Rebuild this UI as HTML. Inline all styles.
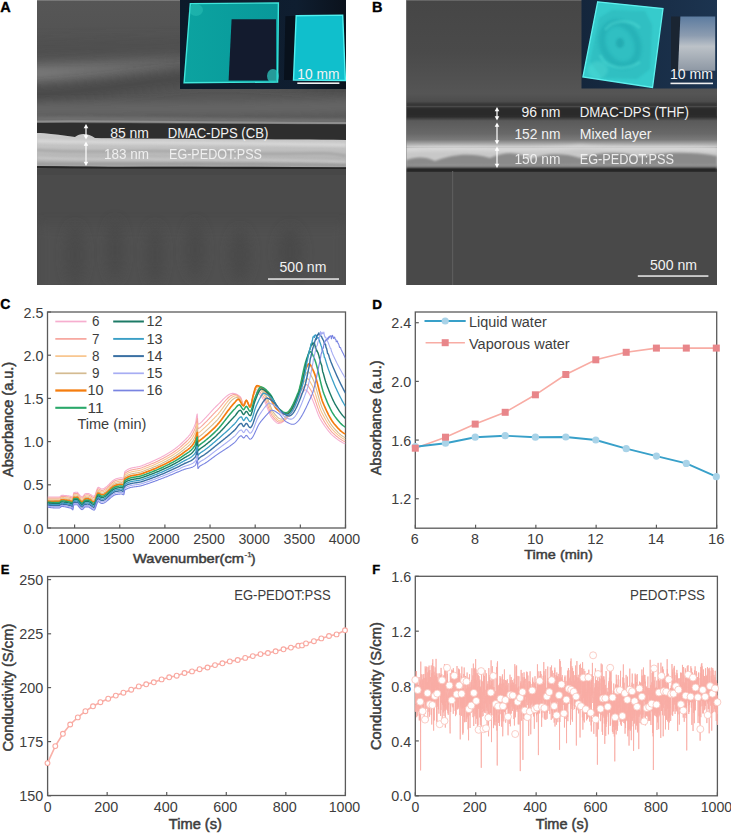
<!DOCTYPE html>
<html><head><meta charset="utf-8"><style>
html,body{margin:0;padding:0;background:#fff;}
body{width:731px;height:833px;overflow:hidden;}
svg{display:block;font-family:"Liberation Sans", sans-serif;}
</style></head><body>
<svg width="731" height="833" viewBox="0 0 731 833">
<defs><filter id="blur2" filterUnits="userSpaceOnUse" x="0" y="0" width="731" height="833"><feGaussianBlur stdDeviation="1.5"/></filter><filter id="blur1" filterUnits="userSpaceOnUse" x="0" y="0" width="731" height="833"><feGaussianBlur stdDeviation="0.8"/></filter><filter id="blur4" filterUnits="userSpaceOnUse" x="0" y="0" width="731" height="833"><feGaussianBlur stdDeviation="4"/></filter><filter id="blur6" filterUnits="userSpaceOnUse" x="0" y="0" width="731" height="833"><feGaussianBlur stdDeviation="6"/></filter><filter id="blur8" filterUnits="userSpaceOnUse" x="0" y="0" width="731" height="833"><feGaussianBlur stdDeviation="9"/></filter></defs>
<defs><clipPath id="clipA"><rect x="37" y="0" width="309" height="285"/></clipPath><clipPath id="clipAbr"><path d="M37 133 C 45 133, 60 135, 75 137 C 80 133, 88 133, 95 138 C 140 139, 220 139, 346 140 L346 167 C 280 168, 200 166, 120 167 C 90 167, 60 166, 37 166 Z"/></clipPath><linearGradient id="gA" x1="0" y1="0" x2="0" y2="1"><stop offset="0" stop-color="#8a8a8a"/><stop offset="0.012" stop-color="#565656"/><stop offset="0.4" stop-color="#525252"/><stop offset="1" stop-color="#585858"/></linearGradient><linearGradient id="gAinset" x1="0" y1="0" x2="1" y2="0"><stop offset="0" stop-color="#0c1a2a"/><stop offset="0.7" stop-color="#0f1e30"/><stop offset="1" stop-color="#0b121c"/></linearGradient><linearGradient id="gAsq" x1="0" y1="0" x2="1" y2="0"><stop offset="0" stop-color="#0ca3a0"/><stop offset="1" stop-color="#08989a"/></linearGradient></defs>
<g clip-path="url(#clipA)">
<rect x="37" y="0" width="309" height="285" fill="#4f4f4f"/>
<rect x="37" y="0" width="309" height="122" fill="url(#gA)"/>
<defs><linearGradient id="gBand" gradientUnits="userSpaceOnUse" x1="37" y1="0" x2="220" y2="0"><stop offset="0" stop-color="#7c7c7c"/><stop offset="0.5" stop-color="#6c6c6c"/><stop offset="1" stop-color="#5c5c5c"/></linearGradient></defs>
<path d="M10 74 C 80 73, 140 66, 220 60" stroke="url(#gBand)" stroke-width="16" fill="none" filter="url(#blur6)"/>
<path d="M20 48 C 100 48, 200 46, 360 44" stroke="#4e4e4e" stroke-width="14" fill="none" opacity="0.7" filter="url(#blur6)"/>
<path d="M10 95 C 80 94, 140 82, 200 76 C 260 74, 300 82, 360 88" stroke="#464646" stroke-width="12" fill="none" filter="url(#blur6)"/>
<path d="M10 110 C 120 108, 240 110, 360 106" stroke="#666666" stroke-width="12" fill="none" filter="url(#blur4)"/>
<path d="M37 119 C 80 118, 140 120, 346 121" stroke="#6e6e6e" stroke-width="5" fill="none" filter="url(#blur1)"/>
<path d="M37 121.5 C 80 120.5, 140 122, 346 123" stroke="#8e8e8e" stroke-width="2" fill="none"/>
<path d="M37 123 C 100 123, 200 124, 346 124.5 L346 140 C 200 139, 120 138, 95 138 C 88 134, 80 134, 75 137 C 60 135, 45 133, 37 133 Z" fill="#2e2e2e"/>
<defs><linearGradient id="gAbr" x1="0" y1="0" x2="0" y2="1"><stop offset="0" stop-color="#cacaca"/><stop offset="0.35" stop-color="#c4c4c4"/><stop offset="0.7" stop-color="#b6b6b6"/><stop offset="1" stop-color="#a8a8a8"/></linearGradient></defs>
<path d="M37 133 C 45 133, 60 135, 75 137 C 80 133, 88 133, 95 138 C 140 139, 220 139, 346 140 L346 167 C 280 168, 200 166, 120 167 C 90 167, 60 166, 37 166 Z" fill="url(#gAbr)"/>
<g clip-path="url(#clipAbr)">
<path d="M37 141 C 100 143, 200 142, 346 145" stroke="#dcdcdc" stroke-width="4" fill="none" opacity="0.7" filter="url(#blur1)"/>
<path d="M37 150 C 80 154, 160 148, 240 153 C 290 156, 320 150, 346 156" stroke="#9a9a9a" stroke-width="2.5" fill="none" opacity="0.6" filter="url(#blur1)"/>
<path d="M37 158 C 100 161, 200 157, 346 162" stroke="#d2d2d2" stroke-width="3" fill="none" opacity="0.6" filter="url(#blur1)"/>
<path d="M37 164 C 100 165, 200 163, 346 165" stroke="#8a8a8a" stroke-width="2" fill="none" opacity="0.6" filter="url(#blur1)"/>
</g>
<path d="M37 167 C 120 168.5, 250 167, 346 168.5" stroke="#262626" stroke-width="2.2" fill="none"/>
<rect x="37" y="169" width="309" height="116" fill="#4b4b4b"/>
<rect x="37" y="169" width="309" height="6" fill="#444" opacity="0.6"/>
<rect x="37" y="225" width="309" height="70" fill="#525252" opacity="0.7" filter="url(#blur6)"/>
<ellipse cx="75" cy="255" rx="9" ry="30" fill="#474747" opacity="0.7" filter="url(#blur6)"/>
<ellipse cx="115" cy="250" rx="8" ry="30" fill="#474747" opacity="0.7" filter="url(#blur6)"/>
<ellipse cx="155" cy="255" rx="8" ry="30" fill="#474747" opacity="0.7" filter="url(#blur6)"/>
<ellipse cx="195" cy="250" rx="9" ry="28" fill="#474747" opacity="0.7" filter="url(#blur6)"/>
<ellipse cx="240" cy="255" rx="10" ry="26" fill="#474747" opacity="0.7" filter="url(#blur6)"/>
<ellipse cx="290" cy="252" rx="12" ry="25" fill="#474747" opacity="0.7" filter="url(#blur6)"/>
<rect x="180" y="0" width="166" height="89" fill="url(#gAinset)"/>
<path d="M190.3 3.6 L278.4 3 L277.6 82 L184.1 82.7 Z" fill="url(#gAsq)" stroke="#3fe6dc" stroke-width="1.4"/>
<path d="M231.6 19.2 L276 19.2 L276 80.4 L228.6 80.4 Z" fill="#131b2e"/>
<ellipse cx="196" cy="10" rx="7" ry="6" fill="#2bc2b8" opacity="0.5"/>
<ellipse cx="273" cy="76" rx="6" ry="7" fill="#2fd0c8" opacity="0.7"/>
<path d="M285.4 16.2 L296.2 15.7 L293.5 80 L284 80 Z" fill="#08111c"/>
<path d="M296.2 15.7 L342.7 15.1 L345.4 80.5 L293.5 80 Z" fill="#10bfcc" stroke="#50f0f0" stroke-width="1.4"/>
<text x="297.3" y="78.6" font-size="14" text-anchor="start" font-weight="normal" fill="#f4f4f4" textLength="42.1" lengthAdjust="spacingAndGlyphs" >10 mm</text>
<rect x="297.3" y="82.4" width="42.1" height="1.6" fill="#f0f0f0"/>
<line x1="86" y1="126" x2="86" y2="137.5" stroke="#ffffff" stroke-width="1.2"/>
<path d="M83.7 128.2 L86 124 L88.3 128.2 Z" fill="#ffffff"/>
<path d="M83.7 135.3 L86 139.5 L88.3 135.3 Z" fill="#ffffff"/>
<line x1="86" y1="143.5" x2="86" y2="164" stroke="#ffffff" stroke-width="1.2"/>
<path d="M83.7 145.7 L86 141.5 L88.3 145.7 Z" fill="#ffffff"/>
<path d="M83.7 161.8 L86 166 L88.3 161.8 Z" fill="#ffffff"/>
<text x="149" y="138" font-size="14" text-anchor="end" font-weight="normal" fill="#f2f2f2" textLength="38.8" lengthAdjust="spacingAndGlyphs" >85 nm</text>
<text x="167.7" y="138" font-size="14" text-anchor="start" font-weight="normal" fill="#f2f2f2" textLength="100.6" lengthAdjust="spacingAndGlyphs" >DMAC-DPS (CB)</text>
<text x="149" y="159" font-size="14" text-anchor="end" font-weight="normal" fill="#f4f4f4" textLength="45" lengthAdjust="spacingAndGlyphs" opacity="0.92">183 nm</text>
<text x="169" y="159" font-size="14" text-anchor="start" font-weight="normal" fill="#f4f4f4" textLength="93" lengthAdjust="spacingAndGlyphs" opacity="0.92">EG-PEDOT:PSS</text>
<rect x="268" y="278.2" width="71" height="1.7" fill="#d8d8d8"/>
<text x="279.5" y="272.4" font-size="14" text-anchor="start" font-weight="normal" fill="#f2f2f2" textLength="46.9" lengthAdjust="spacingAndGlyphs" >500 nm</text>
</g>
<defs><clipPath id="clipB"><rect x="406" y="0" width="311" height="285"/></clipPath><linearGradient id="gB" x1="0" y1="0" x2="0" y2="1"><stop offset="0" stop-color="#7a7a7a"/><stop offset="0.012" stop-color="#464646"/><stop offset="0.5" stop-color="#4a4a4a"/><stop offset="0.9" stop-color="#555555"/><stop offset="1" stop-color="#4a4a4a"/></linearGradient><linearGradient id="gMix" x1="0" y1="0" x2="0" y2="1"><stop offset="0" stop-color="#5a5a5a"/><stop offset="0.5" stop-color="#686868"/><stop offset="1" stop-color="#8c8c8c"/></linearGradient><linearGradient id="gBinset" x1="0" y1="0" x2="1" y2="0"><stop offset="0" stop-color="#14263c"/><stop offset="1" stop-color="#1c3450"/></linearGradient><linearGradient id="gBrect" x1="0" y1="0" x2="0" y2="1"><stop offset="0" stop-color="#5d7ca0"/><stop offset="0.35" stop-color="#8c9cb0"/><stop offset="0.55" stop-color="#bcc2c8"/><stop offset="1" stop-color="#8e98a4"/></linearGradient><radialGradient id="gBsq" cx="0.55" cy="0.5" r="0.6"><stop offset="0" stop-color="#22a8a2"/><stop offset="0.15" stop-color="#2cbab2"/><stop offset="0.35" stop-color="#26aca6"/><stop offset="0.6" stop-color="#32c4bc"/><stop offset="1" stop-color="#34c8c0"/></radialGradient></defs>
<g clip-path="url(#clipB)">
<rect x="406" y="0" width="311" height="285" fill="#494949"/>
<rect x="406" y="0" width="311" height="104" fill="url(#gB)"/>
<rect x="406" y="103" width="311" height="3" fill="#363636" filter="url(#blur1)"/>
<rect x="406" y="106" width="311" height="1" fill="#555555"/>
<rect x="406" y="107.2" width="311" height="10.5" fill="#2a2a2a" filter="url(#blur1)"/>
<defs><linearGradient id="gMix2" x1="0" y1="0" x2="0" y2="1"><stop offset="0" stop-color="#2a2a2a"/><stop offset="0.14" stop-color="#5a5a5a"/><stop offset="0.55" stop-color="#686868"/><stop offset="0.75" stop-color="#7a7a7a"/><stop offset="0.88" stop-color="#a8a8a8"/><stop offset="1" stop-color="#cdcdcd"/></linearGradient></defs>
<rect x="406" y="116.5" width="311" height="31" fill="url(#gMix2)"/>
<rect x="406" y="147.5" width="311" height="21" fill="#c8c8c8"/>
<path d="M406 150 C 450 146, 520 152, 580 147 C 640 151, 690 146, 717 150" stroke="#dadada" stroke-width="5" fill="none" opacity="0.8" filter="url(#blur2)"/>
<path d="M406 169 L406 160 C 415 157, 425 156, 435 161 C 450 155, 470 152, 490 158 C 505 151, 520 152, 530 159 C 545 154, 560 152, 580 158 C 600 151, 625 152, 640 157 C 660 152, 690 151, 717 156 L717 169 Z" fill="#8a8a8a" filter="url(#blur1)"/>
<path d="M406 169 L406 165 C 440 163, 500 166, 560 164 C 620 162, 680 165, 717 164 L717 169 Z" fill="#9a9a9a" opacity="0.6" filter="url(#blur1)"/>
<rect x="406" y="167.6" width="311" height="4.6" fill="#222" filter="url(#blur1)"/>
<rect x="406" y="172" width="311" height="113" fill="#494949"/>
<rect x="406" y="0" width="1" height="285" fill="#888" opacity="0.5"/>
<rect x="452" y="171" width="1.2" height="114" fill="#5c5c5c"/>
<rect x="581.5" y="0" width="136" height="88.5" fill="url(#gBinset)"/>
<path d="M597.7 1.8 L663 8.6 L652.5 87.4 L582.9 77 Z" fill="#36cbcc" stroke="#5ef0ee" stroke-width="1.3"/>
<defs><clipPath id="clipBsq"><path d="M597.7 1.8 L663 8.6 L652.5 87.4 L582.9 77 Z"/></clipPath></defs>
<g clip-path="url(#clipBsq)">
<path d="M599 18 L612 10 L645 11 L652 25 L650 69 L637 79 L602 78 L590 62 Z" fill="#2cb4b8" opacity="0.5" filter="url(#blur1)"/>
<ellipse cx="620" cy="44" rx="17" ry="22" transform="rotate(-25 620 44)" fill="none" stroke="#1fa4ac" stroke-width="7" opacity="0.45" filter="url(#blur2)"/>
<ellipse cx="620" cy="43" rx="4" ry="5" fill="#1ea0a8" opacity="0.6" filter="url(#blur1)"/>
<path d="M605 30 C 612 20, 630 18, 640 28" stroke="#5ee6de" stroke-width="3" fill="none" opacity="0.35" filter="url(#blur1)"/>
<path d="M600 55 C 605 68, 625 72, 640 62" stroke="#5ee6de" stroke-width="3" fill="none" opacity="0.35" filter="url(#blur1)"/>
<ellipse cx="598" cy="70" rx="10" ry="9" fill="#5ae0d8" opacity="0.35" filter="url(#blur2)"/>
</g>
<path d="M671 16.6 L680.4 16.6 L678 70.7 L671 70.7 Z" fill="#1a2532"/>
<path d="M680.4 16.6 L715.2 16.6 L715.2 70.7 L678 70.7 Z" fill="url(#gBrect)"/>
<text x="670" y="78.6" font-size="14" text-anchor="start" font-weight="normal" fill="#f4f4f4" textLength="43" lengthAdjust="spacingAndGlyphs" >10 mm</text>
<rect x="670.5" y="82.6" width="42.5" height="1.6" fill="#f0f0f0"/>
<line x1="497" y1="109" x2="497" y2="118.5" stroke="#ffffff" stroke-width="1.2"/>
<path d="M494.7 111.2 L497 107 L499.3 111.2 Z" fill="#ffffff"/>
<path d="M494.7 116.3 L497 120.5 L499.3 116.3 Z" fill="#ffffff"/>
<line x1="497" y1="124.5" x2="497" y2="142.5" stroke="#ffffff" stroke-width="1.2"/>
<path d="M494.7 126.7 L497 122.5 L499.3 126.7 Z" fill="#ffffff"/>
<path d="M494.7 140.3 L497 144.5 L499.3 140.3 Z" fill="#ffffff"/>
<line x1="497" y1="148.5" x2="497" y2="166" stroke="#ffffff" stroke-width="1.2"/>
<path d="M494.7 150.7 L497 146.5 L499.3 150.7 Z" fill="#ffffff"/>
<path d="M494.7 163.8 L497 168 L499.3 163.8 Z" fill="#ffffff"/>
<text x="560.4" y="116.5" font-size="14" text-anchor="end" font-weight="normal" fill="#f2f2f2" textLength="38.8" lengthAdjust="spacingAndGlyphs" >96 nm</text>
<text x="579.7" y="116.5" font-size="14" text-anchor="start" font-weight="normal" fill="#f2f2f2" textLength="109.2" lengthAdjust="spacingAndGlyphs" >DMAC-DPS (THF)</text>
<text x="560.4" y="138.7" font-size="14" text-anchor="end" font-weight="normal" fill="#f2f2f2" textLength="46" lengthAdjust="spacingAndGlyphs" >152 nm</text>
<text x="579.7" y="138.7" font-size="14" text-anchor="start" font-weight="normal" fill="#f2f2f2" textLength="71.8" lengthAdjust="spacingAndGlyphs" >Mixed layer</text>
<text x="560.4" y="164" font-size="14" text-anchor="end" font-weight="normal" fill="#f4f4f4" textLength="46" lengthAdjust="spacingAndGlyphs" opacity="0.92">150 nm</text>
<text x="579.7" y="164" font-size="14" text-anchor="start" font-weight="normal" fill="#f4f4f4" textLength="94.2" lengthAdjust="spacingAndGlyphs" opacity="0.92">EG-PEDOT:PSS</text>
<rect x="637.8" y="275.2" width="70.6" height="1.7" fill="#d8d8d8"/>
<text x="650" y="269.6" font-size="14" text-anchor="start" font-weight="normal" fill="#f2f2f2" textLength="47" lengthAdjust="spacingAndGlyphs" >500 nm</text>
</g>
<text x="0.3" y="11.9" font-size="14.5" text-anchor="start" font-weight="bold" fill="#000" stroke="#000" stroke-width="0.35">A</text>
<text x="372" y="11.9" font-size="14.5" text-anchor="start" font-weight="bold" fill="#000" stroke="#000" stroke-width="0.35">B</text>
<text x="0.3" y="308.6" font-size="14" text-anchor="start" font-weight="bold" fill="#000" stroke="#000" stroke-width="0.35">C</text>
<rect x="47.5" y="312" width="298.0" height="216" fill="none" stroke="#5a5a5a" stroke-width="1.3"/>
<line x1="47.5" y1="528.0" x2="51.0" y2="528.0" stroke="#5a5a5a" stroke-width="1.2"/>
<text x="43.6" y="533.6" font-size="14.5" text-anchor="end" font-weight="normal" fill="#3d3d3d" textLength="20" lengthAdjust="spacingAndGlyphs" >0.0</text>
<line x1="47.5" y1="484.8" x2="51.0" y2="484.8" stroke="#5a5a5a" stroke-width="1.2"/>
<text x="43.6" y="490.40000000000003" font-size="14.5" text-anchor="end" font-weight="normal" fill="#3d3d3d" textLength="20" lengthAdjust="spacingAndGlyphs" >0.5</text>
<line x1="47.5" y1="441.6" x2="51.0" y2="441.6" stroke="#5a5a5a" stroke-width="1.2"/>
<text x="43.6" y="447.20000000000005" font-size="14.5" text-anchor="end" font-weight="normal" fill="#3d3d3d" textLength="20" lengthAdjust="spacingAndGlyphs" >1.0</text>
<line x1="47.5" y1="398.4" x2="51.0" y2="398.4" stroke="#5a5a5a" stroke-width="1.2"/>
<text x="43.6" y="404.0" font-size="14.5" text-anchor="end" font-weight="normal" fill="#3d3d3d" textLength="20" lengthAdjust="spacingAndGlyphs" >1.5</text>
<line x1="47.5" y1="355.2" x2="51.0" y2="355.2" stroke="#5a5a5a" stroke-width="1.2"/>
<text x="43.6" y="360.8" font-size="14.5" text-anchor="end" font-weight="normal" fill="#3d3d3d" textLength="20" lengthAdjust="spacingAndGlyphs" >2.0</text>
<line x1="47.5" y1="312.0" x2="51.0" y2="312.0" stroke="#5a5a5a" stroke-width="1.2"/>
<text x="43.6" y="317.6" font-size="14.5" text-anchor="end" font-weight="normal" fill="#3d3d3d" textLength="20" lengthAdjust="spacingAndGlyphs" >2.5</text>
<line x1="74.5909090909091" y1="528" x2="74.5909090909091" y2="524.5" stroke="#5a5a5a" stroke-width="1.2"/>
<text x="73.5909090909091" y="544.4" font-size="14.5" text-anchor="middle" font-weight="normal" fill="#3d3d3d" textLength="31.5" lengthAdjust="spacingAndGlyphs" >1000</text>
<line x1="119.74242424242425" y1="528" x2="119.74242424242425" y2="524.5" stroke="#5a5a5a" stroke-width="1.2"/>
<text x="118.74242424242425" y="544.4" font-size="14.5" text-anchor="middle" font-weight="normal" fill="#3d3d3d" textLength="31.5" lengthAdjust="spacingAndGlyphs" >1500</text>
<line x1="164.89393939393938" y1="528" x2="164.89393939393938" y2="524.5" stroke="#5a5a5a" stroke-width="1.2"/>
<text x="163.89393939393938" y="544.4" font-size="14.5" text-anchor="middle" font-weight="normal" fill="#3d3d3d" textLength="31.5" lengthAdjust="spacingAndGlyphs" >2000</text>
<line x1="210.04545454545453" y1="528" x2="210.04545454545453" y2="524.5" stroke="#5a5a5a" stroke-width="1.2"/>
<text x="209.04545454545453" y="544.4" font-size="14.5" text-anchor="middle" font-weight="normal" fill="#3d3d3d" textLength="31.5" lengthAdjust="spacingAndGlyphs" >2500</text>
<line x1="255.19696969696972" y1="528" x2="255.19696969696972" y2="524.5" stroke="#5a5a5a" stroke-width="1.2"/>
<text x="254.19696969696972" y="544.4" font-size="14.5" text-anchor="middle" font-weight="normal" fill="#3d3d3d" textLength="31.5" lengthAdjust="spacingAndGlyphs" >3000</text>
<line x1="300.3484848484849" y1="528" x2="300.3484848484849" y2="524.5" stroke="#5a5a5a" stroke-width="1.2"/>
<text x="299.3484848484849" y="544.4" font-size="14.5" text-anchor="middle" font-weight="normal" fill="#3d3d3d" textLength="31.5" lengthAdjust="spacingAndGlyphs" >3500</text>
<line x1="345.5" y1="528" x2="345.5" y2="524.5" stroke="#5a5a5a" stroke-width="1.2"/>
<text x="344.5" y="544.4" font-size="14.5" text-anchor="middle" font-weight="normal" fill="#3d3d3d" textLength="31.5" lengthAdjust="spacingAndGlyphs" >4000</text>
<text transform="translate(12.6 419.4) rotate(-90)" x="0" y="0" font-size="14.5" font-weight="normal" fill="#3d3d3d" stroke="#3d3d3d" stroke-width="0.5" text-anchor="middle" textLength="115" lengthAdjust="spacingAndGlyphs">Absorbance (a.u.)</text>
<text x="133" y="563.3" font-size="13.5" font-weight="normal" fill="#3d3d3d" stroke="#3d3d3d" stroke-width="0.5" textLength="111" lengthAdjust="spacingAndGlyphs">Wavenumber(cm</text>
<text x="244.5" y="557" font-size="8" font-weight="normal" fill="#3d3d3d" stroke="#3d3d3d" stroke-width="0.25">-1</text>
<text x="251" y="563.3" font-size="13.5" font-weight="normal" fill="#3d3d3d" stroke="#3d3d3d" stroke-width="0.5">)</text>
<defs><clipPath id="clipC"><rect x="47.5" y="312" width="298.0" height="216"/></clipPath></defs>
<g clip-path="url(#clipC)" fill="none" stroke-linejoin="round">
<path d="M47.50 497.07 L48.04 497.07 L48.58 497.07 L49.13 497.07 L49.67 497.07 L50.21 497.07 L50.75 497.07 L51.29 497.07 L51.83 497.07 L52.38 497.07 L52.92 497.07 L53.46 497.07 L54.00 497.07 L54.54 497.07 L55.09 497.07 L55.63 497.07 L56.17 497.07 L56.71 497.07 L57.25 497.07 L57.79 497.07 L58.34 497.07 L58.88 497.07 L59.06 497.07 L59.42 496.99 L59.96 496.65 L60.50 496.16 L61.05 495.69 L61.59 495.39 L61.86 495.34 L62.13 495.34 L62.67 495.35 L63.21 495.37 L63.75 495.39 L64.30 495.43 L64.84 495.47 L65.38 495.51 L65.92 495.56 L66.46 495.62 L67.01 495.68 L67.55 495.75 L68.09 495.82 L68.63 495.89 L68.99 495.95 L69.17 495.97 L69.71 496.07 L70.26 496.20 L70.80 496.36 L71.34 496.56 L71.70 496.72 L71.88 496.86 L72.42 497.53 L72.78 497.76 L72.97 497.38 L73.51 493.96 L73.87 492.58 L74.05 492.53 L74.59 492.43 L75.13 492.35 L75.67 492.29 L76.22 492.25 L76.76 492.23 L77.21 492.23 L77.30 492.24 L77.84 492.72 L78.38 493.54 L78.84 494.13 L78.93 494.22 L79.47 494.78 L80.01 495.37 L80.55 495.91 L81.09 496.35 L81.63 496.64 L82.09 496.72 L82.18 496.72 L82.72 496.46 L83.26 495.91 L83.80 495.22 L84.34 494.53 L84.89 493.98 L85.43 493.70 L85.97 493.61 L86.51 493.54 L87.05 493.49 L87.59 493.45 L88.14 493.44 L88.68 493.57 L89.22 493.84 L89.76 494.13 L90.30 494.41 L90.85 494.73 L91.39 495.07 L91.93 495.41 L92.47 495.72 L93.01 495.97 L93.55 496.14 L94.10 496.20 L94.64 495.79 L95.18 494.72 L95.72 493.21 L96.26 491.51 L96.81 489.85 L97.35 488.46 L97.89 487.58 L98.25 487.39 L98.43 487.40 L98.97 487.56 L99.51 487.85 L100.06 488.20 L100.60 488.54 L101.14 488.81 L101.68 488.94 L101.77 488.95 L102.22 488.92 L102.77 488.82 L103.31 488.66 L103.85 488.44 L104.39 488.16 L104.93 487.83 L105.47 487.46 L106.02 487.04 L106.56 486.59 L107.10 486.12 L107.64 485.62 L108.18 485.10 L108.73 484.57 L109.27 484.03 L109.81 483.49 L110.35 482.95 L110.89 482.42 L111.43 481.90 L111.98 481.41 L112.52 480.94 L113.06 480.49 L113.60 480.09 L114.14 479.72 L114.69 479.40 L115.23 479.13 L115.77 478.92 L116.04 478.84 L116.31 478.76 L116.85 478.61 L117.39 478.47 L117.94 478.32 L118.48 478.19 L119.02 478.08 L119.56 477.97 L120.10 477.89 L120.65 477.84 L121.19 477.81 L121.46 477.80 L121.73 477.83 L122.27 477.98 L122.81 478.19 L123.35 478.36 L123.72 478.41 L123.90 477.93 L124.44 473.56 L124.80 471.67 L124.98 471.51 L125.52 471.05 L126.06 470.64 L126.61 470.25 L127.15 469.90 L127.69 469.58 L128.23 469.29 L128.77 469.03 L129.31 468.79 L129.86 468.58 L130.40 468.38 L130.94 468.21 L131.48 468.05 L132.02 467.90 L132.57 467.77 L133.11 467.66 L133.65 467.55 L134.19 467.45 L134.73 467.35 L135.27 467.26 L135.82 467.17 L136.36 467.08 L136.90 466.99 L137.44 466.89 L137.98 466.79 L138.53 466.68 L139.07 466.56 L139.61 466.43 L140.15 466.28 L140.69 466.12 L141.23 465.94 L141.78 465.74 L141.87 465.71 L142.32 465.53 L142.86 465.32 L143.40 465.10 L143.94 464.89 L144.49 464.67 L145.03 464.46 L145.57 464.24 L146.11 464.02 L146.65 463.80 L147.19 463.58 L147.74 463.36 L148.28 463.14 L148.82 462.92 L149.36 462.69 L149.90 462.46 L150.45 462.23 L150.99 462.00 L151.53 461.77 L152.07 461.54 L152.61 461.30 L153.15 461.06 L153.70 460.82 L154.24 460.58 L154.78 460.33 L155.32 460.08 L155.86 459.83 L156.41 459.57 L156.95 459.32 L157.49 459.06 L158.03 458.79 L158.57 458.53 L159.11 458.26 L159.66 457.98 L160.20 457.71 L160.74 457.43 L161.28 457.14 L161.82 456.86 L162.37 456.57 L162.91 456.27 L163.45 455.97 L163.81 455.77 L163.99 455.67 L164.53 455.36 L165.07 455.06 L165.62 454.75 L166.16 454.43 L166.70 454.12 L167.24 453.80 L167.78 453.48 L168.33 453.15 L168.87 452.83 L169.41 452.49 L169.95 452.15 L170.49 451.81 L171.03 451.46 L171.58 451.11 L172.12 450.75 L172.66 450.39 L173.20 450.02 L173.74 449.64 L174.29 449.26 L174.83 448.87 L175.37 448.47 L175.91 448.06 L176.45 447.65 L176.99 447.23 L177.54 446.80 L178.08 446.36 L178.62 445.91 L179.16 445.45 L179.70 444.98 L180.25 444.51 L180.79 444.02 L181.33 443.52 L181.87 443.02 L182.41 442.50 L182.95 441.97 L183.50 441.43 L184.04 440.89 L184.58 440.35 L185.12 439.82 L185.66 439.29 L186.21 438.74 L186.75 438.19 L187.29 437.62 L187.83 437.03 L188.37 436.40 L188.91 435.75 L189.46 435.06 L190.00 434.33 L190.54 433.55 L191.08 432.72 L191.62 431.83 L192.17 430.89 L192.71 429.87 L193.25 428.78 L193.79 427.62 L194.33 426.37 L194.87 425.04 L195.42 423.62 L195.51 423.37 L195.96 421.10 L196.50 417.12 L197.04 414.28 L197.22 414.04 L197.58 419.14 L197.94 424.23 L198.13 424.22 L198.67 424.04 L199.21 423.76 L199.30 423.72 L199.75 423.46 L200.29 423.09 L200.83 422.65 L201.38 422.15 L201.92 421.62 L202.46 421.05 L203.00 420.47 L203.54 419.88 L204.09 419.30 L204.63 418.72 L204.99 418.36 L205.17 418.18 L205.71 417.63 L206.25 417.06 L206.79 416.49 L207.34 415.90 L207.88 415.31 L208.42 414.70 L208.96 414.10 L209.50 413.49 L210.05 412.88 L210.59 412.26 L211.13 411.65 L211.67 411.05 L212.21 410.44 L212.75 409.85 L213.30 409.26 L213.84 408.68 L214.38 408.12 L214.92 407.56 L215.46 407.02 L216.01 406.50 L216.55 406.00 L216.64 405.92 L217.09 405.50 L217.63 404.99 L218.17 404.46 L218.71 403.92 L219.26 403.37 L219.80 402.81 L220.34 402.25 L220.88 401.69 L221.42 401.12 L221.97 400.56 L222.51 400.00 L223.05 399.45 L223.59 398.91 L224.13 398.38 L224.67 397.86 L225.22 397.36 L225.76 396.88 L226.30 396.42 L226.84 395.99 L227.38 395.57 L227.93 395.19 L228.47 394.84 L229.01 394.52 L229.55 394.23 L230.09 393.98 L230.63 393.78 L231.18 393.61 L231.72 393.49 L232.26 393.41 L232.80 393.39 L233.34 393.41 L233.89 393.47 L234.43 393.57 L234.97 393.70 L235.51 393.88 L236.05 394.08 L236.59 394.32 L237.14 394.60 L237.68 394.90 L238.22 395.23 L238.76 395.60 L239.30 395.99 L239.85 396.40 L240.39 396.84 L240.93 397.72 L241.47 399.22 L242.01 400.99 L242.55 402.68 L243.10 403.95 L243.64 404.45 L244.18 403.97 L244.72 402.84 L245.26 401.52 L245.81 400.47 L246.26 400.13 L246.35 400.14 L246.89 400.56 L247.43 401.45 L247.97 402.63 L248.51 403.88 L249.06 405.03 L249.60 405.86 L250.14 406.18 L250.68 405.49 L251.22 403.78 L251.77 401.56 L252.31 399.38 L252.62 398.34 L252.85 397.63 L253.39 395.89 L253.93 394.27 L254.47 393.09 L254.56 392.96 L255.02 392.36 L255.56 391.93 L255.65 391.92 L256.10 391.96 L256.64 392.10 L257.18 392.35 L257.73 392.68 L258.27 393.09 L258.81 393.58 L259.35 394.13 L259.89 394.73 L260.43 395.38 L260.98 396.07 L261.52 396.78 L262.06 397.52 L262.60 398.26 L263.14 399.01 L263.69 399.75 L263.71 399.78 L264.23 400.58 L264.77 401.57 L265.31 402.72 L265.85 403.99 L266.39 405.34 L266.94 406.76 L267.48 408.22 L268.02 409.68 L268.56 411.12 L269.10 412.51 L269.65 413.83 L270.19 415.04 L270.73 416.12 L271.27 417.03 L271.77 417.71 L271.81 417.76 L272.35 418.41 L272.90 419.05 L273.44 419.68 L273.98 420.29 L274.52 420.87 L275.06 421.41 L275.61 421.91 L276.15 422.34 L276.69 422.72 L277.23 423.01 L277.77 423.23 L278.31 423.35 L278.68 423.37 L278.86 423.37 L279.40 423.32 L279.94 423.22 L280.48 423.07 L281.02 422.87 L281.57 422.63 L282.11 422.34 L282.65 422.01 L283.19 421.65 L283.73 421.24 L284.27 420.81 L284.82 420.34 L285.36 419.84 L285.90 419.31 L286.44 418.76 L286.98 418.19 L287.53 417.60 L288.07 416.99 L288.61 416.37 L289.15 415.73 L289.69 415.08 L290.23 414.43 L290.78 413.77 L291.32 413.11 L291.86 412.44 L292.00 412.28 L292.40 411.74 L292.94 410.89 L293.49 409.92 L294.03 408.85 L294.57 407.69 L295.11 406.46 L295.65 405.18 L296.19 403.88 L296.74 402.57 L297.28 401.27 L297.82 400.00 L298.36 398.78 L298.90 397.63 L299.45 396.57 L299.99 395.61 L300.52 394.80 L300.53 394.79 L301.07 394.06 L301.61 393.38 L302.15 392.75 L302.70 392.15 L303.24 391.59 L303.78 391.06 L304.25 390.62 L304.32 390.56 L304.86 389.99 L305.32 389.76 L305.41 389.76 L305.95 389.91 L306.49 390.25 L307.03 390.75 L307.57 391.39 L308.11 392.12 L308.66 392.91 L309.20 393.74 L309.74 394.57 L310.14 395.16 L310.28 395.37 L310.82 396.26 L311.37 397.26 L311.91 398.37 L312.45 399.56 L312.99 400.84 L313.53 402.18 L314.07 403.57 L314.62 405.00 L315.16 406.45 L315.70 407.92 L316.24 409.38 L316.78 410.83 L317.33 412.25 L317.87 413.63 L318.41 414.96 L318.95 416.21 L319.49 417.39 L320.03 418.47 L320.58 419.44 L320.59 419.46 L321.12 420.35 L321.66 421.24 L322.20 422.12 L322.74 422.98 L323.29 423.83 L323.83 424.66 L324.37 425.47 L324.91 426.26 L325.45 427.04 L325.99 427.80 L326.54 428.54 L327.08 429.27 L327.62 429.97 L328.16 430.65 L328.70 431.32 L329.25 431.96 L329.79 432.58 L330.33 433.18 L330.87 433.76 L331.41 434.32 L331.95 434.85 L332.50 435.36 L333.04 435.85 L333.44 436.20 L333.58 436.31 L334.12 436.77 L334.66 437.21 L335.21 437.65 L335.75 438.09 L336.29 438.51 L336.83 438.93 L337.37 439.33 L337.91 439.73 L338.46 440.11 L339.00 440.48 L339.54 440.84 L340.08 441.19 L340.62 441.52 L341.17 441.84 L341.71 442.14 L342.25 442.43 L342.79 442.69 L343.33 442.95 L343.87 443.18 L344.42 443.39 L344.96 443.59 L345.50 443.76" stroke="#f6aecf" stroke-width="1.1"/>
<path d="M47.50 498.06 L48.04 498.08 L48.58 498.09 L49.13 498.10 L49.67 498.11 L50.21 498.12 L50.75 498.12 L51.29 498.13 L51.83 498.14 L52.38 498.14 L52.92 498.15 L53.46 498.15 L54.00 498.15 L54.54 498.15 L55.09 498.16 L55.63 498.16 L56.17 498.16 L56.71 498.16 L57.25 498.16 L57.79 498.16 L58.34 498.16 L58.88 498.16 L59.06 498.16 L59.42 498.08 L59.96 497.74 L60.50 497.27 L61.05 496.80 L61.59 496.50 L61.86 496.46 L62.13 496.46 L62.67 496.47 L63.21 496.49 L63.75 496.52 L64.30 496.55 L64.84 496.60 L65.38 496.65 L65.92 496.71 L66.46 496.77 L67.01 496.84 L67.55 496.91 L68.09 496.99 L68.63 497.07 L68.99 497.12 L69.17 497.15 L69.71 497.25 L70.26 497.38 L70.80 497.55 L71.34 497.76 L71.70 497.92 L71.88 498.06 L72.42 498.74 L72.78 498.97 L72.97 498.59 L73.51 495.17 L73.87 493.79 L74.05 493.76 L74.59 493.66 L75.13 493.58 L75.67 493.53 L76.22 493.50 L76.76 493.48 L77.21 493.48 L77.30 493.49 L77.84 493.97 L78.38 494.80 L78.84 495.39 L78.93 495.48 L79.47 496.05 L80.01 496.64 L80.55 497.18 L81.09 497.63 L81.63 497.93 L82.09 498.01 L82.18 498.00 L82.72 497.74 L83.26 497.20 L83.80 496.52 L84.34 495.83 L84.89 495.28 L85.43 495.02 L85.97 494.94 L86.51 494.87 L87.05 494.82 L87.59 494.79 L88.14 494.78 L88.68 494.91 L89.22 495.19 L89.76 495.48 L90.30 495.76 L90.85 496.09 L91.39 496.44 L91.93 496.79 L92.47 497.10 L93.01 497.36 L93.55 497.53 L94.10 497.59 L94.64 497.19 L95.18 496.11 L95.72 494.61 L96.26 492.92 L96.81 491.26 L97.35 489.88 L97.89 489.00 L98.25 488.82 L98.43 488.83 L98.97 488.99 L99.51 489.28 L100.06 489.64 L100.60 489.99 L101.14 490.27 L101.68 490.40 L101.77 490.40 L102.22 490.38 L102.77 490.28 L103.31 490.12 L103.85 489.90 L104.39 489.62 L104.93 489.29 L105.47 488.92 L106.02 488.51 L106.56 488.07 L107.10 487.60 L107.64 487.10 L108.18 486.59 L108.73 486.06 L109.27 485.53 L109.81 484.99 L110.35 484.46 L110.89 483.94 L111.43 483.43 L111.98 482.94 L112.52 482.47 L113.06 482.04 L113.60 481.64 L114.14 481.28 L114.69 480.96 L115.23 480.70 L115.77 480.49 L116.04 480.41 L116.31 480.34 L116.85 480.20 L117.39 480.06 L117.94 479.92 L118.48 479.80 L119.02 479.68 L119.56 479.59 L120.10 479.51 L120.65 479.46 L121.19 479.43 L121.46 479.42 L121.73 479.45 L122.27 479.61 L122.81 479.83 L123.35 480.01 L123.72 480.05 L123.90 479.58 L124.44 475.34 L124.80 473.50 L124.98 473.34 L125.52 472.90 L126.06 472.49 L126.61 472.12 L127.15 471.78 L127.69 471.47 L128.23 471.19 L128.77 470.93 L129.31 470.70 L129.86 470.49 L130.40 470.30 L130.94 470.13 L131.48 469.97 L132.02 469.84 L132.57 469.71 L133.11 469.59 L133.65 469.49 L134.19 469.39 L134.73 469.30 L135.27 469.21 L135.82 469.12 L136.36 469.03 L136.90 468.94 L137.44 468.85 L137.98 468.75 L138.53 468.64 L139.07 468.52 L139.61 468.40 L140.15 468.25 L140.69 468.10 L141.23 467.92 L141.78 467.73 L141.87 467.69 L142.32 467.52 L142.86 467.31 L143.40 467.10 L143.94 466.89 L144.49 466.68 L145.03 466.47 L145.57 466.26 L146.11 466.05 L146.65 465.83 L147.19 465.62 L147.74 465.40 L148.28 465.18 L148.82 464.96 L149.36 464.74 L149.90 464.52 L150.45 464.29 L150.99 464.06 L151.53 463.84 L152.07 463.60 L152.61 463.37 L153.15 463.14 L153.70 462.90 L154.24 462.66 L154.78 462.42 L155.32 462.18 L155.86 461.93 L156.41 461.68 L156.95 461.43 L157.49 461.17 L158.03 460.92 L158.57 460.66 L159.11 460.39 L159.66 460.13 L160.20 459.86 L160.74 459.58 L161.28 459.31 L161.82 459.03 L162.37 458.75 L162.91 458.46 L163.45 458.17 L163.81 457.97 L163.99 457.87 L164.53 457.58 L165.07 457.28 L165.62 456.98 L166.16 456.68 L166.70 456.37 L167.24 456.07 L167.78 455.76 L168.33 455.44 L168.87 455.12 L169.41 454.80 L169.95 454.48 L170.49 454.15 L171.03 453.81 L171.58 453.47 L172.12 453.13 L172.66 452.78 L173.20 452.42 L173.74 452.06 L174.29 451.69 L174.83 451.32 L175.37 450.94 L175.91 450.55 L176.45 450.16 L176.99 449.75 L177.54 449.34 L178.08 448.93 L178.62 448.50 L179.16 448.07 L179.70 447.62 L180.25 447.17 L180.79 446.71 L181.33 446.24 L181.87 445.76 L182.41 445.27 L182.95 444.76 L183.50 444.25 L184.04 443.74 L184.58 443.24 L185.12 442.75 L185.66 442.25 L186.21 441.75 L186.75 441.24 L187.29 440.71 L187.83 440.17 L188.37 439.60 L188.91 439.00 L189.46 438.37 L190.00 437.70 L190.54 436.98 L191.08 436.22 L191.62 435.40 L192.17 434.53 L192.71 433.59 L193.25 432.58 L193.79 431.50 L194.33 430.34 L194.87 429.10 L195.42 427.77 L195.51 427.54 L195.96 425.39 L196.50 421.60 L197.04 418.87 L197.22 418.64 L197.58 423.65 L197.94 428.67 L198.13 428.65 L198.67 428.41 L199.21 428.06 L199.30 428.01 L199.75 427.72 L200.29 427.33 L200.83 426.89 L201.38 426.41 L201.92 425.91 L202.46 425.38 L203.00 424.84 L203.54 424.29 L204.09 423.74 L204.63 423.20 L204.99 422.85 L205.17 422.68 L205.71 422.15 L206.25 421.61 L206.79 421.07 L207.34 420.52 L207.88 419.96 L208.42 419.39 L208.96 418.82 L209.50 418.25 L210.05 417.68 L210.59 417.10 L211.13 416.52 L211.67 415.94 L212.21 415.37 L212.75 414.79 L213.30 414.22 L213.84 413.65 L214.38 413.09 L214.92 412.53 L215.46 411.98 L216.01 411.44 L216.55 410.90 L216.64 410.82 L217.09 410.37 L217.63 409.81 L218.17 409.22 L218.71 408.62 L219.26 408.00 L219.80 407.37 L220.34 406.73 L220.88 406.07 L221.42 405.42 L221.97 404.75 L222.51 404.09 L223.05 403.43 L223.59 402.77 L224.13 402.12 L224.67 401.48 L225.22 400.85 L225.76 400.24 L226.30 399.64 L226.84 399.07 L227.38 398.51 L227.93 397.98 L228.47 397.48 L229.01 397.01 L229.55 396.57 L230.09 396.16 L230.63 395.80 L231.18 395.47 L231.72 395.19 L232.26 394.95 L232.80 394.76 L233.34 394.63 L233.89 394.54 L234.43 394.51 L234.97 394.55 L235.51 394.66 L236.05 394.83 L236.59 395.07 L237.14 395.36 L237.68 395.70 L238.22 396.08 L238.76 396.51 L239.30 396.97 L239.85 397.46 L240.39 397.97 L240.93 398.84 L241.47 400.22 L242.01 401.82 L242.55 403.32 L243.10 404.44 L243.64 404.88 L244.18 404.37 L244.72 403.18 L245.26 401.78 L245.81 400.66 L246.26 400.30 L246.35 400.31 L246.89 400.75 L247.43 401.68 L247.97 402.91 L248.51 404.22 L249.06 405.41 L249.60 406.27 L250.14 406.61 L250.68 405.91 L251.22 404.13 L251.77 401.76 L252.31 399.31 L252.82 397.34 L252.85 397.25 L253.39 395.40 L253.93 393.52 L254.47 391.90 L255.02 390.80 L255.56 390.09 L256.10 389.76 L256.64 389.82 L257.18 389.98 L257.73 390.23 L258.27 390.58 L258.81 391.00 L259.35 391.49 L259.89 392.05 L260.43 392.66 L260.98 393.32 L261.52 394.01 L262.06 394.73 L262.60 395.48 L263.14 396.23 L263.69 396.99 L264.23 397.74 L264.32 397.86 L264.77 398.55 L265.31 399.53 L265.85 400.66 L266.39 401.92 L266.94 403.28 L267.48 404.70 L268.02 406.16 L268.56 407.64 L269.10 409.11 L269.65 410.53 L270.19 411.89 L270.73 413.15 L271.27 414.29 L271.81 415.29 L272.35 416.10 L272.54 416.33 L272.90 416.76 L273.44 417.41 L273.98 418.06 L274.52 418.68 L275.06 419.29 L275.61 419.85 L276.15 420.38 L276.69 420.86 L277.23 421.27 L277.77 421.62 L278.31 421.89 L278.86 422.07 L279.40 422.15 L279.58 422.16 L279.94 422.15 L280.48 422.07 L281.02 421.94 L281.57 421.76 L282.11 421.52 L282.65 421.23 L283.19 420.89 L283.73 420.51 L284.27 420.09 L284.82 419.62 L285.36 419.12 L285.90 418.59 L286.44 418.02 L286.98 417.42 L287.53 416.80 L288.07 416.15 L288.61 415.48 L289.15 414.80 L289.69 414.09 L290.23 413.38 L290.78 412.65 L291.32 411.92 L291.86 411.18 L292.40 410.44 L292.90 409.76 L292.94 409.69 L293.49 408.86 L294.03 407.86 L294.57 406.74 L295.11 405.51 L295.65 404.18 L296.19 402.80 L296.74 401.36 L297.28 399.90 L297.82 398.44 L298.36 396.99 L298.90 395.59 L299.45 394.25 L299.99 392.99 L300.53 391.83 L301.07 390.80 L301.42 390.21 L301.61 389.92 L302.15 389.10 L302.70 388.32 L303.24 387.60 L303.78 386.92 L304.32 386.30 L304.86 385.72 L305.15 385.44 L305.41 385.18 L305.95 384.67 L306.22 384.58 L306.49 384.61 L307.03 384.85 L307.57 385.29 L308.11 385.89 L308.66 386.63 L309.20 387.46 L309.74 388.34 L310.28 389.24 L310.82 390.12 L310.93 390.30 L311.37 391.02 L311.91 392.05 L312.45 393.21 L312.99 394.47 L313.53 395.82 L314.07 397.25 L314.62 398.74 L315.16 400.28 L315.70 401.85 L316.24 403.43 L316.78 405.02 L317.33 406.60 L317.87 408.14 L318.41 409.65 L318.95 411.09 L319.49 412.46 L320.03 413.74 L320.58 414.92 L321.12 415.98 L321.15 416.03 L321.66 416.97 L322.20 417.93 L322.74 418.88 L323.29 419.82 L323.83 420.73 L324.37 421.63 L324.91 422.51 L325.45 423.37 L325.99 424.21 L326.54 425.03 L327.08 425.83 L327.62 426.60 L328.16 427.36 L328.70 428.10 L329.25 428.81 L329.79 429.50 L330.33 430.16 L330.87 430.81 L331.41 431.42 L331.95 432.02 L332.50 432.58 L333.04 433.13 L333.58 433.64 L333.72 433.77 L334.12 434.13 L334.66 434.62 L335.21 435.10 L335.75 435.57 L336.29 436.04 L336.83 436.49 L337.37 436.93 L337.91 437.37 L338.46 437.79 L339.00 438.19 L339.54 438.59 L340.08 438.97 L340.62 439.33 L341.17 439.68 L341.71 440.01 L342.25 440.32 L342.79 440.61 L343.33 440.89 L343.87 441.14 L344.42 441.37 L344.96 441.58 L345.50 441.77" stroke="#f7a59c" stroke-width="1.1"/>
<path d="M47.50 499.06 L48.04 499.08 L48.58 499.11 L49.13 499.13 L49.67 499.15 L50.21 499.16 L50.75 499.18 L51.29 499.19 L51.83 499.20 L52.38 499.21 L52.92 499.22 L53.46 499.23 L54.00 499.24 L54.54 499.24 L55.09 499.24 L55.63 499.25 L56.17 499.25 L56.71 499.25 L57.25 499.25 L57.79 499.25 L58.34 499.25 L58.88 499.25 L59.06 499.25 L59.42 499.18 L59.96 498.84 L60.50 498.37 L61.05 497.91 L61.59 497.62 L61.86 497.57 L62.13 497.57 L62.67 497.58 L63.21 497.61 L63.75 497.64 L64.30 497.68 L64.84 497.73 L65.38 497.78 L65.92 497.85 L66.46 497.92 L67.01 497.99 L67.55 498.07 L68.09 498.15 L68.63 498.24 L68.99 498.30 L69.17 498.33 L69.71 498.44 L70.26 498.57 L70.80 498.74 L71.34 498.95 L71.70 499.12 L71.88 499.26 L72.42 499.94 L72.78 500.18 L72.97 499.80 L73.51 496.38 L73.87 495.01 L74.05 494.98 L74.59 494.89 L75.13 494.82 L75.67 494.77 L76.22 494.74 L76.76 494.73 L77.21 494.72 L77.30 494.74 L77.84 495.22 L78.38 496.06 L78.84 496.65 L78.93 496.74 L79.47 497.32 L80.01 497.91 L80.55 498.46 L81.09 498.92 L81.63 499.21 L82.09 499.30 L82.18 499.29 L82.72 499.03 L83.26 498.49 L83.80 497.81 L84.34 497.13 L84.89 496.59 L85.43 496.33 L85.97 496.26 L86.51 496.20 L87.05 496.16 L87.59 496.13 L88.14 496.12 L88.68 496.25 L89.22 496.54 L89.76 496.84 L90.30 497.12 L90.85 497.45 L91.39 497.81 L91.93 498.16 L92.47 498.48 L93.01 498.74 L93.55 498.92 L94.10 498.98 L94.64 498.58 L95.18 497.51 L95.72 496.02 L96.26 494.33 L96.81 492.68 L97.35 491.30 L97.89 490.43 L98.25 490.24 L98.43 490.25 L98.97 490.42 L99.51 490.72 L100.06 491.08 L100.60 491.44 L101.14 491.72 L101.68 491.85 L101.77 491.86 L102.22 491.83 L102.77 491.74 L103.31 491.58 L103.85 491.36 L104.39 491.08 L104.93 490.76 L105.47 490.39 L106.02 489.98 L106.56 489.54 L107.10 489.08 L107.64 488.59 L108.18 488.08 L108.73 487.56 L109.27 487.03 L109.81 486.50 L110.35 485.97 L110.89 485.45 L111.43 484.95 L111.98 484.47 L112.52 484.01 L113.06 483.58 L113.60 483.19 L114.14 482.83 L114.69 482.52 L115.23 482.27 L115.77 482.07 L116.04 481.99 L116.31 481.92 L116.85 481.78 L117.39 481.65 L117.94 481.52 L118.48 481.40 L119.02 481.29 L119.56 481.20 L120.10 481.13 L120.65 481.08 L121.19 481.05 L121.46 481.05 L121.73 481.07 L122.27 481.24 L122.81 481.46 L123.35 481.65 L123.72 481.69 L123.90 481.24 L124.44 477.12 L124.80 475.33 L124.98 475.18 L125.52 474.75 L126.06 474.35 L126.61 473.99 L127.15 473.66 L127.69 473.36 L128.23 473.08 L128.77 472.83 L129.31 472.61 L129.86 472.40 L130.40 472.22 L130.94 472.05 L131.48 471.90 L132.02 471.77 L132.57 471.64 L133.11 471.53 L133.65 471.43 L134.19 471.33 L134.73 471.24 L135.27 471.16 L135.82 471.07 L136.36 470.99 L136.90 470.90 L137.44 470.81 L137.98 470.71 L138.53 470.60 L139.07 470.49 L139.61 470.36 L140.15 470.23 L140.69 470.07 L141.23 469.90 L141.78 469.71 L141.87 469.68 L142.32 469.51 L142.86 469.31 L143.40 469.10 L143.94 468.90 L144.49 468.69 L145.03 468.49 L145.57 468.28 L146.11 468.07 L146.65 467.86 L147.19 467.65 L147.74 467.43 L148.28 467.22 L148.82 467.00 L149.36 466.79 L149.90 466.57 L150.45 466.35 L150.99 466.12 L151.53 465.90 L152.07 465.67 L152.61 465.44 L153.15 465.21 L153.70 464.98 L154.24 464.75 L154.78 464.51 L155.32 464.27 L155.86 464.03 L156.41 463.79 L156.95 463.54 L157.49 463.29 L158.03 463.04 L158.57 462.79 L159.11 462.53 L159.66 462.27 L160.20 462.01 L160.74 461.74 L161.28 461.47 L161.82 461.20 L162.37 460.93 L162.91 460.65 L163.45 460.37 L163.81 460.18 L163.99 460.08 L164.53 459.79 L165.07 459.51 L165.62 459.22 L166.16 458.92 L166.70 458.63 L167.24 458.33 L167.78 458.03 L168.33 457.73 L168.87 457.42 L169.41 457.11 L169.95 456.80 L170.49 456.48 L171.03 456.16 L171.58 455.84 L172.12 455.51 L172.66 455.17 L173.20 454.83 L173.74 454.48 L174.29 454.13 L174.83 453.77 L175.37 453.41 L175.91 453.04 L176.45 452.67 L176.99 452.28 L177.54 451.89 L178.08 451.50 L178.62 451.09 L179.16 450.68 L179.70 450.26 L180.25 449.83 L180.79 449.39 L181.33 448.95 L181.87 448.49 L182.41 448.03 L182.95 447.56 L183.50 447.08 L184.04 446.60 L184.58 446.13 L185.12 445.67 L185.66 445.21 L186.21 444.75 L186.75 444.29 L187.29 443.81 L187.83 443.31 L188.37 442.79 L188.91 442.25 L189.46 441.67 L190.00 441.06 L190.54 440.41 L191.08 439.71 L191.62 438.97 L192.17 438.16 L192.71 437.30 L193.25 436.38 L193.79 435.38 L194.33 434.31 L194.87 433.16 L195.42 431.93 L195.51 431.72 L195.96 429.68 L196.50 426.07 L197.04 423.47 L197.22 423.25 L197.58 428.17 L197.94 433.10 L198.13 433.07 L198.67 432.78 L199.21 432.37 L199.30 432.30 L199.75 431.99 L200.29 431.58 L200.83 431.14 L201.38 430.68 L201.92 430.20 L202.46 429.71 L203.00 429.21 L203.54 428.70 L204.09 428.19 L204.63 427.68 L204.99 427.34 L205.17 427.18 L205.71 426.67 L206.25 426.16 L206.79 425.64 L207.34 425.12 L207.88 424.59 L208.42 424.06 L208.96 423.52 L209.50 422.98 L210.05 422.44 L210.59 421.89 L211.13 421.34 L211.67 420.79 L212.21 420.24 L212.75 419.69 L213.30 419.13 L213.84 418.58 L214.38 418.02 L214.92 417.47 L215.46 416.91 L216.01 416.36 L216.55 415.81 L216.64 415.71 L217.09 415.24 L217.63 414.65 L218.17 414.03 L218.71 413.38 L219.26 412.71 L219.80 412.03 L220.34 411.32 L220.88 410.60 L221.42 409.87 L221.97 409.13 L222.51 408.38 L223.05 407.63 L223.59 406.88 L224.13 406.13 L224.67 405.38 L225.22 404.65 L225.76 403.92 L226.30 403.21 L226.84 402.51 L227.38 401.84 L227.93 401.18 L228.47 400.55 L229.01 399.94 L229.55 399.37 L230.09 398.83 L230.63 398.32 L231.18 397.85 L231.72 397.43 L232.26 397.04 L232.80 396.71 L233.34 396.42 L233.89 396.18 L234.43 396.00 L234.97 395.88 L235.51 395.82 L235.78 395.81 L236.05 395.83 L236.59 395.96 L237.14 396.22 L237.68 396.58 L238.22 397.02 L238.76 397.53 L239.30 398.09 L239.85 398.67 L240.39 399.26 L240.93 400.12 L241.47 401.36 L242.01 402.73 L242.55 404.01 L243.10 404.95 L243.64 405.31 L244.18 404.77 L244.72 403.48 L245.26 401.98 L245.81 400.78 L246.26 400.39 L246.35 400.40 L246.89 400.84 L247.43 401.79 L247.97 403.03 L248.51 404.36 L249.06 405.56 L249.60 406.44 L250.14 406.78 L250.68 406.08 L251.22 404.29 L251.77 401.85 L252.31 399.22 L252.85 396.87 L253.03 396.23 L253.39 394.95 L253.93 392.95 L254.47 391.06 L255.02 389.50 L255.47 388.64 L255.56 388.51 L256.10 387.84 L256.55 387.60 L256.64 387.60 L257.18 387.67 L257.73 387.85 L258.27 388.12 L258.81 388.47 L259.35 388.91 L259.89 389.41 L260.43 389.97 L260.98 390.59 L261.52 391.25 L262.06 391.95 L262.60 392.67 L263.14 393.42 L263.69 394.18 L264.23 394.94 L264.77 395.70 L264.93 395.92 L265.31 396.49 L265.85 397.46 L266.39 398.58 L266.94 399.83 L267.48 401.17 L268.02 402.59 L268.56 404.06 L269.10 405.55 L269.65 407.03 L270.19 408.48 L270.73 409.87 L271.27 411.18 L271.81 412.38 L272.35 413.44 L272.90 414.33 L273.30 414.88 L273.44 415.04 L273.98 415.70 L274.52 416.35 L275.06 416.99 L275.61 417.61 L276.15 418.20 L276.69 418.75 L277.23 419.26 L277.77 419.72 L278.31 420.11 L278.86 420.43 L279.40 420.66 L279.94 420.81 L280.48 420.86 L281.02 420.83 L281.57 420.73 L282.11 420.56 L282.65 420.33 L283.19 420.04 L283.73 419.70 L284.27 419.30 L284.82 418.85 L285.36 418.36 L285.90 417.82 L286.44 417.24 L286.98 416.63 L287.53 415.98 L288.07 415.29 L288.61 414.58 L289.15 413.85 L289.69 413.09 L290.23 412.31 L290.78 411.51 L291.32 410.70 L291.86 409.88 L292.40 409.05 L292.94 408.22 L293.49 407.38 L293.80 406.89 L294.03 406.53 L294.57 405.53 L295.11 404.36 L295.65 403.05 L296.19 401.63 L296.74 400.12 L297.28 398.54 L297.82 396.91 L298.36 395.27 L298.90 393.63 L299.45 392.01 L299.99 390.45 L300.53 388.97 L301.07 387.58 L301.61 386.31 L302.15 385.20 L302.33 384.88 L302.70 384.22 L303.24 383.28 L303.78 382.39 L304.32 381.56 L304.86 380.79 L305.41 380.10 L305.95 379.50 L306.06 379.39 L306.49 378.93 L307.03 378.54 L307.12 378.53 L307.57 378.62 L308.11 378.97 L308.66 379.53 L309.20 380.25 L309.74 381.11 L310.28 382.05 L310.82 383.03 L311.37 384.01 L311.73 384.65 L311.91 384.96 L312.45 386.03 L312.99 387.24 L313.53 388.57 L314.07 390.02 L314.62 391.55 L315.16 393.16 L315.70 394.83 L316.24 396.54 L316.78 398.28 L317.33 400.02 L317.87 401.74 L318.41 403.44 L318.95 405.10 L319.49 406.69 L320.03 408.20 L320.58 409.61 L321.12 410.91 L321.66 412.08 L321.71 412.17 L322.20 413.16 L322.74 414.22 L323.29 415.25 L323.83 416.28 L324.37 417.28 L324.91 418.26 L325.45 419.21 L325.99 420.15 L326.54 421.07 L327.08 421.96 L327.62 422.83 L328.16 423.68 L328.70 424.50 L329.25 425.30 L329.79 426.07 L330.33 426.82 L330.87 427.54 L331.41 428.23 L331.95 428.90 L332.50 429.53 L333.04 430.14 L333.58 430.72 L333.99 431.14 L334.12 431.27 L334.66 431.81 L335.21 432.34 L335.75 432.86 L336.29 433.37 L336.83 433.87 L337.37 434.36 L337.91 434.84 L338.46 435.30 L339.00 435.75 L339.54 436.18 L340.08 436.60 L340.62 437.00 L341.17 437.39 L341.71 437.75 L342.25 438.10 L342.79 438.42 L343.33 438.73 L343.87 439.00 L344.42 439.26 L344.96 439.49 L345.50 439.70" stroke="#f8c48c" stroke-width="1.1"/>
<path d="M47.50 500.05 L48.04 500.09 L48.58 500.12 L49.13 500.16 L49.67 500.19 L50.21 500.21 L50.75 500.23 L51.29 500.26 L51.83 500.27 L52.38 500.29 L52.92 500.30 L53.46 500.31 L54.00 500.32 L54.54 500.33 L55.09 500.33 L55.63 500.34 L56.17 500.34 L56.71 500.34 L57.25 500.34 L57.79 500.34 L58.34 500.34 L58.88 500.34 L59.06 500.34 L59.42 500.27 L59.96 499.94 L60.50 499.48 L61.05 499.03 L61.59 498.73 L61.86 498.69 L62.13 498.69 L62.67 498.70 L63.21 498.73 L63.75 498.76 L64.30 498.80 L64.84 498.86 L65.38 498.92 L65.92 498.99 L66.46 499.06 L67.01 499.14 L67.55 499.23 L68.09 499.32 L68.63 499.41 L68.99 499.47 L69.17 499.51 L69.71 499.62 L70.26 499.76 L70.80 499.93 L71.34 500.15 L71.70 500.32 L71.88 500.46 L72.42 501.15 L72.78 501.39 L72.97 501.01 L73.51 497.60 L73.87 496.23 L74.05 496.20 L74.59 496.12 L75.13 496.06 L75.67 496.01 L76.22 495.99 L76.76 495.97 L77.21 495.97 L77.30 495.98 L77.84 496.47 L78.38 497.31 L78.84 497.91 L78.93 498.00 L79.47 498.58 L80.01 499.18 L80.55 499.74 L81.09 500.20 L81.63 500.50 L82.09 500.59 L82.18 500.58 L82.72 500.32 L83.26 499.79 L83.80 499.11 L84.34 498.44 L84.89 497.90 L85.43 497.65 L85.97 497.58 L86.51 497.53 L87.05 497.49 L87.59 497.47 L88.14 497.46 L88.68 497.59 L89.22 497.89 L89.76 498.19 L90.30 498.48 L90.85 498.82 L91.39 499.18 L91.93 499.54 L92.47 499.86 L93.01 500.13 L93.55 500.31 L94.10 500.37 L94.64 499.97 L95.18 498.91 L95.72 497.42 L96.26 495.74 L96.81 494.09 L97.35 492.72 L97.89 491.85 L98.25 491.67 L98.43 491.68 L98.97 491.85 L99.51 492.15 L100.06 492.52 L100.60 492.89 L101.14 493.17 L101.68 493.31 L101.77 493.31 L102.22 493.29 L102.77 493.19 L103.31 493.03 L103.85 492.82 L104.39 492.54 L104.93 492.22 L105.47 491.86 L106.02 491.46 L106.56 491.02 L107.10 490.56 L107.64 490.07 L108.18 489.57 L108.73 489.05 L109.27 488.53 L109.81 488.00 L110.35 487.48 L110.89 486.97 L111.43 486.47 L111.98 486.00 L112.52 485.54 L113.06 485.12 L113.60 484.73 L114.14 484.39 L114.69 484.09 L115.23 483.84 L115.77 483.64 L116.04 483.57 L116.31 483.50 L116.85 483.37 L117.39 483.24 L117.94 483.12 L118.48 483.00 L119.02 482.90 L119.56 482.82 L120.10 482.75 L120.65 482.70 L121.19 482.67 L121.46 482.67 L121.73 482.70 L122.27 482.86 L122.81 483.10 L123.35 483.29 L123.72 483.33 L123.90 482.89 L124.44 478.89 L124.80 477.16 L124.98 477.02 L125.52 476.60 L126.06 476.21 L126.61 475.86 L127.15 475.54 L127.69 475.24 L128.23 474.98 L128.77 474.73 L129.31 474.51 L129.86 474.32 L130.40 474.14 L130.94 473.98 L131.48 473.83 L132.02 473.70 L132.57 473.58 L133.11 473.47 L133.65 473.37 L134.19 473.28 L134.73 473.19 L135.27 473.11 L135.82 473.02 L136.36 472.94 L136.90 472.85 L137.44 472.76 L137.98 472.67 L138.53 472.57 L139.07 472.46 L139.61 472.33 L140.15 472.20 L140.69 472.05 L141.23 471.88 L141.78 471.70 L141.87 471.67 L142.32 471.50 L142.86 471.30 L143.40 471.11 L143.94 470.90 L144.49 470.70 L145.03 470.50 L145.57 470.30 L146.11 470.09 L146.65 469.89 L147.19 469.68 L147.74 469.47 L148.28 469.26 L148.82 469.05 L149.36 468.83 L149.90 468.62 L150.45 468.40 L150.99 468.18 L151.53 467.96 L152.07 467.74 L152.61 467.52 L153.15 467.29 L153.70 467.06 L154.24 466.83 L154.78 466.60 L155.32 466.37 L155.86 466.13 L156.41 465.89 L156.95 465.65 L157.49 465.41 L158.03 465.16 L158.57 464.91 L159.11 464.66 L159.66 464.41 L160.20 464.15 L160.74 463.90 L161.28 463.64 L161.82 463.37 L162.37 463.10 L162.91 462.84 L163.45 462.56 L163.81 462.38 L163.99 462.29 L164.53 462.01 L165.07 461.73 L165.62 461.45 L166.16 461.17 L166.70 460.88 L167.24 460.60 L167.78 460.31 L168.33 460.02 L168.87 459.72 L169.41 459.42 L169.95 459.12 L170.49 458.82 L171.03 458.51 L171.58 458.20 L172.12 457.88 L172.66 457.56 L173.20 457.23 L173.74 456.90 L174.29 456.57 L174.83 456.23 L175.37 455.88 L175.91 455.53 L176.45 455.17 L176.99 454.81 L177.54 454.44 L178.08 454.06 L178.62 453.68 L179.16 453.29 L179.70 452.89 L180.25 452.49 L180.79 452.08 L181.33 451.66 L181.87 451.23 L182.41 450.80 L182.95 450.35 L183.50 449.90 L184.04 449.46 L184.58 449.02 L185.12 448.60 L185.66 448.18 L186.21 447.76 L186.75 447.33 L187.29 446.90 L187.83 446.45 L188.37 445.99 L188.91 445.50 L189.46 444.98 L190.00 444.43 L190.54 443.84 L191.08 443.21 L191.62 442.53 L192.17 441.80 L192.71 441.02 L193.25 440.17 L193.79 439.26 L194.33 438.28 L194.87 437.22 L195.42 436.09 L195.51 435.89 L195.96 433.97 L196.50 430.54 L197.04 428.06 L197.22 427.85 L197.58 432.69 L197.94 437.53 L198.13 437.50 L198.67 437.15 L199.21 436.67 L199.30 436.60 L199.75 436.26 L200.29 435.84 L200.83 435.41 L201.38 434.96 L201.92 434.51 L202.46 434.05 L203.00 433.59 L203.54 433.11 L204.09 432.64 L204.63 432.16 L204.99 431.84 L205.17 431.68 L205.71 431.19 L206.25 430.70 L206.79 430.21 L207.34 429.71 L207.88 429.21 L208.42 428.71 L208.96 428.20 L209.50 427.69 L210.05 427.17 L210.59 426.65 L211.13 426.13 L211.67 425.60 L212.21 425.07 L212.75 424.54 L213.30 424.00 L213.84 423.46 L214.38 422.91 L214.92 422.37 L215.46 421.82 L216.01 421.26 L216.55 420.71 L216.64 420.61 L217.09 420.14 L217.63 419.53 L218.17 418.89 L218.71 418.22 L219.26 417.53 L219.80 416.81 L220.34 416.06 L220.88 415.30 L221.42 414.53 L221.97 413.74 L222.51 412.94 L223.05 412.13 L223.59 411.32 L224.13 410.50 L224.67 409.69 L225.22 408.88 L225.76 408.08 L226.30 407.28 L226.84 406.50 L227.38 405.73 L227.93 404.98 L228.47 404.25 L229.01 403.54 L229.55 402.85 L230.09 402.20 L230.63 401.58 L231.18 400.99 L231.72 400.43 L232.26 399.92 L232.80 399.45 L233.34 399.02 L233.89 398.65 L234.43 398.32 L234.97 398.04 L235.51 397.83 L236.05 397.67 L236.59 397.57 L237.14 397.54 L237.68 397.70 L238.22 398.14 L238.76 398.76 L239.30 399.50 L239.85 400.27 L240.39 400.99 L240.93 401.81 L241.47 402.82 L242.01 403.87 L242.55 404.81 L243.10 405.48 L243.64 405.74 L244.18 405.15 L244.72 403.75 L245.26 402.11 L245.81 400.81 L246.26 400.39 L246.35 400.40 L246.89 400.86 L247.43 401.84 L247.97 403.14 L248.51 404.52 L249.06 405.77 L249.60 406.69 L250.14 407.04 L250.68 406.34 L251.22 404.53 L251.77 402.04 L252.31 399.32 L252.85 396.79 L253.15 395.64 L253.39 394.76 L253.93 392.72 L254.47 390.70 L255.02 388.93 L255.56 387.63 L255.74 387.34 L256.10 386.85 L256.64 386.35 L256.82 386.30 L257.18 386.33 L257.73 386.44 L258.27 386.65 L258.81 386.95 L259.35 387.32 L259.89 387.76 L260.43 388.27 L260.98 388.82 L261.52 389.43 L262.06 390.08 L262.60 390.75 L263.14 391.46 L263.69 392.18 L264.23 392.91 L264.77 393.64 L265.31 394.37 L265.42 394.51 L265.85 395.14 L266.39 396.08 L266.94 397.16 L267.48 398.36 L268.02 399.66 L268.56 401.02 L269.10 402.43 L269.65 403.86 L270.19 405.29 L270.73 406.69 L271.27 408.04 L271.81 409.31 L272.35 410.49 L272.90 411.54 L273.44 412.45 L273.98 413.18 L274.02 413.23 L274.52 413.81 L275.06 414.44 L275.61 415.07 L276.15 415.67 L276.69 416.25 L277.23 416.80 L277.77 417.31 L278.31 417.78 L278.86 418.19 L279.40 418.53 L279.94 418.81 L280.48 419.00 L281.02 419.11 L281.38 419.14 L281.57 419.13 L282.11 419.07 L282.65 418.93 L283.19 418.72 L283.73 418.44 L284.27 418.09 L284.82 417.68 L285.36 417.22 L285.90 416.70 L286.44 416.13 L286.98 415.51 L287.53 414.85 L288.07 414.14 L288.61 413.40 L289.15 412.62 L289.69 411.81 L290.23 410.98 L290.78 410.12 L291.32 409.23 L291.86 408.33 L292.40 407.42 L292.94 406.50 L293.49 405.56 L294.03 404.63 L294.57 403.69 L294.70 403.45 L295.11 402.69 L295.65 401.50 L296.19 400.14 L296.74 398.63 L297.28 397.01 L297.82 395.28 L298.36 393.49 L298.90 391.66 L299.45 389.82 L299.99 387.99 L300.53 386.19 L301.07 384.46 L301.61 382.83 L302.15 381.31 L302.70 379.93 L303.23 378.74 L303.24 378.73 L303.78 377.62 L304.32 376.56 L304.86 375.54 L305.41 374.60 L305.95 373.75 L306.49 373.02 L306.96 372.48 L307.03 372.40 L307.57 371.84 L308.02 371.62 L308.11 371.62 L308.66 371.83 L309.20 372.30 L309.74 373.00 L310.28 373.87 L310.82 374.86 L311.37 375.93 L311.91 377.02 L312.45 378.09 L312.52 378.23 L312.99 379.19 L313.53 380.46 L314.07 381.88 L314.62 383.43 L315.16 385.10 L315.70 386.86 L316.24 388.69 L316.78 390.57 L317.33 392.48 L317.87 394.40 L318.41 396.32 L318.95 398.21 L319.49 400.05 L320.03 401.82 L320.58 403.51 L321.12 405.08 L321.66 406.53 L322.20 407.83 L322.27 407.97 L322.74 409.02 L323.29 410.19 L323.83 411.34 L324.37 412.47 L324.91 413.57 L325.45 414.66 L325.99 415.71 L326.54 416.75 L327.08 417.76 L327.62 418.74 L328.16 419.70 L328.70 420.63 L329.25 421.53 L329.79 422.41 L330.33 423.25 L330.87 424.07 L331.41 424.85 L331.95 425.61 L332.50 426.33 L333.04 427.02 L333.58 427.68 L334.12 428.31 L334.26 428.46 L334.66 428.91 L335.21 429.50 L335.75 430.08 L336.29 430.65 L336.83 431.21 L337.37 431.75 L337.91 432.29 L338.46 432.80 L339.00 433.31 L339.54 433.79 L340.08 434.26 L340.62 434.71 L341.17 435.14 L341.71 435.54 L342.25 435.93 L342.79 436.29 L343.33 436.63 L343.87 436.94 L344.42 437.23 L344.96 437.48 L345.50 437.71" stroke="#d4bb91" stroke-width="1.1"/>
<path d="M47.50 501.04 L48.04 501.10 L48.58 501.14 L49.13 501.19 L49.67 501.23 L50.21 501.26 L50.75 501.29 L51.29 501.32 L51.83 501.34 L52.38 501.36 L52.92 501.38 L53.46 501.39 L54.00 501.40 L54.54 501.41 L55.09 501.42 L55.63 501.43 L56.17 501.43 L56.71 501.43 L57.25 501.43 L57.79 501.44 L58.34 501.44 L58.88 501.44 L59.06 501.44 L59.42 501.36 L59.96 501.04 L60.50 500.58 L61.05 500.14 L61.59 499.85 L61.86 499.80 L62.13 499.81 L62.67 499.82 L63.21 499.84 L63.75 499.88 L64.30 499.93 L64.84 499.99 L65.38 500.06 L65.92 500.13 L66.46 500.21 L67.01 500.30 L67.55 500.39 L68.09 500.49 L68.63 500.58 L68.99 500.65 L69.17 500.69 L69.71 500.80 L70.26 500.94 L70.80 501.12 L71.34 501.34 L71.70 501.52 L71.88 501.67 L72.42 502.36 L72.78 502.59 L72.97 502.22 L73.51 498.81 L73.87 497.45 L74.05 497.42 L74.59 497.35 L75.13 497.29 L75.67 497.25 L76.22 497.23 L76.76 497.22 L77.21 497.22 L77.30 497.23 L77.84 497.72 L78.38 498.57 L78.84 499.17 L78.93 499.26 L79.47 499.85 L80.01 500.45 L80.55 501.02 L81.09 501.48 L81.63 501.79 L82.09 501.87 L82.18 501.87 L82.72 501.61 L83.26 501.08 L83.80 500.41 L84.34 499.74 L84.89 499.21 L85.43 498.96 L85.97 498.91 L86.51 498.86 L87.05 498.83 L87.59 498.80 L88.14 498.80 L88.68 498.93 L89.22 499.23 L89.76 499.54 L90.30 499.84 L90.85 500.18 L91.39 500.55 L91.93 500.91 L92.47 501.24 L93.01 501.51 L93.55 501.70 L94.10 501.76 L94.64 501.36 L95.18 500.30 L95.72 498.82 L96.26 497.15 L96.81 495.51 L97.35 494.14 L97.89 493.28 L98.25 493.09 L98.43 493.11 L98.97 493.27 L99.51 493.58 L100.06 493.96 L100.60 494.33 L101.14 494.62 L101.68 494.76 L101.77 494.77 L102.22 494.74 L102.77 494.65 L103.31 494.49 L103.85 494.28 L104.39 494.01 L104.93 493.69 L105.47 493.33 L106.02 492.93 L106.56 492.49 L107.10 492.03 L107.64 491.55 L108.18 491.05 L108.73 490.54 L109.27 490.03 L109.81 489.51 L110.35 488.99 L110.89 488.49 L111.43 488.00 L111.98 487.53 L112.52 487.08 L113.06 486.66 L113.60 486.28 L114.14 485.94 L114.69 485.65 L115.23 485.40 L115.77 485.21 L116.04 485.14 L116.31 485.08 L116.85 484.95 L117.39 484.83 L117.94 484.72 L118.48 484.61 L119.02 484.51 L119.56 484.43 L120.10 484.37 L120.65 484.32 L121.19 484.29 L121.46 484.29 L121.73 484.32 L122.27 484.49 L122.81 484.73 L123.35 484.93 L123.72 484.97 L123.90 484.55 L124.44 480.67 L124.80 478.99 L124.98 478.85 L125.52 478.44 L126.06 478.07 L126.61 477.73 L127.15 477.42 L127.69 477.13 L128.23 476.87 L128.77 476.64 L129.31 476.42 L129.86 476.23 L130.40 476.06 L130.94 475.90 L131.48 475.76 L132.02 475.63 L132.57 475.51 L133.11 475.41 L133.65 475.31 L134.19 475.22 L134.73 475.14 L135.27 475.05 L135.82 474.97 L136.36 474.89 L136.90 474.81 L137.44 474.72 L137.98 474.63 L138.53 474.53 L139.07 474.42 L139.61 474.30 L140.15 474.17 L140.69 474.03 L141.23 473.87 L141.78 473.69 L141.87 473.65 L142.32 473.49 L142.86 473.30 L143.40 473.11 L143.94 472.91 L144.49 472.71 L145.03 472.52 L145.57 472.32 L146.11 472.12 L146.65 471.91 L147.19 471.71 L147.74 471.50 L148.28 471.30 L148.82 471.09 L149.36 470.88 L149.90 470.67 L150.45 470.46 L150.99 470.24 L151.53 470.03 L152.07 469.81 L152.61 469.59 L153.15 469.37 L153.70 469.14 L154.24 468.92 L154.78 468.69 L155.32 468.46 L155.86 468.23 L156.41 468.00 L156.95 467.76 L157.49 467.52 L158.03 467.28 L158.57 467.04 L159.11 466.80 L159.66 466.55 L160.20 466.30 L160.74 466.05 L161.28 465.80 L161.82 465.54 L162.37 465.28 L162.91 465.02 L163.45 464.76 L163.81 464.58 L163.99 464.49 L164.53 464.23 L165.07 463.96 L165.62 463.69 L166.16 463.41 L166.70 463.14 L167.24 462.86 L167.78 462.59 L168.33 462.30 L168.87 462.02 L169.41 461.73 L169.95 461.44 L170.49 461.15 L171.03 460.86 L171.58 460.56 L172.12 460.25 L172.66 459.95 L173.20 459.64 L173.74 459.32 L174.29 459.00 L174.83 458.68 L175.37 458.35 L175.91 458.01 L176.45 457.68 L176.99 457.33 L177.54 456.98 L178.08 456.63 L178.62 456.27 L179.16 455.90 L179.70 455.53 L180.25 455.15 L180.79 454.76 L181.33 454.37 L181.87 453.97 L182.41 453.56 L182.95 453.15 L183.50 452.73 L184.04 452.31 L184.58 451.91 L185.12 451.53 L185.66 451.14 L186.21 450.76 L186.75 450.38 L187.29 450.00 L187.83 449.60 L188.37 449.18 L188.91 448.74 L189.46 448.28 L190.00 447.79 L190.54 447.26 L191.08 446.70 L191.62 446.09 L192.17 445.44 L192.71 444.73 L193.25 443.96 L193.79 443.14 L194.33 442.24 L194.87 441.28 L195.42 440.24 L195.51 440.06 L195.96 438.27 L196.50 435.01 L197.04 432.66 L197.22 432.46 L197.58 437.21 L197.94 441.96 L198.13 441.93 L198.67 441.52 L199.21 440.97 L199.30 440.89 L199.75 440.53 L200.29 440.11 L200.83 439.68 L201.38 439.26 L201.92 438.83 L202.46 438.40 L203.00 437.97 L203.54 437.53 L204.09 437.09 L204.63 436.64 L204.99 436.33 L205.17 436.18 L205.71 435.71 L206.25 435.25 L206.79 434.78 L207.34 434.31 L207.88 433.84 L208.42 433.37 L208.96 432.89 L209.50 432.41 L210.05 431.92 L210.59 431.43 L211.13 430.93 L211.67 430.43 L212.21 429.93 L212.75 429.41 L213.30 428.89 L213.84 428.37 L214.38 427.83 L214.92 427.29 L215.46 426.74 L216.01 426.18 L216.55 425.61 L216.64 425.51 L217.09 425.03 L217.63 424.42 L218.17 423.80 L218.71 423.16 L219.26 422.51 L219.80 421.84 L220.34 421.15 L220.88 420.45 L221.42 419.75 L221.97 419.03 L222.51 418.30 L223.05 417.57 L223.59 416.83 L224.13 416.08 L224.67 415.34 L225.22 414.59 L225.76 413.84 L226.30 413.09 L226.84 412.34 L227.38 411.60 L227.93 410.86 L228.47 410.13 L229.01 409.40 L229.55 408.68 L230.09 407.97 L230.63 407.28 L231.18 406.59 L231.72 405.92 L232.26 405.27 L232.80 404.63 L233.34 404.01 L233.89 403.40 L234.43 402.82 L234.61 402.63 L234.97 402.23 L235.51 401.58 L236.05 400.91 L236.59 400.28 L237.14 399.75 L237.68 399.40 L238.22 399.26 L238.76 399.45 L239.30 399.96 L239.85 400.70 L240.39 401.61 L240.93 402.59 L241.47 403.58 L242.01 404.48 L242.55 405.22 L243.10 405.73 L243.64 405.92 L244.18 405.30 L244.72 403.86 L245.26 402.17 L245.81 400.82 L246.26 400.39 L246.35 400.40 L246.89 400.86 L247.43 401.84 L247.97 403.14 L248.51 404.52 L249.06 405.77 L249.60 406.69 L250.14 407.04 L250.68 406.35 L251.22 404.57 L251.77 402.11 L252.31 399.38 L252.85 396.80 L253.23 395.30 L253.39 394.73 L253.93 392.71 L254.47 390.67 L255.02 388.83 L255.56 387.38 L255.92 386.74 L256.10 386.49 L256.64 385.86 L257.00 385.70 L257.18 385.70 L257.73 385.76 L258.27 385.88 L258.81 386.06 L259.35 386.29 L259.89 386.57 L260.43 386.90 L260.98 387.27 L261.52 387.68 L262.06 388.12 L262.60 388.59 L263.14 389.08 L263.69 389.60 L264.23 390.13 L264.77 390.67 L265.31 391.22 L265.85 391.77 L266.39 392.32 L266.90 392.83 L266.94 392.87 L267.48 393.48 L268.02 394.19 L268.56 395.00 L269.10 395.89 L269.65 396.85 L270.19 397.86 L270.73 398.90 L271.27 399.97 L271.81 401.05 L272.35 402.13 L272.90 403.19 L273.44 404.22 L273.98 405.21 L274.52 406.13 L275.06 406.99 L275.61 407.76 L276.15 408.43 L276.69 408.99 L276.79 409.08 L277.23 409.47 L277.77 409.94 L278.31 410.42 L278.86 410.88 L279.40 411.33 L279.94 411.77 L280.48 412.18 L281.02 412.57 L281.57 412.93 L282.11 413.25 L282.65 413.53 L283.19 413.77 L283.73 413.97 L284.27 414.11 L284.82 414.19 L285.27 414.21 L285.36 414.21 L285.90 414.14 L286.44 413.97 L286.98 413.71 L287.53 413.35 L288.07 412.91 L288.61 412.39 L289.15 411.80 L289.69 411.13 L290.23 410.40 L290.78 409.61 L291.32 408.77 L291.86 407.88 L292.40 406.94 L292.94 405.96 L293.49 404.95 L294.03 403.90 L294.57 402.84 L295.11 401.75 L295.65 400.65 L296.19 399.54 L296.74 398.42 L297.14 397.59 L297.28 397.30 L297.82 395.98 L298.36 394.42 L298.90 392.66 L299.45 390.73 L299.99 388.68 L300.53 386.54 L301.07 384.36 L301.61 382.17 L302.15 380.01 L302.70 377.93 L303.24 375.96 L303.78 374.14 L304.32 372.51 L304.74 371.40 L304.86 371.10 L305.41 369.78 L305.95 368.52 L306.49 367.34 L307.03 366.28 L307.57 365.37 L308.07 364.70 L308.11 364.65 L308.66 364.02 L309.02 363.84 L309.20 363.86 L309.74 364.14 L310.28 364.72 L310.82 365.53 L311.37 366.52 L311.91 367.63 L312.45 368.81 L312.99 370.00 L313.40 370.86 L313.53 371.16 L314.07 372.43 L314.62 373.89 L315.16 375.52 L315.70 377.27 L316.24 379.15 L316.78 381.11 L317.33 383.14 L317.87 385.22 L318.41 387.32 L318.95 389.42 L319.49 391.49 L320.03 393.52 L320.58 395.47 L321.12 397.34 L321.66 399.08 L322.20 400.69 L322.74 402.14 L322.88 402.47 L323.29 403.44 L323.83 404.72 L324.37 405.98 L324.91 407.21 L325.45 408.42 L325.99 409.60 L326.54 410.76 L327.08 411.88 L327.62 412.98 L328.16 414.05 L328.70 415.10 L329.25 416.11 L329.79 417.09 L330.33 418.03 L330.87 418.95 L331.41 419.83 L331.95 420.68 L332.50 421.49 L333.04 422.27 L333.58 423.01 L334.12 423.71 L334.56 424.25 L334.66 424.38 L335.21 425.03 L335.75 425.67 L336.29 426.30 L336.83 426.91 L337.37 427.51 L337.91 428.10 L338.46 428.67 L339.00 429.23 L339.54 429.76 L340.08 430.28 L340.62 430.78 L341.17 431.25 L341.71 431.70 L342.25 432.12 L342.79 432.52 L343.33 432.89 L343.87 433.24 L344.42 433.55 L344.96 433.83 L345.50 434.08" stroke="#f57d0f" stroke-width="1.7"/>
<path d="M47.50 502.04 L48.04 502.10 L48.58 502.16 L49.13 502.22 L49.67 502.26 L50.21 502.31 L50.75 502.35 L51.29 502.38 L51.83 502.41 L52.38 502.43 L52.92 502.45 L53.46 502.47 L54.00 502.49 L54.54 502.50 L55.09 502.51 L55.63 502.52 L56.17 502.52 L56.71 502.52 L57.25 502.53 L57.79 502.53 L58.34 502.53 L58.88 502.53 L59.06 502.53 L59.42 502.45 L59.96 502.13 L60.50 501.68 L61.05 501.25 L61.59 500.96 L61.86 500.92 L62.13 500.92 L62.67 500.94 L63.21 500.96 L63.75 501.00 L64.30 501.06 L64.84 501.12 L65.38 501.19 L65.92 501.27 L66.46 501.36 L67.01 501.45 L67.55 501.55 L68.09 501.65 L68.63 501.76 L68.99 501.83 L69.17 501.86 L69.71 501.98 L70.26 502.13 L70.80 502.31 L71.34 502.54 L71.70 502.72 L71.88 502.87 L72.42 503.57 L72.78 503.80 L72.97 503.43 L73.51 500.02 L73.87 498.66 L74.05 498.64 L74.59 498.58 L75.13 498.53 L75.67 498.50 L76.22 498.47 L76.76 498.46 L77.21 498.46 L77.30 498.47 L77.84 498.97 L78.38 499.82 L78.84 500.43 L78.93 500.52 L79.47 501.12 L80.01 501.73 L80.55 502.30 L81.09 502.77 L81.63 503.07 L82.09 503.16 L82.18 503.16 L82.72 502.90 L83.26 502.37 L83.80 501.70 L84.34 501.04 L84.89 500.52 L85.43 500.28 L85.97 500.23 L86.51 500.19 L87.05 500.16 L87.59 500.14 L88.14 500.14 L88.68 500.27 L89.22 500.58 L89.76 500.90 L90.30 501.20 L90.85 501.55 L91.39 501.92 L91.93 502.29 L92.47 502.63 L93.01 502.90 L93.55 503.09 L94.10 503.15 L94.64 502.75 L95.18 501.70 L95.72 500.22 L96.26 498.55 L96.81 496.93 L97.35 495.56 L97.89 494.70 L98.25 494.52 L98.43 494.53 L98.97 494.70 L99.51 495.02 L100.06 495.40 L100.60 495.78 L101.14 496.08 L101.68 496.22 L101.77 496.22 L102.22 496.20 L102.77 496.10 L103.31 495.95 L103.85 495.73 L104.39 495.47 L104.93 495.15 L105.47 494.79 L106.02 494.40 L106.56 493.97 L107.10 493.51 L107.64 493.04 L108.18 492.54 L108.73 492.04 L109.27 491.53 L109.81 491.01 L110.35 490.50 L110.89 490.01 L111.43 489.52 L111.98 489.06 L112.52 488.62 L113.06 488.20 L113.60 487.83 L114.14 487.50 L114.69 487.21 L115.23 486.97 L115.77 486.79 L116.04 486.72 L116.31 486.66 L116.85 486.54 L117.39 486.42 L117.94 486.31 L118.48 486.21 L119.02 486.12 L119.56 486.04 L120.10 485.98 L120.65 485.94 L121.19 485.92 L121.46 485.91 L121.73 485.94 L122.27 486.12 L122.81 486.37 L123.35 486.57 L123.72 486.61 L123.90 486.21 L124.44 482.45 L124.80 480.83 L124.98 480.69 L125.52 480.29 L126.06 479.93 L126.61 479.60 L127.15 479.29 L127.69 479.02 L128.23 478.77 L128.77 478.54 L129.31 478.33 L129.86 478.14 L130.40 477.97 L130.94 477.82 L131.48 477.69 L132.02 477.56 L132.57 477.45 L133.11 477.35 L133.65 477.25 L134.19 477.17 L134.73 477.08 L135.27 477.00 L135.82 476.92 L136.36 476.85 L136.90 476.77 L137.44 476.68 L137.98 476.59 L138.53 476.49 L139.07 476.39 L139.61 476.27 L140.15 476.15 L140.69 476.00 L141.23 475.85 L141.78 475.67 L141.87 475.64 L142.32 475.49 L142.86 475.30 L143.40 475.11 L143.94 474.92 L144.49 474.72 L145.03 474.53 L145.57 474.33 L146.11 474.14 L146.65 473.94 L147.19 473.74 L147.74 473.54 L148.28 473.34 L148.82 473.13 L149.36 472.93 L149.90 472.72 L150.45 472.51 L150.99 472.30 L151.53 472.09 L152.07 471.88 L152.61 471.66 L153.15 471.44 L153.70 471.22 L154.24 471.00 L154.78 470.78 L155.32 470.56 L155.86 470.33 L156.41 470.10 L156.95 469.87 L157.49 469.64 L158.03 469.41 L158.57 469.17 L159.11 468.93 L159.66 468.69 L160.20 468.45 L160.74 468.21 L161.28 467.96 L161.82 467.71 L162.37 467.46 L162.91 467.21 L163.45 466.96 L163.81 466.79 L163.99 466.70 L164.53 466.44 L165.07 466.18 L165.62 465.92 L166.16 465.66 L166.70 465.40 L167.24 465.13 L167.78 464.86 L168.33 464.59 L168.87 464.32 L169.41 464.04 L169.95 463.77 L170.49 463.49 L171.03 463.20 L171.58 462.92 L172.12 462.63 L172.66 462.33 L173.20 462.04 L173.74 461.74 L174.29 461.43 L174.83 461.13 L175.37 460.81 L175.91 460.50 L176.45 460.18 L176.99 459.85 L177.54 459.52 L178.08 459.19 L178.62 458.85 L179.16 458.51 L179.70 458.16 L180.25 457.80 L180.79 457.44 L181.33 457.08 L181.87 456.70 L182.41 456.33 L182.95 455.94 L183.50 455.55 L184.04 455.17 L184.58 454.81 L185.12 454.45 L185.66 454.11 L186.21 453.77 L186.75 453.43 L187.29 453.09 L187.83 452.74 L188.37 452.37 L188.91 451.99 L189.46 451.58 L190.00 451.15 L190.54 450.69 L191.08 450.19 L191.62 449.65 L192.17 449.07 L192.71 448.44 L193.25 447.75 L193.79 447.01 L194.33 446.21 L194.87 445.34 L195.42 444.40 L195.51 444.24 L195.96 442.56 L196.50 439.49 L197.04 437.25 L197.22 437.06 L197.58 441.73 L197.94 446.40 L198.13 446.35 L198.67 445.88 L199.21 445.27 L199.30 445.19 L199.75 444.81 L200.29 444.38 L200.83 443.97 L201.38 443.56 L201.92 443.16 L202.46 442.76 L203.00 442.36 L203.54 441.95 L204.09 441.54 L204.63 441.11 L204.99 440.82 L205.17 440.67 L205.71 440.23 L206.25 439.78 L206.79 439.33 L207.34 438.88 L207.88 438.43 L208.42 437.97 L208.96 437.51 L209.50 437.04 L210.05 436.57 L210.59 436.10 L211.13 435.62 L211.67 435.13 L212.21 434.64 L212.75 434.15 L213.30 433.65 L213.84 433.14 L214.38 432.63 L214.92 432.11 L215.46 431.58 L216.01 431.04 L216.55 430.50 L216.64 430.41 L217.09 429.95 L217.63 429.38 L218.17 428.79 L218.71 428.19 L219.26 427.58 L219.80 426.95 L220.34 426.31 L220.88 425.66 L221.42 425.00 L221.97 424.33 L222.51 423.66 L223.05 422.98 L223.59 422.29 L224.13 421.60 L224.67 420.91 L225.22 420.21 L225.76 419.52 L226.30 418.83 L226.84 418.13 L227.38 417.44 L227.93 416.76 L228.47 416.07 L229.01 415.40 L229.55 414.73 L230.09 414.07 L230.63 413.42 L231.18 412.78 L231.72 412.15 L232.26 411.53 L232.80 410.93 L233.34 410.34 L233.89 409.76 L234.43 409.21 L234.61 409.03 L234.97 408.65 L235.51 408.03 L236.05 407.38 L236.59 406.73 L237.14 406.13 L237.68 405.60 L238.22 405.17 L238.76 404.89 L239.30 404.79 L239.85 405.01 L240.39 405.56 L240.93 406.35 L241.47 407.26 L242.01 408.16 L242.55 408.95 L243.10 409.51 L243.64 409.72 L244.18 409.35 L244.72 408.47 L245.26 407.44 L245.81 406.61 L246.26 406.35 L246.35 406.36 L246.89 406.70 L247.43 407.45 L247.97 408.42 L248.51 409.46 L249.06 410.41 L249.60 411.09 L250.14 411.36 L250.68 411.01 L251.22 410.04 L251.77 408.60 L252.31 406.82 L252.85 404.84 L253.39 402.79 L253.93 400.82 L254.47 399.05 L254.89 397.91 L255.02 397.62 L255.56 396.29 L256.10 394.96 L256.64 393.65 L257.18 392.39 L257.73 391.20 L258.27 390.10 L258.81 389.13 L259.35 388.30 L259.62 387.95 L259.89 387.60 L260.43 387.01 L260.71 386.91 L260.98 386.92 L261.52 386.99 L262.06 387.14 L262.60 387.35 L263.14 387.62 L263.69 387.94 L264.23 388.31 L264.77 388.73 L265.31 389.18 L265.85 389.66 L266.39 390.17 L266.94 390.70 L267.48 391.24 L268.02 391.80 L268.56 392.36 L269.10 392.92 L269.52 393.35 L269.65 393.47 L270.19 394.12 L270.73 394.88 L271.27 395.74 L271.81 396.68 L272.35 397.69 L272.90 398.74 L273.44 399.83 L273.98 400.92 L274.52 402.01 L275.06 403.08 L275.61 404.10 L276.15 405.07 L276.69 405.96 L277.23 406.75 L277.77 407.44 L278.31 408.00 L278.34 408.02 L278.86 408.48 L279.40 408.96 L279.94 409.44 L280.48 409.90 L281.02 410.35 L281.57 410.77 L282.11 411.17 L282.65 411.53 L283.19 411.85 L283.73 412.12 L284.27 412.35 L284.82 412.52 L285.36 412.62 L285.90 412.66 L286.44 412.60 L286.98 412.42 L287.53 412.14 L288.07 411.75 L288.61 411.26 L289.15 410.68 L289.69 410.02 L290.23 409.27 L290.78 408.44 L291.32 407.55 L291.86 406.58 L292.40 405.56 L292.94 404.49 L293.49 403.37 L294.03 402.20 L294.57 401.00 L295.11 399.77 L295.65 398.51 L296.19 397.23 L296.74 395.93 L297.28 394.63 L297.82 393.32 L298.14 392.56 L298.36 391.98 L298.90 390.39 L299.45 388.54 L299.99 386.46 L300.53 384.19 L301.07 381.79 L301.61 379.29 L302.15 376.74 L302.70 374.17 L303.24 371.64 L303.78 369.18 L304.32 366.83 L304.86 364.65 L305.41 362.67 L305.95 360.94 L305.97 360.88 L306.49 359.35 L307.03 357.77 L307.57 356.28 L308.11 354.93 L308.66 353.77 L309.20 352.86 L309.39 352.61 L309.74 352.19 L310.28 351.76 L310.37 351.74 L310.82 351.88 L311.37 352.39 L311.91 353.19 L312.45 354.23 L312.99 355.43 L313.53 356.73 L314.07 358.06 L314.59 359.28 L314.62 359.35 L315.16 360.73 L315.70 362.33 L316.24 364.12 L316.78 366.07 L317.33 368.15 L317.87 370.34 L318.41 372.61 L318.95 374.92 L319.49 377.26 L320.03 379.60 L320.58 381.90 L321.12 384.14 L321.66 386.29 L322.20 388.33 L322.74 390.22 L323.29 391.94 L323.72 393.18 L323.83 393.47 L324.37 394.91 L324.91 396.32 L325.45 397.70 L325.99 399.06 L326.54 400.39 L327.08 401.68 L327.62 402.95 L328.16 404.18 L328.70 405.38 L329.25 406.55 L329.79 407.68 L330.33 408.77 L330.87 409.83 L331.41 410.85 L331.95 411.83 L332.50 412.77 L333.04 413.67 L333.58 414.54 L334.12 415.35 L334.66 416.13 L334.96 416.54 L335.21 416.86 L335.75 417.58 L336.29 418.29 L336.83 418.99 L337.37 419.67 L337.91 420.33 L338.46 420.98 L339.00 421.60 L339.54 422.21 L340.08 422.80 L340.62 423.36 L341.17 423.89 L341.71 424.40 L342.25 424.88 L342.79 425.33 L343.33 425.75 L343.87 426.14 L344.42 426.49 L344.96 426.81 L345.50 427.08" stroke="#2aa86a" stroke-width="1.5"/>
<path d="M47.50 503.03 L48.04 503.11 L48.58 503.18 L49.13 503.25 L49.67 503.30 L50.21 503.36 L50.75 503.40 L51.29 503.44 L51.83 503.48 L52.38 503.51 L52.92 503.53 L53.46 503.55 L54.00 503.57 L54.54 503.58 L55.09 503.60 L55.63 503.60 L56.17 503.61 L56.71 503.62 L57.25 503.62 L57.79 503.62 L58.34 503.62 L58.88 503.62 L59.06 503.62 L59.42 503.55 L59.96 503.23 L60.50 502.79 L61.05 502.36 L61.59 502.08 L61.86 502.03 L62.13 502.04 L62.67 502.05 L63.21 502.08 L63.75 502.13 L64.30 502.18 L64.84 502.25 L65.38 502.33 L65.92 502.41 L66.46 502.51 L67.01 502.61 L67.55 502.71 L68.09 502.82 L68.63 502.93 L68.99 503.00 L69.17 503.04 L69.71 503.17 L70.26 503.32 L70.80 503.50 L71.34 503.74 L71.70 503.92 L71.88 504.07 L72.42 504.77 L72.78 505.01 L72.97 504.63 L73.51 501.23 L73.87 499.88 L74.05 499.86 L74.59 499.81 L75.13 499.77 L75.67 499.74 L76.22 499.72 L76.76 499.71 L77.21 499.71 L77.30 499.72 L77.84 500.22 L78.38 501.08 L78.84 501.69 L78.93 501.78 L79.47 502.38 L80.01 503.00 L80.55 503.58 L81.09 504.05 L81.63 504.36 L82.09 504.45 L82.18 504.44 L82.72 504.19 L83.26 503.66 L83.80 503.00 L84.34 502.34 L84.89 501.83 L85.43 501.60 L85.97 501.55 L86.51 501.52 L87.05 501.50 L87.59 501.48 L88.14 501.47 L88.68 501.62 L89.22 501.93 L89.76 502.25 L90.30 502.55 L90.85 502.91 L91.39 503.29 L91.93 503.67 L92.47 504.01 L93.01 504.29 L93.55 504.47 L94.10 504.54 L94.64 504.14 L95.18 503.09 L95.72 501.62 L96.26 499.96 L96.81 498.34 L97.35 496.99 L97.89 496.13 L98.25 495.94 L98.43 495.96 L98.97 496.13 L99.51 496.45 L100.06 496.84 L100.60 497.23 L101.14 497.53 L101.68 497.67 L101.77 497.68 L102.22 497.65 L102.77 497.56 L103.31 497.41 L103.85 497.19 L104.39 496.93 L104.93 496.62 L105.47 496.26 L106.02 495.87 L106.56 495.44 L107.10 494.99 L107.64 494.52 L108.18 494.03 L108.73 493.53 L109.27 493.03 L109.81 492.52 L110.35 492.02 L110.89 491.52 L111.43 491.04 L111.98 490.58 L112.52 490.15 L113.06 489.75 L113.60 489.38 L114.14 489.05 L114.69 488.77 L115.23 488.54 L115.77 488.36 L116.04 488.30 L116.31 488.24 L116.85 488.13 L117.39 488.02 L117.94 487.91 L118.48 487.82 L119.02 487.73 L119.56 487.66 L120.10 487.60 L120.65 487.56 L121.19 487.54 L121.46 487.54 L121.73 487.56 L122.27 487.75 L122.81 488.00 L123.35 488.21 L123.72 488.26 L123.90 487.86 L124.44 484.23 L124.80 482.66 L124.98 482.52 L125.52 482.14 L126.06 481.79 L126.61 481.47 L127.15 481.17 L127.69 480.90 L128.23 480.66 L128.77 480.44 L129.31 480.24 L129.86 480.06 L130.40 479.89 L130.94 479.75 L131.48 479.61 L132.02 479.49 L132.57 479.38 L133.11 479.29 L133.65 479.19 L134.19 479.11 L134.73 479.03 L135.27 478.95 L135.82 478.88 L136.36 478.80 L136.90 478.72 L137.44 478.64 L137.98 478.55 L138.53 478.46 L139.07 478.36 L139.61 478.24 L140.15 478.12 L140.69 477.98 L141.23 477.83 L141.78 477.66 L141.87 477.63 L142.32 477.48 L142.86 477.29 L143.40 477.11 L143.94 476.92 L144.49 476.73 L145.03 476.54 L145.57 476.35 L146.11 476.16 L146.65 475.97 L147.19 475.77 L147.74 475.57 L148.28 475.38 L148.82 475.18 L149.36 474.97 L149.90 474.77 L150.45 474.57 L150.99 474.36 L151.53 474.15 L152.07 473.94 L152.61 473.73 L153.15 473.52 L153.70 473.30 L154.24 473.09 L154.78 472.87 L155.32 472.65 L155.86 472.43 L156.41 472.20 L156.95 471.98 L157.49 471.75 L158.03 471.53 L158.57 471.30 L159.11 471.07 L159.66 470.83 L160.20 470.60 L160.74 470.36 L161.28 470.12 L161.82 469.88 L162.37 469.64 L162.91 469.40 L163.45 469.15 L163.81 468.99 L163.99 468.91 L164.53 468.66 L165.07 468.41 L165.62 468.16 L166.16 467.90 L166.70 467.65 L167.24 467.39 L167.78 467.14 L168.33 466.88 L168.87 466.62 L169.41 466.35 L169.95 466.09 L170.49 465.82 L171.03 465.55 L171.58 465.27 L172.12 465.00 L172.66 464.72 L173.20 464.43 L173.74 464.15 L174.29 463.86 L174.83 463.57 L175.37 463.28 L175.91 462.98 L176.45 462.68 L176.99 462.37 L177.54 462.06 L178.08 461.75 L178.62 461.43 L179.16 461.11 L179.70 460.78 L180.25 460.45 L180.79 460.12 L181.33 459.78 L181.87 459.44 L182.41 459.09 L182.95 458.74 L183.50 458.38 L184.04 458.03 L184.58 457.70 L185.12 457.38 L185.66 457.08 L186.21 456.78 L186.75 456.48 L187.29 456.18 L187.83 455.88 L188.37 455.56 L188.91 455.23 L189.46 454.88 L190.00 454.51 L190.54 454.11 L191.08 453.68 L191.62 453.21 L192.17 452.70 L192.71 452.14 L193.25 451.54 L193.79 450.88 L194.33 450.17 L194.87 449.40 L195.42 448.56 L195.51 448.41 L195.96 446.85 L196.50 443.96 L197.04 441.85 L197.22 441.67 L197.58 446.25 L197.94 450.83 L198.13 450.78 L198.67 450.24 L199.21 449.57 L199.30 449.48 L199.75 449.10 L200.29 448.67 L200.83 448.26 L201.38 447.87 L201.92 447.49 L202.46 447.12 L203.00 446.75 L203.54 446.38 L204.09 445.99 L204.63 445.59 L204.99 445.32 L205.17 445.17 L205.71 444.75 L206.25 444.32 L206.79 443.88 L207.34 443.44 L207.88 443.00 L208.42 442.56 L208.96 442.11 L209.50 441.65 L210.05 441.20 L210.59 440.74 L211.13 440.27 L211.67 439.80 L212.21 439.33 L212.75 438.85 L213.30 438.37 L213.84 437.89 L214.38 437.40 L214.92 436.90 L215.46 436.40 L216.01 435.90 L216.55 435.40 L216.64 435.31 L217.09 434.88 L217.63 434.36 L218.17 433.83 L218.71 433.30 L219.26 432.76 L219.80 432.21 L220.34 431.66 L220.88 431.10 L221.42 430.54 L221.97 429.97 L222.51 429.40 L223.05 428.82 L223.59 428.24 L224.13 427.66 L224.67 427.08 L225.22 426.49 L225.76 425.90 L226.30 425.31 L226.84 424.71 L227.38 424.12 L227.93 423.52 L228.47 422.93 L229.01 422.33 L229.55 421.74 L230.09 421.15 L230.63 420.55 L231.18 419.96 L231.72 419.38 L232.26 418.79 L232.80 418.21 L233.34 417.63 L233.89 417.05 L234.43 416.47 L234.61 416.28 L234.97 415.88 L235.51 415.21 L236.05 414.49 L236.59 413.73 L237.14 412.98 L237.68 412.27 L238.22 411.62 L238.76 411.06 L239.30 410.62 L239.85 410.34 L240.39 410.24 L240.93 410.56 L241.47 411.36 L242.01 412.40 L242.55 413.44 L243.10 414.24 L243.64 414.56 L244.18 414.20 L244.72 413.37 L245.26 412.39 L245.81 411.61 L246.26 411.36 L246.35 411.37 L246.89 411.67 L247.43 412.31 L247.97 413.14 L248.51 414.04 L249.06 414.86 L249.60 415.45 L250.14 415.68 L250.68 415.32 L251.22 414.33 L251.77 412.85 L252.31 411.00 L252.85 408.93 L253.39 406.77 L253.93 404.66 L254.47 402.72 L255.02 401.10 L255.06 401.00 L255.56 399.70 L256.10 398.29 L256.64 396.88 L257.18 395.52 L257.73 394.21 L258.27 392.99 L258.81 391.89 L259.35 390.93 L259.89 390.13 L259.98 390.02 L260.43 389.44 L260.98 388.99 L261.07 388.98 L261.52 389.01 L262.06 389.10 L262.60 389.26 L263.14 389.47 L263.69 389.74 L264.23 390.06 L264.77 390.42 L265.31 390.82 L265.85 391.25 L266.39 391.71 L266.94 392.20 L267.48 392.70 L268.02 393.22 L268.56 393.75 L269.10 394.28 L269.65 394.81 L270.07 395.22 L270.19 395.34 L270.73 395.94 L271.27 396.66 L271.81 397.47 L272.35 398.36 L272.90 399.31 L273.44 400.31 L273.98 401.33 L274.52 402.37 L275.06 403.41 L275.61 404.43 L276.15 405.41 L276.69 406.34 L277.23 407.21 L277.77 408.00 L278.31 408.68 L278.86 409.26 L279.08 409.46 L279.40 409.72 L279.94 410.18 L280.48 410.64 L281.02 411.08 L281.57 411.51 L282.11 411.93 L282.65 412.32 L283.19 412.68 L283.73 413.00 L284.27 413.29 L284.82 413.53 L285.36 413.72 L285.90 413.86 L286.44 413.94 L286.80 413.95 L286.98 413.95 L287.53 413.85 L288.07 413.63 L288.61 413.31 L289.15 412.89 L289.69 412.36 L290.23 411.74 L290.78 411.04 L291.32 410.25 L291.86 409.38 L292.40 408.44 L292.94 407.44 L293.49 406.37 L294.03 405.24 L294.57 404.07 L295.11 402.84 L295.65 401.58 L296.19 400.28 L296.74 398.95 L297.28 397.59 L297.82 396.21 L298.36 394.82 L298.90 393.41 L299.45 392.01 L299.94 390.71 L299.99 390.60 L300.53 389.01 L301.07 387.13 L301.61 385.02 L302.15 382.69 L302.70 380.20 L303.24 379.13 L303.78 374.88 L304.32 373.41 L304.86 369.37 L305.41 366.66 L305.95 363.99 L306.49 361.46 L307.03 359.05 L307.57 357.49 L308.11 354.88 L308.35 354.15 L308.66 353.12 L309.20 351.43 L309.74 349.66 L310.28 347.88 L310.82 346.62 L311.37 343.84 L311.91 344.55 L312.03 345.05 L312.45 343.92 L312.99 342.45 L313.08 343.54 L313.53 343.95 L314.07 344.19 L314.62 343.90 L315.16 346.05 L315.70 349.17 L316.24 348.56 L316.78 351.13 L317.26 351.03 L317.33 351.56 L317.87 352.55 L318.41 354.24 L318.95 355.89 L319.49 358.43 L320.03 359.82 L320.58 362.27 L321.12 364.14 L321.66 365.23 L322.20 368.62 L322.74 371.97 L323.29 373.07 L323.83 375.22 L324.37 377.29 L324.91 379.23 L325.45 381.05 L325.99 382.69 L326.08 382.94 L326.54 384.21 L327.08 385.70 L327.62 387.16 L328.16 388.59 L328.70 390.00 L329.25 391.37 L329.79 392.71 L330.33 394.02 L330.87 395.31 L331.41 396.55 L331.95 397.77 L332.50 398.95 L333.04 400.10 L333.58 401.21 L334.12 402.28 L334.66 403.32 L335.21 404.32 L335.75 405.28 L336.26 406.16 L336.29 406.21 L336.83 407.11 L337.37 407.99 L337.91 408.85 L338.46 409.70 L339.00 410.52 L339.54 411.33 L340.08 412.11 L340.62 412.87 L341.17 413.61 L341.71 414.31 L342.25 415.00 L342.79 415.65 L343.33 416.27 L343.87 416.86 L344.42 417.42 L344.96 417.95 L345.50 418.44" stroke="#1d7a66" stroke-width="1.4"/>
<path d="M47.50 504.02 L48.04 504.12 L48.58 504.20 L49.13 504.28 L49.67 504.34 L50.21 504.40 L50.75 504.46 L51.29 504.50 L51.83 504.54 L52.38 504.58 L52.92 504.61 L53.46 504.63 L54.00 504.65 L54.54 504.67 L55.09 504.68 L55.63 504.69 L56.17 504.70 L56.71 504.71 L57.25 504.71 L57.79 504.71 L58.34 504.71 L58.88 504.71 L59.06 504.71 L59.42 504.64 L59.96 504.33 L60.50 503.89 L61.05 503.47 L61.59 503.19 L61.86 503.15 L62.13 503.15 L62.67 503.17 L63.21 503.20 L63.75 503.25 L64.30 503.31 L64.84 503.38 L65.38 503.46 L65.92 503.56 L66.46 503.65 L67.01 503.76 L67.55 503.87 L68.09 503.99 L68.63 504.10 L68.99 504.18 L69.17 504.22 L69.71 504.35 L70.26 504.51 L70.80 504.70 L71.34 504.93 L71.70 505.12 L71.88 505.27 L72.42 505.98 L72.78 506.22 L72.97 505.84 L73.51 502.44 L73.87 501.10 L74.05 501.08 L74.59 501.04 L75.13 501.00 L75.67 500.98 L76.22 500.96 L76.76 500.96 L77.21 500.95 L77.30 500.97 L77.84 501.47 L78.38 502.33 L78.84 502.95 L78.93 503.05 L79.47 503.65 L80.01 504.27 L80.55 504.85 L81.09 505.33 L81.63 505.65 L82.09 505.74 L82.18 505.73 L82.72 505.48 L83.26 504.95 L83.80 504.30 L84.34 503.64 L84.89 503.14 L85.43 502.91 L85.97 502.88 L86.51 502.85 L87.05 502.83 L87.59 502.82 L88.14 502.81 L88.68 502.96 L89.22 503.28 L89.76 503.60 L90.30 503.91 L90.85 504.27 L91.39 504.66 L91.93 505.04 L92.47 505.39 L93.01 505.67 L93.55 505.86 L94.10 505.93 L94.64 505.53 L95.18 504.49 L95.72 503.02 L96.26 501.37 L96.81 499.76 L97.35 498.41 L97.89 497.55 L98.25 497.37 L98.43 497.38 L98.97 497.56 L99.51 497.89 L100.06 498.28 L100.60 498.67 L101.14 498.98 L101.68 499.13 L101.77 499.13 L102.22 499.11 L102.77 499.02 L103.31 498.86 L103.85 498.65 L104.39 498.39 L104.93 498.08 L105.47 497.73 L106.02 497.34 L106.56 496.92 L107.10 496.47 L107.64 496.00 L108.18 495.52 L108.73 495.02 L109.27 494.52 L109.81 494.02 L110.35 493.53 L110.89 493.04 L111.43 492.57 L111.98 492.11 L112.52 491.69 L113.06 491.29 L113.60 490.93 L114.14 490.60 L114.69 490.33 L115.23 490.10 L115.77 489.93 L116.04 489.87 L116.31 489.82 L116.85 489.71 L117.39 489.61 L117.94 489.51 L118.48 489.42 L119.02 489.34 L119.56 489.27 L120.10 489.22 L120.65 489.18 L121.19 489.16 L121.46 489.16 L121.73 489.19 L122.27 489.38 L122.81 489.64 L123.35 489.85 L123.72 489.90 L123.90 489.52 L124.44 486.01 L124.80 484.49 L124.98 484.36 L125.52 483.99 L126.06 483.65 L126.61 483.34 L127.15 483.05 L127.69 482.79 L128.23 482.55 L128.77 482.34 L129.31 482.15 L129.86 481.97 L130.40 481.81 L130.94 481.67 L131.48 481.54 L132.02 481.42 L132.57 481.32 L133.11 481.22 L133.65 481.14 L134.19 481.05 L134.73 480.98 L135.27 480.90 L135.82 480.83 L136.36 480.75 L136.90 480.68 L137.44 480.60 L137.98 480.51 L138.53 480.42 L139.07 480.32 L139.61 480.21 L140.15 480.09 L140.69 479.96 L141.23 479.81 L141.78 479.65 L141.87 479.62 L142.32 479.47 L142.86 479.29 L143.40 479.11 L143.94 478.93 L144.49 478.74 L145.03 478.56 L145.57 478.37 L146.11 478.18 L146.65 477.99 L147.19 477.80 L147.74 477.61 L148.28 477.41 L148.82 477.22 L149.36 477.02 L149.90 476.82 L150.45 476.62 L150.99 476.42 L151.53 476.21 L152.07 476.01 L152.61 475.80 L153.15 475.59 L153.70 475.38 L154.24 475.17 L154.78 474.96 L155.32 474.74 L155.86 474.53 L156.41 474.31 L156.95 474.09 L157.49 473.87 L158.03 473.65 L158.57 473.42 L159.11 473.20 L159.66 472.97 L160.20 472.74 L160.74 472.52 L161.28 472.29 L161.82 472.05 L162.37 471.82 L162.91 471.59 L163.45 471.35 L163.81 471.19 L163.99 471.11 L164.53 470.87 L165.07 470.63 L165.62 470.39 L166.16 470.15 L166.70 469.91 L167.24 469.66 L167.78 469.41 L168.33 469.16 L168.87 468.91 L169.41 468.66 L169.95 468.40 L170.49 468.15 L171.03 467.89 L171.58 467.63 L172.12 467.36 L172.66 467.10 L173.20 466.83 L173.74 466.56 L174.29 466.29 L174.83 466.01 L175.37 465.73 L175.91 465.45 L176.45 465.17 L176.99 464.88 L177.54 464.59 L178.08 464.30 L178.62 464.00 L179.16 463.71 L179.70 463.41 L180.25 463.10 L180.79 462.79 L181.33 462.48 L181.87 462.17 L182.41 461.85 L182.95 461.53 L183.50 461.20 L184.04 460.89 L184.58 460.59 L185.12 460.32 L185.66 460.05 L186.21 459.79 L186.75 459.54 L187.29 459.28 L187.83 459.02 L188.37 458.76 L188.91 458.48 L189.46 458.18 L190.00 457.87 L190.54 457.53 L191.08 457.16 L191.62 456.76 L192.17 456.32 L192.71 455.84 L193.25 455.32 L193.79 454.75 L194.33 454.13 L194.87 453.45 L195.42 452.71 L195.51 452.58 L195.96 451.15 L196.50 448.43 L197.04 446.44 L197.22 446.27 L197.58 450.77 L197.94 455.26 L198.13 455.21 L198.67 454.60 L199.21 453.86 L199.30 453.77 L199.75 453.39 L200.29 452.96 L200.83 452.56 L201.38 452.19 L201.92 451.83 L202.46 451.49 L203.00 451.15 L203.54 450.80 L204.09 450.45 L204.63 450.07 L204.99 449.81 L205.17 449.67 L205.71 449.26 L206.25 448.85 L206.79 448.43 L207.34 448.00 L207.88 447.57 L208.42 447.14 L208.96 446.70 L209.50 446.26 L210.05 445.81 L210.59 445.36 L211.13 444.91 L211.67 444.46 L212.21 444.00 L212.75 443.54 L213.30 443.08 L213.84 442.62 L214.38 442.15 L214.92 441.69 L215.46 441.22 L216.01 440.75 L216.55 440.29 L216.64 440.21 L217.09 439.82 L217.63 439.35 L218.17 438.88 L218.71 438.41 L219.26 437.94 L219.80 437.46 L220.34 436.99 L220.88 436.51 L221.42 436.04 L221.97 435.56 L222.51 435.08 L223.05 434.59 L223.59 434.11 L224.13 433.63 L224.67 433.14 L225.22 432.65 L225.76 432.16 L226.30 431.66 L226.84 431.17 L227.38 430.67 L227.93 430.17 L228.47 429.67 L229.01 429.17 L229.55 428.66 L230.09 428.15 L230.63 427.64 L231.18 427.12 L231.72 426.61 L232.26 426.09 L232.80 425.57 L233.34 425.04 L233.89 424.51 L234.43 423.98 L234.61 423.80 L234.97 423.42 L235.51 422.79 L236.05 422.09 L236.59 421.35 L237.14 420.59 L237.68 419.84 L238.22 419.13 L238.76 418.46 L239.30 417.88 L239.85 417.40 L240.39 417.05 L240.93 416.84 L241.29 416.80 L241.47 416.87 L242.01 417.66 L242.55 418.92 L243.10 420.09 L243.64 420.60 L244.18 420.23 L244.72 419.35 L245.26 418.32 L245.81 417.50 L246.26 417.24 L246.35 417.24 L246.89 417.55 L247.43 418.22 L247.97 419.09 L248.51 420.03 L249.06 420.87 L249.60 421.49 L250.14 421.73 L250.68 421.47 L251.22 420.73 L251.77 419.61 L252.31 418.18 L252.85 416.52 L253.39 414.70 L253.93 412.82 L254.47 410.94 L255.02 409.15 L255.56 407.54 L256.10 406.17 L256.15 406.05 L256.64 404.98 L257.18 403.79 L257.73 402.61 L258.27 401.45 L258.81 400.32 L259.35 399.23 L259.89 398.19 L260.43 397.21 L260.98 396.29 L261.52 395.45 L262.06 394.70 L262.42 394.25 L262.60 394.03 L263.14 393.39 L263.50 393.22 L263.69 393.22 L264.23 393.28 L264.77 393.40 L265.31 393.58 L265.85 393.81 L266.39 394.10 L266.94 394.42 L267.48 394.79 L268.02 395.19 L268.56 395.61 L269.10 396.06 L269.65 396.53 L270.19 397.01 L270.73 397.50 L271.27 397.99 L271.81 398.47 L271.98 398.62 L272.35 398.98 L272.90 399.60 L273.44 400.32 L273.98 401.11 L274.52 401.98 L275.06 402.88 L275.61 403.82 L276.15 404.78 L276.69 405.73 L277.23 406.67 L277.77 407.57 L278.31 408.41 L278.86 409.19 L279.40 409.89 L279.94 410.48 L280.45 410.93 L280.48 410.96 L281.02 411.38 L281.57 411.80 L282.11 412.21 L282.65 412.61 L283.19 413.00 L283.73 413.36 L284.27 413.69 L284.82 413.99 L285.36 414.26 L285.90 414.48 L286.44 414.64 L286.98 414.76 L287.53 414.81 L287.71 414.82 L288.07 414.79 L288.61 414.65 L289.15 414.39 L289.69 414.03 L290.23 413.56 L290.78 412.99 L291.32 412.32 L291.86 411.56 L292.40 410.72 L292.94 409.80 L293.49 408.81 L294.03 407.74 L294.57 406.61 L295.11 405.42 L295.65 404.18 L296.19 402.88 L296.74 401.55 L297.28 400.17 L297.82 398.75 L298.36 397.31 L298.90 395.84 L299.45 394.36 L299.99 392.86 L300.53 391.35 L301.07 389.83 L301.57 388.44 L301.61 388.32 L302.15 386.62 L302.70 384.63 L303.24 382.38 L303.78 379.92 L304.32 377.29 L304.86 374.51 L305.41 371.64 L305.95 368.27 L306.49 365.73 L307.03 361.79 L307.57 359.87 L308.11 356.18 L308.66 354.37 L309.20 351.66 L309.74 349.52 L310.28 348.84 L310.44 346.88 L310.82 344.58 L311.37 343.62 L311.91 342.24 L312.45 339.97 L312.99 336.85 L313.53 337.06 L314.07 335.90 L314.32 335.76 L314.62 337.26 L315.16 334.97 L315.43 335.34 L315.70 334.94 L316.24 335.51 L316.78 335.95 L317.33 338.05 L317.87 337.89 L318.41 337.72 L318.95 340.28 L319.49 340.08 L319.76 342.05 L320.03 342.47 L320.58 343.94 L321.12 345.69 L321.66 346.93 L322.20 350.09 L322.74 350.34 L323.29 353.24 L323.83 354.02 L324.37 357.40 L324.91 357.83 L325.45 359.74 L325.99 361.63 L326.54 363.47 L327.08 365.26 L327.62 366.98 L328.16 368.60 L328.54 369.66 L328.70 370.11 L329.25 371.58 L329.79 373.03 L330.33 374.46 L330.87 375.87 L331.41 377.26 L331.95 378.63 L332.50 379.98 L333.04 381.31 L333.58 382.61 L334.12 383.90 L334.66 385.17 L335.21 386.41 L335.75 387.64 L336.29 388.84 L336.83 390.03 L337.37 391.19 L337.68 391.84 L337.91 392.33 L338.46 393.45 L339.00 394.56 L339.54 395.65 L340.08 396.73 L340.62 397.78 L341.17 398.82 L341.71 399.84 L342.25 400.84 L342.79 401.82 L343.33 402.78 L343.87 403.73 L344.42 404.65 L344.96 405.55 L345.50 406.44" stroke="#3b9fc6" stroke-width="1.3"/>
<path d="M47.50 505.02 L48.04 505.12 L48.58 505.22 L49.13 505.30 L49.67 505.38 L50.21 505.45 L50.75 505.51 L51.29 505.57 L51.83 505.61 L52.38 505.65 L52.92 505.69 L53.46 505.71 L54.00 505.74 L54.54 505.76 L55.09 505.77 L55.63 505.78 L56.17 505.79 L56.71 505.80 L57.25 505.80 L57.79 505.80 L58.34 505.80 L58.88 505.80 L59.06 505.80 L59.42 505.73 L59.96 505.43 L60.50 505.00 L61.05 504.58 L61.59 504.31 L61.86 504.27 L62.13 504.27 L62.67 504.29 L63.21 504.32 L63.75 504.37 L64.30 504.44 L64.84 504.51 L65.38 504.60 L65.92 504.70 L66.46 504.80 L67.01 504.91 L67.55 505.03 L68.09 505.15 L68.63 505.27 L68.99 505.36 L69.17 505.40 L69.71 505.53 L70.26 505.69 L70.80 505.89 L71.34 506.13 L71.70 506.32 L71.88 506.47 L72.42 507.19 L72.78 507.43 L72.97 507.05 L73.51 503.66 L73.87 502.32 L74.05 502.30 L74.59 502.27 L75.13 502.24 L75.67 502.22 L76.22 502.21 L76.76 502.20 L77.21 502.20 L77.30 502.21 L77.84 502.72 L78.38 503.59 L78.84 504.21 L78.93 504.31 L79.47 504.92 L80.01 505.54 L80.55 506.13 L81.09 506.62 L81.63 506.93 L82.09 507.02 L82.18 507.02 L82.72 506.77 L83.26 506.25 L83.80 505.59 L84.34 504.95 L84.89 504.44 L85.43 504.23 L85.97 504.20 L86.51 504.18 L87.05 504.17 L87.59 504.16 L88.14 504.15 L88.68 504.30 L89.22 504.62 L89.76 504.95 L90.30 505.27 L90.85 505.64 L91.39 506.03 L91.93 506.42 L92.47 506.77 L93.01 507.06 L93.55 507.25 L94.10 507.32 L94.64 506.93 L95.18 505.88 L95.72 504.43 L96.26 502.78 L96.81 501.17 L97.35 499.83 L97.89 498.97 L98.25 498.79 L98.43 498.81 L98.97 498.99 L99.51 499.32 L100.06 499.72 L100.60 500.12 L101.14 500.43 L101.68 500.58 L101.77 500.59 L102.22 500.56 L102.77 500.47 L103.31 500.32 L103.85 500.11 L104.39 499.85 L104.93 499.54 L105.47 499.19 L106.02 498.81 L106.56 498.39 L107.10 497.95 L107.64 497.49 L108.18 497.01 L108.73 496.52 L109.27 496.02 L109.81 495.53 L110.35 495.04 L110.89 494.55 L111.43 494.09 L111.98 493.64 L112.52 493.22 L113.06 492.83 L113.60 492.47 L114.14 492.16 L114.69 491.89 L115.23 491.67 L115.77 491.51 L116.04 491.45 L116.31 491.40 L116.85 491.30 L117.39 491.20 L117.94 491.11 L118.48 491.03 L119.02 490.95 L119.56 490.89 L120.10 490.84 L120.65 490.80 L121.19 490.78 L121.46 490.78 L121.73 490.81 L122.27 491.00 L122.81 491.27 L123.35 491.49 L123.72 491.54 L123.90 491.17 L124.44 487.79 L124.80 486.32 L124.98 486.19 L125.52 485.84 L126.06 485.51 L126.61 485.20 L127.15 484.93 L127.69 484.68 L128.23 484.45 L128.77 484.24 L129.31 484.05 L129.86 483.88 L130.40 483.73 L130.94 483.59 L131.48 483.47 L132.02 483.36 L132.57 483.25 L133.11 483.16 L133.65 483.08 L134.19 483.00 L134.73 482.92 L135.27 482.85 L135.82 482.78 L136.36 482.71 L136.90 482.63 L137.44 482.56 L137.98 482.47 L138.53 482.39 L139.07 482.29 L139.61 482.18 L140.15 482.07 L140.69 481.94 L141.23 481.79 L141.78 481.63 L141.87 481.60 L142.32 481.46 L142.86 481.29 L143.40 481.11 L143.94 480.93 L144.49 480.75 L145.03 480.57 L145.57 480.39 L146.11 480.21 L146.65 480.02 L147.19 479.83 L147.74 479.64 L148.28 479.45 L148.82 479.26 L149.36 479.07 L149.90 478.87 L150.45 478.67 L150.99 478.47 L151.53 478.27 L152.07 478.07 L152.61 477.87 L153.15 477.66 L153.70 477.46 L154.24 477.25 L154.78 477.04 L155.32 476.83 L155.86 476.62 L156.41 476.41 L156.95 476.20 L157.49 475.98 L158.03 475.77 L158.57 475.55 L159.11 475.33 L159.66 475.11 L160.20 474.89 L160.74 474.67 L161.28 474.45 L161.82 474.22 L162.37 474.00 L162.91 473.77 L163.45 473.55 L163.81 473.40 L163.99 473.32 L164.53 473.09 L165.07 472.86 L165.62 472.63 L166.16 472.40 L166.70 472.16 L167.24 471.92 L167.78 471.69 L168.33 471.45 L168.87 471.21 L169.41 470.96 L169.95 470.72 L170.49 470.47 L171.03 470.23 L171.58 469.98 L172.12 469.72 L172.66 469.47 L173.20 469.22 L173.74 468.96 L174.29 468.70 L174.83 468.44 L175.37 468.18 L175.91 467.92 L176.45 467.65 L176.99 467.39 L177.54 467.12 L178.08 466.85 L178.62 466.57 L179.16 466.30 L179.70 466.02 L180.25 465.74 L180.79 465.46 L181.33 465.18 L181.87 464.90 L182.41 464.61 L182.95 464.32 L183.50 464.03 L184.04 463.75 L184.58 463.49 L185.12 463.25 L185.66 463.02 L186.21 462.80 L186.75 462.59 L187.29 462.38 L187.83 462.17 L188.37 461.95 L188.91 461.72 L189.46 461.48 L190.00 461.22 L190.54 460.94 L191.08 460.64 L191.62 460.31 L192.17 459.94 L192.71 459.54 L193.25 459.10 L193.79 458.62 L194.33 458.09 L194.87 457.50 L195.42 456.87 L195.51 456.75 L195.96 455.44 L196.50 452.91 L197.04 451.04 L197.22 450.88 L197.58 455.29 L197.94 459.69 L198.13 459.63 L198.67 458.96 L199.21 458.16 L199.30 458.07 L199.75 457.68 L200.29 457.25 L200.83 456.87 L201.38 456.51 L201.92 456.18 L202.46 455.86 L203.00 455.55 L203.54 455.23 L204.09 454.90 L204.63 454.55 L204.99 454.30 L205.17 454.17 L205.71 453.78 L206.25 453.38 L206.79 452.98 L207.34 452.57 L207.88 452.15 L208.42 451.74 L208.96 451.31 L209.50 450.89 L210.05 450.46 L210.59 450.02 L211.13 449.59 L211.67 449.15 L212.21 448.71 L212.75 448.27 L213.30 447.83 L213.84 447.39 L214.38 446.94 L214.92 446.50 L215.46 446.06 L216.01 445.62 L216.55 445.18 L216.64 445.11 L217.09 444.74 L217.63 444.31 L218.17 443.87 L218.71 443.44 L219.26 443.01 L219.80 442.58 L220.34 442.15 L220.88 441.72 L221.42 441.29 L221.97 440.86 L222.51 440.43 L223.05 439.99 L223.59 439.56 L224.13 439.13 L224.67 438.69 L225.22 438.26 L225.76 437.82 L226.30 437.38 L226.84 436.93 L227.38 436.49 L227.93 436.04 L228.47 435.59 L229.01 435.14 L229.55 434.68 L230.09 434.22 L230.63 433.75 L231.18 433.28 L231.72 432.81 L232.26 432.33 L232.80 431.84 L233.34 431.36 L233.89 430.86 L234.43 430.36 L234.61 430.20 L234.97 429.84 L235.51 429.23 L236.05 428.55 L236.59 427.83 L237.14 427.09 L237.68 426.36 L238.22 425.66 L238.76 425.01 L239.30 424.43 L239.85 423.96 L240.39 423.61 L240.93 423.41 L241.29 423.37 L241.47 423.42 L242.01 424.09 L242.55 425.15 L243.10 426.13 L243.64 426.57 L244.18 426.21 L244.72 425.38 L245.26 424.40 L245.81 423.62 L246.26 423.37 L246.35 423.38 L246.89 423.68 L247.43 424.32 L247.97 425.15 L248.51 426.05 L249.06 426.87 L249.60 427.46 L250.14 427.69 L250.68 427.50 L251.22 426.98 L251.77 426.15 L252.31 425.08 L252.85 423.81 L253.39 422.39 L253.93 420.85 L254.47 419.25 L255.02 417.64 L255.56 416.06 L256.10 414.56 L256.64 413.17 L257.18 411.96 L257.45 411.44 L257.73 410.94 L258.27 409.96 L258.81 408.98 L259.35 408.02 L259.89 407.08 L260.43 406.16 L260.98 405.26 L261.52 404.39 L262.06 403.54 L262.60 402.72 L263.14 401.94 L263.69 401.19 L264.23 400.48 L264.77 399.81 L265.31 399.18 L265.85 398.51 L266.39 398.14 L266.94 398.17 L267.48 398.27 L268.02 398.42 L268.56 398.62 L269.10 398.87 L269.65 399.16 L270.19 399.48 L270.73 399.84 L271.27 400.22 L271.81 400.62 L272.35 401.03 L272.90 401.46 L273.44 401.89 L273.98 402.32 L274.33 402.59 L274.52 402.75 L275.06 403.27 L275.61 403.88 L276.15 404.57 L276.69 405.32 L277.23 406.12 L277.77 406.95 L278.31 407.79 L278.86 408.63 L279.40 409.44 L279.94 410.22 L280.48 410.95 L281.02 411.60 L281.57 412.16 L282.11 412.63 L282.26 412.74 L282.65 413.00 L283.19 413.37 L283.73 413.74 L284.27 414.09 L284.82 414.43 L285.36 414.75 L285.90 415.04 L286.44 415.30 L286.98 415.52 L287.53 415.71 L288.07 415.84 L288.61 415.92 L289.06 415.94 L289.15 415.94 L289.69 415.87 L290.23 415.69 L290.78 415.41 L291.32 415.03 L291.86 414.57 L292.40 414.01 L292.94 413.37 L293.49 412.65 L294.03 411.85 L294.57 410.98 L295.11 410.04 L295.65 409.04 L296.19 407.98 L296.74 406.87 L297.28 405.70 L297.82 404.49 L298.36 403.23 L298.90 401.94 L299.45 400.61 L299.99 399.25 L300.53 397.87 L301.07 396.46 L301.61 395.04 L302.15 393.60 L302.70 392.15 L303.24 390.70 L303.78 389.25 L303.96 388.77 L304.32 387.74 L304.86 385.96 L305.41 383.95 L305.95 381.72 L306.49 379.31 L307.03 376.75 L307.57 374.07 L308.11 371.31 L308.66 368.49 L309.20 366.24 L309.74 362.82 L310.28 358.69 L310.82 357.30 L311.37 354.30 L311.91 352.18 L312.45 349.44 L312.99 347.73 L313.50 346.13 L313.53 345.83 L314.07 345.31 L314.62 342.16 L315.16 340.43 L315.70 338.67 L316.24 339.40 L316.78 335.87 L317.33 335.39 L317.67 334.46 L317.87 335.12 L318.41 333.77 L318.86 332.92 L318.95 333.61 L319.49 334.78 L320.03 334.38 L320.58 335.75 L321.12 336.11 L321.66 336.73 L322.20 338.27 L322.74 338.88 L322.86 339.55 L323.29 340.13 L323.83 341.59 L324.37 343.69 L324.91 344.31 L325.45 344.04 L325.99 347.36 L326.54 348.38 L327.08 350.61 L327.62 353.53 L328.16 353.93 L328.70 355.00 L329.25 357.18 L329.79 358.74 L330.33 360.23 L330.85 361.58 L330.87 361.64 L331.41 362.99 L331.95 364.33 L332.50 365.65 L333.04 366.95 L333.58 368.24 L334.12 369.52 L334.66 370.78 L335.21 372.03 L335.75 373.26 L336.29 374.48 L336.83 375.68 L337.37 376.88 L337.91 378.05 L338.46 379.22 L338.84 380.03 L339.00 380.37 L339.54 381.51 L340.08 382.63 L340.62 383.74 L341.17 384.84 L341.71 385.92 L342.25 386.99 L342.79 388.05 L343.33 389.09 L343.87 390.12 L344.42 391.14 L344.96 392.14 L345.50 393.13" stroke="#3a70a3" stroke-width="1.4"/>
<path d="M47.50 506.01 L48.04 506.13 L48.58 506.24 L49.13 506.33 L49.67 506.42 L50.21 506.50 L50.75 506.57 L51.29 506.63 L51.83 506.68 L52.38 506.72 L52.92 506.76 L53.46 506.80 L54.00 506.82 L54.54 506.84 L55.09 506.86 L55.63 506.87 L56.17 506.88 L56.71 506.89 L57.25 506.89 L57.79 506.89 L58.34 506.90 L58.88 506.90 L59.06 506.90 L59.42 506.83 L59.96 506.52 L60.50 506.10 L61.05 505.69 L61.59 505.42 L61.86 505.38 L62.13 505.38 L62.67 505.40 L63.21 505.44 L63.75 505.49 L64.30 505.56 L64.84 505.64 L65.38 505.74 L65.92 505.84 L66.46 505.95 L67.01 506.07 L67.55 506.19 L68.09 506.32 L68.63 506.45 L68.99 506.53 L69.17 506.58 L69.71 506.72 L70.26 506.88 L70.80 507.08 L71.34 507.32 L71.70 507.52 L71.88 507.67 L72.42 508.39 L72.78 508.64 L72.97 508.26 L73.51 504.87 L73.87 503.54 L74.05 503.52 L74.59 503.50 L75.13 503.48 L75.67 503.46 L76.22 503.45 L76.76 503.45 L77.21 503.45 L77.30 503.46 L77.84 503.97 L78.38 504.84 L78.84 505.47 L78.93 505.57 L79.47 506.18 L80.01 506.82 L80.55 507.41 L81.09 507.90 L81.63 508.22 L82.09 508.31 L82.18 508.31 L82.72 508.06 L83.26 507.54 L83.80 506.89 L84.34 506.25 L84.89 505.75 L85.43 505.54 L85.97 505.53 L86.51 505.51 L87.05 505.50 L87.59 505.49 L88.14 505.49 L88.68 505.64 L89.22 505.97 L89.76 506.31 L90.30 506.63 L90.85 507.00 L91.39 507.40 L91.93 507.79 L92.47 508.15 L93.01 508.44 L93.55 508.64 L94.10 508.71 L94.64 508.32 L95.18 507.28 L95.72 505.83 L96.26 504.19 L96.81 502.59 L97.35 501.25 L97.89 500.40 L98.25 500.22 L98.43 500.23 L98.97 500.42 L99.51 500.75 L100.06 501.17 L100.60 501.57 L101.14 501.89 L101.68 502.04 L101.77 502.04 L102.22 502.02 L102.77 501.93 L103.31 501.78 L103.85 501.57 L104.39 501.31 L104.93 501.01 L105.47 500.66 L106.02 500.28 L106.56 499.87 L107.10 499.43 L107.64 498.97 L108.18 498.50 L108.73 498.01 L109.27 497.52 L109.81 497.03 L110.35 496.55 L110.89 496.07 L111.43 495.61 L111.98 495.17 L112.52 494.75 L113.06 494.37 L113.60 494.02 L114.14 493.71 L114.69 493.45 L115.23 493.24 L115.77 493.08 L116.04 493.03 L116.31 492.98 L116.85 492.88 L117.39 492.79 L117.94 492.71 L118.48 492.63 L119.02 492.56 L119.56 492.50 L120.10 492.46 L120.65 492.42 L121.19 492.41 L121.46 492.40 L121.73 492.43 L122.27 492.63 L122.81 492.91 L123.35 493.13 L123.72 493.18 L123.90 492.83 L124.44 489.57 L124.80 488.15 L124.98 488.03 L125.52 487.68 L126.06 487.37 L126.61 487.07 L127.15 486.81 L127.69 486.56 L128.23 486.34 L128.77 486.14 L129.31 485.96 L129.86 485.80 L130.40 485.65 L130.94 485.52 L131.48 485.40 L132.02 485.29 L132.57 485.19 L133.11 485.10 L133.65 485.02 L134.19 484.94 L134.73 484.87 L135.27 484.80 L135.82 484.73 L136.36 484.66 L136.90 484.59 L137.44 484.51 L137.98 484.43 L138.53 484.35 L139.07 484.25 L139.61 484.15 L140.15 484.04 L140.69 483.91 L141.23 483.77 L141.78 483.62 L141.87 483.59 L142.32 483.45 L142.86 483.28 L143.40 483.11 L143.94 482.94 L144.49 482.76 L145.03 482.59 L145.57 482.41 L146.11 482.23 L146.65 482.05 L147.19 481.86 L147.74 481.68 L148.28 481.49 L148.82 481.30 L149.36 481.11 L149.90 480.92 L150.45 480.73 L150.99 480.53 L151.53 480.33 L152.07 480.14 L152.61 479.94 L153.15 479.74 L153.70 479.54 L154.24 479.33 L154.78 479.13 L155.32 478.92 L155.86 478.72 L156.41 478.51 L156.95 478.30 L157.49 478.09 L158.03 477.88 L158.57 477.67 L159.11 477.46 L159.66 477.25 L160.20 477.04 L160.74 476.82 L161.28 476.61 L161.82 476.39 L162.37 476.18 L162.91 475.96 L163.45 475.74 L163.81 475.60 L163.99 475.53 L164.53 475.31 L165.07 475.09 L165.62 474.86 L166.16 474.64 L166.70 474.42 L167.24 474.19 L167.78 473.96 L168.33 473.73 L168.87 473.50 L169.41 473.26 L169.95 473.03 L170.49 472.79 L171.03 472.56 L171.58 472.32 L172.12 472.08 L172.66 471.84 L173.20 471.60 L173.74 471.35 L174.29 471.11 L174.83 470.87 L175.37 470.62 L175.91 470.37 L176.45 470.13 L176.99 469.88 L177.54 469.63 L178.08 469.38 L178.62 469.13 L179.16 468.88 L179.70 468.63 L180.25 468.38 L180.79 468.12 L181.33 467.87 L181.87 467.62 L182.41 467.36 L182.95 467.11 L183.50 466.85 L184.04 466.61 L184.58 466.39 L185.12 466.19 L185.66 466.00 L186.21 465.82 L186.75 465.65 L187.29 465.48 L187.83 465.31 L188.37 465.14 L188.91 464.96 L189.46 464.77 L190.00 464.57 L190.54 464.35 L191.08 464.11 L191.62 463.85 L192.17 463.55 L192.71 463.23 L193.25 462.87 L193.79 462.47 L194.33 462.04 L194.87 461.55 L195.42 461.02 L195.51 460.93 L195.96 459.74 L196.50 457.38 L197.04 455.63 L197.22 455.48 L197.58 459.80 L197.94 464.12 L198.13 464.06 L198.67 463.32 L199.21 462.46 L199.30 462.36 L199.75 461.97 L200.29 461.55 L200.83 461.18 L201.38 460.85 L201.92 460.54 L202.46 460.24 L203.00 459.95 L203.54 459.66 L204.09 459.36 L204.63 459.03 L204.99 458.79 L205.17 458.67 L205.71 458.30 L206.25 457.92 L206.79 457.53 L207.34 457.14 L207.88 456.74 L208.42 456.34 L208.96 455.94 L209.50 455.53 L210.05 455.11 L210.59 454.70 L211.13 454.28 L211.67 453.86 L212.21 453.44 L212.75 453.01 L213.30 452.59 L213.84 452.17 L214.38 451.75 L214.92 451.33 L215.46 450.91 L216.01 450.49 L216.55 450.08 L216.64 450.01 L217.09 449.66 L217.63 449.25 L218.17 448.85 L218.71 448.44 L219.26 448.03 L219.80 447.63 L220.34 447.23 L220.88 446.82 L221.42 446.42 L221.97 446.02 L222.51 445.62 L223.05 445.21 L223.59 444.81 L224.13 444.41 L224.67 444.00 L225.22 443.60 L225.76 443.19 L226.30 442.78 L226.84 442.37 L227.38 441.96 L227.93 441.54 L228.47 441.13 L229.01 440.71 L229.55 440.28 L230.09 439.86 L230.63 439.43 L231.18 439.00 L231.72 438.56 L232.26 438.12 L232.80 437.67 L233.34 437.22 L233.89 436.77 L234.43 436.31 L234.61 436.16 L234.97 435.83 L235.51 435.27 L236.05 434.65 L236.59 433.99 L237.14 433.32 L237.68 432.66 L238.22 432.02 L238.76 431.43 L239.30 430.90 L239.85 430.47 L240.39 430.16 L240.93 429.97 L241.29 429.94 L241.47 429.98 L242.01 430.54 L242.55 431.43 L243.10 432.25 L243.64 432.61 L244.18 432.24 L244.72 431.36 L245.26 430.33 L245.81 429.51 L246.26 429.24 L246.35 429.25 L246.89 429.52 L247.43 430.10 L247.97 430.85 L248.51 431.66 L249.06 432.39 L249.60 432.93 L250.14 433.13 L250.68 432.98 L251.22 432.56 L251.77 431.89 L252.31 431.02 L252.85 429.96 L253.39 428.77 L253.93 427.46 L254.47 426.07 L255.02 424.63 L255.56 423.18 L256.10 421.75 L256.64 420.37 L257.18 419.08 L257.73 417.90 L258.27 416.87 L258.43 416.60 L258.81 415.98 L259.35 415.11 L259.89 414.25 L260.43 413.41 L260.98 412.59 L261.52 411.78 L262.06 410.99 L262.60 410.21 L263.14 409.46 L263.69 408.72 L264.23 408.00 L264.77 407.30 L265.31 406.62 L265.85 405.96 L266.39 405.32 L266.94 404.70 L267.48 404.10 L268.02 403.44 L268.56 403.07 L269.10 403.10 L269.65 403.18 L270.19 403.32 L270.73 403.51 L271.27 403.74 L271.81 404.01 L272.35 404.31 L272.90 404.64 L273.44 404.99 L273.98 405.36 L274.52 405.75 L275.06 406.14 L275.61 406.53 L276.15 406.92 L276.37 407.08 L276.69 407.33 L277.23 407.83 L277.77 408.41 L278.31 409.06 L278.86 409.77 L279.40 410.51 L279.94 411.28 L280.48 412.05 L281.02 412.81 L281.57 413.55 L282.11 414.25 L282.65 414.88 L283.19 415.45 L283.73 415.93 L284.18 416.24 L284.27 416.31 L284.82 416.65 L285.36 416.98 L285.90 417.31 L286.44 417.63 L286.98 417.93 L287.53 418.21 L288.07 418.47 L288.61 418.69 L289.15 418.87 L289.69 419.01 L290.23 419.10 L290.78 419.14 L290.87 419.14 L291.32 419.10 L291.86 418.97 L292.40 418.74 L292.94 418.42 L293.49 418.00 L294.03 417.51 L294.57 416.93 L295.11 416.28 L295.65 415.55 L296.19 414.75 L296.74 413.88 L297.28 412.96 L297.82 411.97 L298.36 410.93 L298.90 409.83 L299.45 408.69 L299.99 407.50 L300.53 406.27 L301.07 405.01 L301.61 403.71 L302.15 402.38 L302.70 401.03 L303.24 399.65 L303.78 398.25 L304.32 396.84 L304.86 395.42 L305.41 393.99 L305.95 392.56 L306.49 391.12 L306.62 390.77 L307.03 389.62 L307.57 387.86 L308.11 385.88 L308.66 383.70 L309.20 381.35 L309.74 378.85 L310.28 376.24 L310.82 373.53 L311.37 370.77 L311.91 367.97 L312.45 365.16 L312.99 362.38 L313.53 358.92 L314.07 356.99 L314.62 354.55 L315.16 352.02 L315.70 349.73 L316.24 347.68 L316.71 345.76 L316.78 345.82 L317.33 345.19 L317.87 342.17 L318.41 340.90 L318.95 338.68 L319.49 337.05 L320.03 335.81 L320.58 331.56 L321.12 334.04 L321.12 334.58 L321.66 333.52 L322.20 332.28 L322.38 333.17 L322.74 333.72 L323.29 333.64 L323.83 332.09 L324.37 335.12 L324.91 337.21 L325.45 337.01 L325.85 337.65 L325.99 337.93 L326.54 339.80 L327.08 340.04 L327.62 341.34 L328.16 342.57 L328.70 343.97 L329.25 345.37 L329.79 346.70 L330.33 348.27 L330.87 348.57 L331.41 351.12 L331.95 352.14 L332.50 353.76 L332.79 354.41 L333.04 354.96 L333.58 356.14 L334.12 357.30 L334.66 358.44 L335.21 359.57 L335.75 360.68 L336.29 361.78 L336.83 362.87 L337.37 363.94 L337.91 364.99 L338.46 366.03 L339.00 367.06 L339.54 368.08 L339.72 368.41 L340.08 369.08 L340.62 370.07 L341.17 371.04 L341.71 372.01 L342.25 372.95 L342.79 373.89 L343.33 374.81 L343.87 375.72 L344.42 376.61 L344.96 377.49 L345.50 378.36" stroke="#a7adf3" stroke-width="1.1"/>
<path d="M47.50 507.00 L48.04 507.14 L48.58 507.26 L49.13 507.36 L49.67 507.46 L50.21 507.55 L50.75 507.62 L51.29 507.69 L51.83 507.75 L52.38 507.80 L52.92 507.84 L53.46 507.88 L54.00 507.91 L54.54 507.93 L55.09 507.95 L55.63 507.96 L56.17 507.97 L56.71 507.98 L57.25 507.98 L57.79 507.99 L58.34 507.99 L58.88 507.99 L59.06 507.99 L59.42 507.92 L59.96 507.62 L60.50 507.21 L61.05 506.80 L61.59 506.54 L61.86 506.50 L62.13 506.50 L62.67 506.52 L63.21 506.56 L63.75 506.62 L64.30 506.69 L64.84 506.78 L65.38 506.87 L65.92 506.98 L66.46 507.10 L67.01 507.22 L67.55 507.35 L68.09 507.49 L68.63 507.62 L68.99 507.71 L69.17 507.75 L69.71 507.90 L70.26 508.07 L70.80 508.27 L71.34 508.52 L71.70 508.72 L71.88 508.87 L72.42 509.60 L72.78 509.85 L72.97 509.47 L73.51 506.08 L73.87 504.75 L74.05 504.75 L74.59 504.73 L75.13 504.71 L75.67 504.70 L76.22 504.70 L76.76 504.69 L77.21 504.69 L77.30 504.71 L77.84 505.22 L78.38 506.10 L78.84 506.73 L78.93 506.83 L79.47 507.45 L80.01 508.09 L80.55 508.69 L81.09 509.18 L81.63 509.51 L82.09 509.60 L82.18 509.59 L82.72 509.34 L83.26 508.83 L83.80 508.18 L84.34 507.55 L84.89 507.06 L85.43 506.86 L85.97 506.85 L86.51 506.84 L87.05 506.84 L87.59 506.83 L88.14 506.83 L88.68 506.98 L89.22 507.32 L89.76 507.66 L90.30 507.99 L90.85 508.37 L91.39 508.77 L91.93 509.17 L92.47 509.53 L93.01 509.83 L93.55 510.03 L94.10 510.10 L94.64 509.71 L95.18 508.68 L95.72 507.23 L96.26 505.60 L96.81 504.00 L97.35 502.67 L97.89 501.82 L98.25 501.64 L98.43 501.66 L98.97 501.84 L99.51 502.19 L100.06 502.61 L100.60 503.02 L101.14 503.34 L101.68 503.49 L101.77 503.50 L102.22 503.47 L102.77 503.38 L103.31 503.23 L103.85 503.03 L104.39 502.77 L104.93 502.47 L105.47 502.13 L106.02 501.75 L106.56 501.34 L107.10 500.91 L107.64 500.45 L108.18 499.98 L108.73 499.50 L109.27 499.02 L109.81 498.53 L110.35 498.05 L110.89 497.59 L111.43 497.13 L111.98 496.70 L112.52 496.29 L113.06 495.91 L113.60 495.57 L114.14 495.27 L114.69 495.01 L115.23 494.80 L115.77 494.65 L116.04 494.60 L116.31 494.56 L116.85 494.47 L117.39 494.39 L117.94 494.31 L118.48 494.24 L119.02 494.17 L119.56 494.12 L120.10 494.07 L120.65 494.04 L121.19 494.03 L121.46 494.03 L121.73 494.06 L122.27 494.26 L122.81 494.54 L123.35 494.77 L123.72 494.82 L123.90 494.48 L124.44 491.34 L124.80 489.98 L124.98 489.87 L125.52 489.53 L126.06 489.22 L126.61 488.94 L127.15 488.69 L127.69 488.45 L128.23 488.24 L128.77 488.04 L129.31 487.87 L129.86 487.71 L130.40 487.57 L130.94 487.44 L131.48 487.32 L132.02 487.22 L132.57 487.12 L133.11 487.04 L133.65 486.96 L134.19 486.88 L134.73 486.81 L135.27 486.75 L135.82 486.68 L136.36 486.61 L136.90 486.54 L137.44 486.47 L137.98 486.39 L138.53 486.31 L139.07 486.22 L139.61 486.12 L140.15 486.01 L140.69 485.89 L141.23 485.75 L141.78 485.60 L141.87 485.58 L142.32 485.44 L142.86 485.28 L143.40 485.11 L143.94 484.94 L144.49 484.77 L145.03 484.60 L145.57 484.43 L146.11 484.25 L146.65 484.07 L147.19 483.89 L147.74 483.71 L148.28 483.53 L148.82 483.34 L149.36 483.15 L149.90 482.97 L150.45 482.78 L150.99 482.59 L151.53 482.39 L152.07 482.20 L152.61 482.00 L153.15 481.81 L153.70 481.61 L154.24 481.41 L154.78 481.21 L155.32 481.01 L155.86 480.81 L156.41 480.61 L156.95 480.41 L157.49 480.20 L158.03 480.00 L158.57 479.80 L159.11 479.59 L159.66 479.39 L160.20 479.18 L160.74 478.97 L161.28 478.77 L161.82 478.56 L162.37 478.35 L162.91 478.15 L163.45 477.94 L163.81 477.80 L163.99 477.73 L164.53 477.52 L165.07 477.31 L165.62 477.10 L166.16 476.88 L166.70 476.67 L167.24 476.45 L167.78 476.23 L168.33 476.01 L168.87 475.78 L169.41 475.56 L169.95 475.33 L170.49 475.11 L171.03 474.88 L171.58 474.65 L172.12 474.42 L172.66 474.19 L173.20 473.97 L173.74 473.74 L174.29 473.50 L174.83 473.27 L175.37 473.04 L175.91 472.81 L176.45 472.58 L176.99 472.36 L177.54 472.13 L178.08 471.90 L178.62 471.67 L179.16 471.44 L179.70 471.22 L180.25 471.00 L180.79 470.77 L181.33 470.55 L181.87 470.33 L182.41 470.11 L182.95 469.90 L183.50 469.68 L184.04 469.48 L184.58 469.29 L185.12 469.13 L185.66 468.98 L186.21 468.84 L186.75 468.71 L187.29 468.58 L187.83 468.46 L188.37 468.33 L188.91 468.20 L189.46 468.06 L190.00 467.91 L190.54 467.75 L191.08 467.57 L191.62 467.38 L192.17 467.16 L192.71 466.91 L193.25 466.63 L193.79 466.32 L194.33 465.98 L194.87 465.60 L195.42 465.18 L195.51 465.10 L195.96 464.04 L196.50 461.86 L197.04 460.23 L197.22 460.09 L197.58 464.32 L197.94 468.56 L198.13 468.48 L198.67 467.67 L199.21 466.75 L199.30 466.66 L199.75 466.27 L200.29 465.86 L200.83 465.50 L201.38 465.19 L201.92 464.90 L202.46 464.63 L203.00 464.36 L203.54 464.10 L204.09 463.82 L204.63 463.51 L204.99 463.29 L205.17 463.17 L205.71 462.81 L206.25 462.45 L206.79 462.08 L207.34 461.71 L207.88 461.33 L208.42 460.94 L208.96 460.55 L209.50 460.15 L210.05 459.76 L210.59 459.36 L211.13 458.95 L211.67 458.55 L212.21 458.15 L212.75 457.74 L213.30 457.34 L213.84 456.94 L214.38 456.54 L214.92 456.14 L215.46 455.75 L216.01 455.36 L216.55 454.97 L216.64 454.91 L217.09 454.59 L217.63 454.21 L218.17 453.84 L218.71 453.48 L219.26 453.11 L219.80 452.75 L220.34 452.40 L220.88 452.04 L221.42 451.69 L221.97 451.34 L222.51 450.99 L223.05 450.65 L223.59 450.30 L224.13 449.95 L224.67 449.60 L225.22 449.25 L225.76 448.90 L226.30 448.54 L226.84 448.18 L227.38 447.82 L227.93 447.46 L228.47 447.09 L229.01 446.71 L229.55 446.34 L230.09 445.95 L230.63 445.56 L231.18 445.16 L231.72 444.76 L232.26 444.35 L232.80 443.93 L233.34 443.50 L233.89 443.06 L234.43 442.62 L234.61 442.46 L234.97 442.14 L235.51 441.57 L236.05 440.92 L236.59 440.23 L237.14 439.51 L237.68 438.79 L238.22 438.09 L238.76 437.45 L239.30 436.88 L239.85 436.40 L240.39 436.05 L240.93 435.85 L241.29 435.81 L241.47 435.85 L242.01 436.32 L242.55 437.06 L243.10 437.75 L243.64 438.06 L244.18 437.76 L244.72 437.06 L245.26 436.24 L245.81 435.59 L246.26 435.38 L246.35 435.39 L246.89 435.65 L247.43 436.21 L247.97 436.95 L248.51 437.74 L249.06 438.46 L249.60 438.98 L250.14 439.18 L250.68 439.07 L251.22 438.76 L251.77 438.25 L252.31 437.59 L252.85 436.78 L253.39 435.86 L253.93 434.83 L254.47 433.72 L255.02 432.55 L255.56 431.35 L256.10 430.13 L256.64 428.91 L257.18 427.72 L257.73 426.58 L258.27 425.50 L258.81 424.52 L259.35 423.64 L259.65 423.21 L259.89 422.88 L260.43 422.16 L260.98 421.46 L261.52 420.77 L262.06 420.09 L262.60 419.43 L263.14 418.78 L263.69 418.15 L264.23 417.52 L264.77 416.91 L265.31 416.31 L265.85 415.71 L266.39 415.13 L266.94 414.55 L267.48 413.98 L268.02 413.41 L268.56 412.85 L269.10 412.29 L269.65 411.74 L270.19 411.19 L270.73 410.53 L271.27 410.15 L271.81 410.18 L272.35 410.26 L272.90 410.40 L273.44 410.58 L273.98 410.79 L274.52 411.05 L275.06 411.33 L275.61 411.64 L276.15 411.97 L276.69 412.32 L277.23 412.67 L277.77 413.03 L278.31 413.40 L278.76 413.69 L278.86 413.76 L279.40 414.18 L279.94 414.69 L280.48 415.27 L281.02 415.91 L281.57 416.59 L282.11 417.29 L282.65 418.00 L283.19 418.70 L283.73 419.38 L284.27 420.02 L284.82 420.60 L285.36 421.12 L285.90 421.54 L286.25 421.77 L286.44 421.88 L286.98 422.19 L287.53 422.50 L288.07 422.80 L288.61 423.09 L289.15 423.36 L289.69 423.61 L290.23 423.83 L290.78 424.01 L291.32 424.16 L291.86 424.26 L292.40 424.31 L292.67 424.32 L292.94 424.31 L293.49 424.24 L294.03 424.10 L294.57 423.89 L295.11 423.62 L295.65 423.29 L296.19 422.90 L296.74 422.44 L297.28 421.93 L297.82 421.37 L298.36 420.76 L298.90 420.10 L299.45 419.38 L299.99 418.63 L300.53 417.83 L301.07 416.99 L301.61 416.11 L302.15 415.19 L302.70 414.24 L303.24 413.25 L303.78 412.24 L304.32 411.19 L304.86 410.12 L305.41 409.03 L305.95 407.91 L306.49 406.78 L307.03 405.62 L307.57 404.45 L308.11 403.27 L308.66 402.08 L309.20 400.87 L309.74 399.66 L310.28 398.45 L310.82 397.23 L311.37 396.01 L311.77 395.10 L311.91 394.78 L312.45 393.39 L312.99 391.78 L313.53 389.97 L314.07 387.98 L314.62 385.84 L315.16 383.55 L315.70 381.15 L316.24 378.66 L316.78 376.08 L317.33 373.45 L317.87 370.79 L318.41 368.10 L318.95 365.42 L319.49 362.77 L320.03 360.16 L320.58 357.62 L321.12 353.99 L321.66 352.81 L322.20 350.75 L322.74 348.49 L323.29 348.04 L323.83 344.85 L324.37 343.73 L324.91 342.03 L325.45 340.08 L325.81 340.43 L325.99 340.84 L326.54 339.45 L327.08 339.41 L327.62 338.05 L328.16 339.18 L328.70 336.87 L329.25 337.70 L329.79 336.06 L330.33 336.30 L330.87 335.76 L331.41 338.82 L331.95 336.05 L332.50 335.34 L333.04 336.80 L333.58 338.51 L334.12 337.88 L334.66 337.06 L335.21 339.13 L335.75 339.49 L336.02 340.08 L336.29 341.81 L336.83 341.17 L337.37 340.96 L337.91 343.01 L338.46 343.58 L339.00 345.13 L339.54 347.50 L340.08 347.35 L340.62 347.67 L340.98 349.15 L341.17 349.50 L341.71 350.56 L342.25 351.64 L342.79 352.73 L343.33 353.84 L343.87 354.96 L344.42 356.09 L344.96 357.24 L345.50 358.40" stroke="#7984e1" stroke-width="1.1"/>
</g>
<line x1="55.3" y1="321.5" x2="86.5" y2="321.5" stroke="#f6aecf" stroke-width="1.7000000000000002"/>
<text x="92" y="326.4" font-size="14" text-anchor="start" font-weight="normal" fill="#3d3d3d" textLength="7.5" lengthAdjust="spacingAndGlyphs" >6</text>
<line x1="55.3" y1="338.9" x2="86.5" y2="338.9" stroke="#f7a59c" stroke-width="1.7000000000000002"/>
<text x="92" y="343.79999999999995" font-size="14" text-anchor="start" font-weight="normal" fill="#3d3d3d" textLength="7.5" lengthAdjust="spacingAndGlyphs" >7</text>
<line x1="55.3" y1="356.1" x2="86.5" y2="356.1" stroke="#f8c48c" stroke-width="1.7000000000000002"/>
<text x="92" y="361.0" font-size="14" text-anchor="start" font-weight="normal" fill="#3d3d3d" textLength="7.5" lengthAdjust="spacingAndGlyphs" >8</text>
<line x1="55.3" y1="373.3" x2="86.5" y2="373.3" stroke="#d4bb91" stroke-width="1.7000000000000002"/>
<text x="92" y="378.2" font-size="14" text-anchor="start" font-weight="normal" fill="#3d3d3d" textLength="7.5" lengthAdjust="spacingAndGlyphs" >9</text>
<line x1="55.3" y1="390.5" x2="86.5" y2="390.5" stroke="#f57d0f" stroke-width="2.3"/>
<text x="87.5" y="395.4" font-size="14" text-anchor="start" font-weight="normal" fill="#3d3d3d" textLength="16" lengthAdjust="spacingAndGlyphs" >10</text>
<line x1="55.3" y1="407.8" x2="86.5" y2="407.8" stroke="#2aa86a" stroke-width="2.1"/>
<text x="87.5" y="412.7" font-size="14" text-anchor="start" font-weight="normal" fill="#3d3d3d" textLength="16" lengthAdjust="spacingAndGlyphs" >11</text>
<line x1="113.2" y1="321.5" x2="143.9" y2="321.5" stroke="#1d7a66" stroke-width="2.0"/>
<text x="146.5" y="326.4" font-size="14" text-anchor="start" font-weight="normal" fill="#3d3d3d" textLength="16" lengthAdjust="spacingAndGlyphs" >12</text>
<line x1="113.2" y1="338.9" x2="143.9" y2="338.9" stroke="#3b9fc6" stroke-width="1.9"/>
<text x="146.5" y="343.79999999999995" font-size="14" text-anchor="start" font-weight="normal" fill="#3d3d3d" textLength="16" lengthAdjust="spacingAndGlyphs" >13</text>
<line x1="113.2" y1="356.1" x2="143.9" y2="356.1" stroke="#3a70a3" stroke-width="2.0"/>
<text x="146.5" y="361.0" font-size="14" text-anchor="start" font-weight="normal" fill="#3d3d3d" textLength="16" lengthAdjust="spacingAndGlyphs" >14</text>
<line x1="113.2" y1="373.3" x2="143.9" y2="373.3" stroke="#a7adf3" stroke-width="1.7000000000000002"/>
<text x="146.5" y="378.2" font-size="14" text-anchor="start" font-weight="normal" fill="#3d3d3d" textLength="16" lengthAdjust="spacingAndGlyphs" >15</text>
<line x1="113.2" y1="390.5" x2="143.9" y2="390.5" stroke="#7984e1" stroke-width="1.7000000000000002"/>
<text x="146.5" y="395.4" font-size="14" text-anchor="start" font-weight="normal" fill="#3d3d3d" textLength="16" lengthAdjust="spacingAndGlyphs" >16</text>
<text x="77.4" y="429.3" font-size="14" text-anchor="start" font-weight="normal" fill="#3d3d3d" textLength="69" lengthAdjust="spacingAndGlyphs" >Time (min)</text>
<text x="372.3" y="308.6" font-size="13.5" text-anchor="start" font-weight="bold" fill="#000" stroke="#000" stroke-width="0.35">D</text>
<rect x="415.3" y="312" width="301.40000000000003" height="216.20000000000005" fill="none" stroke="#5a5a5a" stroke-width="1.3"/>
<line x1="415.3" y1="498.76" x2="418.8" y2="498.76" stroke="#5a5a5a" stroke-width="1.2"/>
<text x="411.3" y="504.36" font-size="14.5" text-anchor="end" font-weight="normal" fill="#3d3d3d" textLength="20" lengthAdjust="spacingAndGlyphs" >1.2</text>
<line x1="415.3" y1="440.08" x2="418.8" y2="440.08" stroke="#5a5a5a" stroke-width="1.2"/>
<text x="411.3" y="445.68" font-size="14.5" text-anchor="end" font-weight="normal" fill="#3d3d3d" textLength="20" lengthAdjust="spacingAndGlyphs" >1.6</text>
<line x1="415.3" y1="381.4" x2="418.8" y2="381.4" stroke="#5a5a5a" stroke-width="1.2"/>
<text x="411.3" y="387.0" font-size="14.5" text-anchor="end" font-weight="normal" fill="#3d3d3d" textLength="20" lengthAdjust="spacingAndGlyphs" >2.0</text>
<line x1="415.3" y1="322.71999999999997" x2="418.8" y2="322.71999999999997" stroke="#5a5a5a" stroke-width="1.2"/>
<text x="411.3" y="328.32" font-size="14.5" text-anchor="end" font-weight="normal" fill="#3d3d3d" textLength="20" lengthAdjust="spacingAndGlyphs" >2.4</text>
<line x1="415.3" y1="528.2" x2="415.3" y2="524.7" stroke="#5a5a5a" stroke-width="1.2"/>
<text x="414.8" y="544.2" font-size="14.5" text-anchor="middle" font-weight="normal" fill="#3d3d3d" textLength="8" lengthAdjust="spacingAndGlyphs" >6</text>
<line x1="475.58000000000004" y1="528.2" x2="475.58000000000004" y2="524.7" stroke="#5a5a5a" stroke-width="1.2"/>
<text x="475.08000000000004" y="544.2" font-size="14.5" text-anchor="middle" font-weight="normal" fill="#3d3d3d" textLength="8" lengthAdjust="spacingAndGlyphs" >8</text>
<line x1="535.86" y1="528.2" x2="535.86" y2="524.7" stroke="#5a5a5a" stroke-width="1.2"/>
<text x="535.36" y="544.2" font-size="14.5" text-anchor="middle" font-weight="normal" fill="#3d3d3d" textLength="16.5" lengthAdjust="spacingAndGlyphs" >10</text>
<line x1="596.14" y1="528.2" x2="596.14" y2="524.7" stroke="#5a5a5a" stroke-width="1.2"/>
<text x="595.64" y="544.2" font-size="14.5" text-anchor="middle" font-weight="normal" fill="#3d3d3d" textLength="16.5" lengthAdjust="spacingAndGlyphs" >12</text>
<line x1="656.4200000000001" y1="528.2" x2="656.4200000000001" y2="524.7" stroke="#5a5a5a" stroke-width="1.2"/>
<text x="655.9200000000001" y="544.2" font-size="14.5" text-anchor="middle" font-weight="normal" fill="#3d3d3d" textLength="16.5" lengthAdjust="spacingAndGlyphs" >14</text>
<line x1="716.7" y1="528.2" x2="716.7" y2="524.7" stroke="#5a5a5a" stroke-width="1.2"/>
<text x="716.2" y="544.2" font-size="14.5" text-anchor="middle" font-weight="normal" fill="#3d3d3d" textLength="16.5" lengthAdjust="spacingAndGlyphs" >16</text>
<text transform="translate(380.9 417.8) rotate(-90)" font-size="14.5" font-weight="normal" fill="#3d3d3d" stroke="#3d3d3d" stroke-width="0.5" text-anchor="middle" textLength="115" lengthAdjust="spacingAndGlyphs">Absorbance (a.u.)</text>
<text x="524.3" y="558.7" font-size="13.5" text-anchor="start" font-weight="normal" fill="#3d3d3d" textLength="68.5" lengthAdjust="spacingAndGlyphs" stroke="#3d3d3d" stroke-width="0.5">Time (min)</text>
<path d="M415.3 448.2 L445.5 437.2 L475.2 424.1 L505.2 412.3 L535.4 394.8 L565.8 374.5 L595.8 359.8 L626.2 352.3 L656.4 348.1 L686.3 348.1 L716.3 348.1" fill="none" stroke="#f8aca4" stroke-width="1.6"/>
<path d="M415.3 446.7 L445.5 443.2 L475.2 437.2 L505.2 435.7 L535.4 437.2 L565.8 437 L595.8 440 L626.2 448.7 L656.4 456.1 L686.3 463.4 L716.3 476.7" fill="none" stroke="#38a0c9" stroke-width="1.9"/>
<circle cx="415.3" cy="446.7" r="3.6" fill="#a9d3e8"/>
<circle cx="445.5" cy="443.2" r="3.6" fill="#a9d3e8"/>
<circle cx="475.2" cy="437.2" r="3.6" fill="#a9d3e8"/>
<circle cx="505.2" cy="435.7" r="3.6" fill="#a9d3e8"/>
<circle cx="535.4" cy="437.2" r="3.6" fill="#a9d3e8"/>
<circle cx="565.8" cy="437" r="3.6" fill="#a9d3e8"/>
<circle cx="595.8" cy="440" r="3.6" fill="#a9d3e8"/>
<circle cx="626.2" cy="448.7" r="3.6" fill="#a9d3e8"/>
<circle cx="656.4" cy="456.1" r="3.6" fill="#a9d3e8"/>
<circle cx="686.3" cy="463.4" r="3.6" fill="#a9d3e8"/>
<circle cx="716.3" cy="476.7" r="3.6" fill="#a9d3e8"/>
<rect x="411.8" y="444.7" width="7" height="7" fill="#e8868a"/>
<rect x="442.0" y="433.7" width="7" height="7" fill="#e8868a"/>
<rect x="471.7" y="420.6" width="7" height="7" fill="#e8868a"/>
<rect x="501.7" y="408.8" width="7" height="7" fill="#e8868a"/>
<rect x="531.9" y="391.3" width="7" height="7" fill="#e8868a"/>
<rect x="562.3" y="371.0" width="7" height="7" fill="#e8868a"/>
<rect x="592.3" y="356.3" width="7" height="7" fill="#e8868a"/>
<rect x="622.7" y="348.8" width="7" height="7" fill="#e8868a"/>
<rect x="652.9" y="344.6" width="7" height="7" fill="#e8868a"/>
<rect x="682.8" y="344.6" width="7" height="7" fill="#e8868a"/>
<rect x="712.8" y="344.6" width="7" height="7" fill="#e8868a"/>
<line x1="424.5" y1="321" x2="465.7" y2="321" stroke="#38a0c9" stroke-width="1.9"/>
<circle cx="445.2" cy="321" r="3.6" fill="#a9d3e8"/>
<line x1="425.6" y1="342.7" x2="464.9" y2="342.7" stroke="#f8aca4" stroke-width="1.6"/>
<rect x="441.7" y="339.2" width="7" height="7" fill="#e8868a"/>
<text x="469" y="326.9" font-size="14" text-anchor="start" font-weight="normal" fill="#3d3d3d" textLength="77.7" lengthAdjust="spacingAndGlyphs" >Liquid water</text>
<text x="469" y="348.6" font-size="14" text-anchor="start" font-weight="normal" fill="#3d3d3d" textLength="100.7" lengthAdjust="spacingAndGlyphs" >Vaporous water</text>
<text x="0.8" y="573.6" font-size="13" text-anchor="start" font-weight="bold" fill="#000" stroke="#000" stroke-width="0.35">E</text>
<rect x="47.6" y="576.5" width="297.79999999999995" height="219.0" fill="none" stroke="#5a5a5a" stroke-width="1.3"/>
<line x1="47.6" y1="795.8" x2="51.1" y2="795.8" stroke="#5a5a5a" stroke-width="1.2"/>
<text x="43.3" y="801.4" font-size="14.5" text-anchor="end" font-weight="normal" fill="#3d3d3d" textLength="24" lengthAdjust="spacingAndGlyphs" >150</text>
<line x1="47.6" y1="741.6" x2="51.1" y2="741.6" stroke="#5a5a5a" stroke-width="1.2"/>
<text x="43.3" y="747.2" font-size="14.5" text-anchor="end" font-weight="normal" fill="#3d3d3d" textLength="24" lengthAdjust="spacingAndGlyphs" >175</text>
<line x1="47.6" y1="687.6" x2="51.1" y2="687.6" stroke="#5a5a5a" stroke-width="1.2"/>
<text x="43.3" y="693.2" font-size="14.5" text-anchor="end" font-weight="normal" fill="#3d3d3d" textLength="24" lengthAdjust="spacingAndGlyphs" >200</text>
<line x1="47.6" y1="633.8" x2="51.1" y2="633.8" stroke="#5a5a5a" stroke-width="1.2"/>
<text x="43.3" y="639.4" font-size="14.5" text-anchor="end" font-weight="normal" fill="#3d3d3d" textLength="24" lengthAdjust="spacingAndGlyphs" >225</text>
<line x1="47.6" y1="579.6" x2="51.1" y2="579.6" stroke="#5a5a5a" stroke-width="1.2"/>
<text x="43.3" y="585.2" font-size="14.5" text-anchor="end" font-weight="normal" fill="#3d3d3d" textLength="24" lengthAdjust="spacingAndGlyphs" >250</text>
<line x1="47.6" y1="795.5" x2="47.6" y2="792.0" stroke="#5a5a5a" stroke-width="1.2"/>
<text x="47.6" y="811.6" font-size="14.5" text-anchor="middle" font-weight="normal" fill="#3d3d3d" textLength="7.8" lengthAdjust="spacingAndGlyphs" >0</text>
<line x1="107.16" y1="795.5" x2="107.16" y2="792.0" stroke="#5a5a5a" stroke-width="1.2"/>
<text x="106.16" y="811.6" font-size="14.5" text-anchor="middle" font-weight="normal" fill="#3d3d3d" textLength="24" lengthAdjust="spacingAndGlyphs" >200</text>
<line x1="166.72" y1="795.5" x2="166.72" y2="792.0" stroke="#5a5a5a" stroke-width="1.2"/>
<text x="165.72" y="811.6" font-size="14.5" text-anchor="middle" font-weight="normal" fill="#3d3d3d" textLength="24" lengthAdjust="spacingAndGlyphs" >400</text>
<line x1="226.27999999999997" y1="795.5" x2="226.27999999999997" y2="792.0" stroke="#5a5a5a" stroke-width="1.2"/>
<text x="225.27999999999997" y="811.6" font-size="14.5" text-anchor="middle" font-weight="normal" fill="#3d3d3d" textLength="24" lengthAdjust="spacingAndGlyphs" >600</text>
<line x1="285.84" y1="795.5" x2="285.84" y2="792.0" stroke="#5a5a5a" stroke-width="1.2"/>
<text x="284.84" y="811.6" font-size="14.5" text-anchor="middle" font-weight="normal" fill="#3d3d3d" textLength="24" lengthAdjust="spacingAndGlyphs" >800</text>
<line x1="345.4" y1="795.5" x2="345.4" y2="792.0" stroke="#5a5a5a" stroke-width="1.2"/>
<text x="344.4" y="811.6" font-size="14.5" text-anchor="middle" font-weight="normal" fill="#3d3d3d" textLength="31.5" lengthAdjust="spacingAndGlyphs" >1000</text>
<text transform="translate(12.6 687.6) rotate(-90)" font-size="14.5" font-weight="normal" fill="#3d3d3d" stroke="#3d3d3d" stroke-width="0.5" text-anchor="middle" textLength="128" lengthAdjust="spacingAndGlyphs">Conductivity (S/cm)</text>
<text x="168.8" y="829.4" font-size="14" text-anchor="start" font-weight="normal" fill="#3d3d3d" textLength="53.1" lengthAdjust="spacingAndGlyphs" stroke="#3d3d3d" stroke-width="0.5">Time (s)</text>
<text x="234.2" y="599.7" font-size="14" text-anchor="start" font-weight="normal" fill="#3d3d3d" textLength="96.5" lengthAdjust="spacingAndGlyphs" >EG-PEDOT:PSS</text>
<path d="M47.5 763.1 L55.3 746.1 L62.9 733.8 L70.2 724.5 L77.8 717.4 L85.4 711.2 L93 706.3 L100.4 702.2 L108.2 698.7 L115.8 695.6 L123.4 692.7 L131.2 689.7 L138.8 686.4 L146.2 684.3 L153.8 682.3 L161.6 679.4 L169.2 677.3 L176.7 675.7 L184.5 673 L192 671.4 L199.6 669.2 L207.5 667.5 L215 665.1 L222.4 663.3 L229.8 661.4 L237.7 660 L245.2 657.9 L252.8 656.1 L260.5 654.1 L267.9 653 L275.6 651.3 L283.5 649.3 L290.9 647.6 L298.3 645.8 L302 645.4 L306 643.4 L313.9 641.2 L321.3 638.4 L329 636 L336.6 634.4 L345 630.3" fill="none" stroke="#f9b0a8" stroke-width="1.6"/>
<circle cx="47.5" cy="763.1" r="2.4" fill="#fff" stroke="#f9a8a0" stroke-width="1.1"/>
<circle cx="55.3" cy="746.1" r="2.4" fill="#fff" stroke="#f9a8a0" stroke-width="1.1"/>
<circle cx="62.9" cy="733.8" r="2.4" fill="#fff" stroke="#f9a8a0" stroke-width="1.1"/>
<circle cx="70.2" cy="724.5" r="2.4" fill="#fff" stroke="#f9a8a0" stroke-width="1.1"/>
<circle cx="77.8" cy="717.4" r="2.4" fill="#fff" stroke="#f9a8a0" stroke-width="1.1"/>
<circle cx="85.4" cy="711.2" r="2.4" fill="#fff" stroke="#f9a8a0" stroke-width="1.1"/>
<circle cx="93" cy="706.3" r="2.4" fill="#fff" stroke="#f9a8a0" stroke-width="1.1"/>
<circle cx="100.4" cy="702.2" r="2.4" fill="#fff" stroke="#f9a8a0" stroke-width="1.1"/>
<circle cx="108.2" cy="698.7" r="2.4" fill="#fff" stroke="#f9a8a0" stroke-width="1.1"/>
<circle cx="115.8" cy="695.6" r="2.4" fill="#fff" stroke="#f9a8a0" stroke-width="1.1"/>
<circle cx="123.4" cy="692.7" r="2.4" fill="#fff" stroke="#f9a8a0" stroke-width="1.1"/>
<circle cx="131.2" cy="689.7" r="2.4" fill="#fff" stroke="#f9a8a0" stroke-width="1.1"/>
<circle cx="138.8" cy="686.4" r="2.4" fill="#fff" stroke="#f9a8a0" stroke-width="1.1"/>
<circle cx="146.2" cy="684.3" r="2.4" fill="#fff" stroke="#f9a8a0" stroke-width="1.1"/>
<circle cx="153.8" cy="682.3" r="2.4" fill="#fff" stroke="#f9a8a0" stroke-width="1.1"/>
<circle cx="161.6" cy="679.4" r="2.4" fill="#fff" stroke="#f9a8a0" stroke-width="1.1"/>
<circle cx="169.2" cy="677.3" r="2.4" fill="#fff" stroke="#f9a8a0" stroke-width="1.1"/>
<circle cx="176.7" cy="675.7" r="2.4" fill="#fff" stroke="#f9a8a0" stroke-width="1.1"/>
<circle cx="184.5" cy="673" r="2.4" fill="#fff" stroke="#f9a8a0" stroke-width="1.1"/>
<circle cx="192" cy="671.4" r="2.4" fill="#fff" stroke="#f9a8a0" stroke-width="1.1"/>
<circle cx="199.6" cy="669.2" r="2.4" fill="#fff" stroke="#f9a8a0" stroke-width="1.1"/>
<circle cx="207.5" cy="667.5" r="2.4" fill="#fff" stroke="#f9a8a0" stroke-width="1.1"/>
<circle cx="215" cy="665.1" r="2.4" fill="#fff" stroke="#f9a8a0" stroke-width="1.1"/>
<circle cx="222.4" cy="663.3" r="2.4" fill="#fff" stroke="#f9a8a0" stroke-width="1.1"/>
<circle cx="229.8" cy="661.4" r="2.4" fill="#fff" stroke="#f9a8a0" stroke-width="1.1"/>
<circle cx="237.7" cy="660" r="2.4" fill="#fff" stroke="#f9a8a0" stroke-width="1.1"/>
<circle cx="245.2" cy="657.9" r="2.4" fill="#fff" stroke="#f9a8a0" stroke-width="1.1"/>
<circle cx="252.8" cy="656.1" r="2.4" fill="#fff" stroke="#f9a8a0" stroke-width="1.1"/>
<circle cx="260.5" cy="654.1" r="2.4" fill="#fff" stroke="#f9a8a0" stroke-width="1.1"/>
<circle cx="267.9" cy="653" r="2.4" fill="#fff" stroke="#f9a8a0" stroke-width="1.1"/>
<circle cx="275.6" cy="651.3" r="2.4" fill="#fff" stroke="#f9a8a0" stroke-width="1.1"/>
<circle cx="283.5" cy="649.3" r="2.4" fill="#fff" stroke="#f9a8a0" stroke-width="1.1"/>
<circle cx="290.9" cy="647.6" r="2.4" fill="#fff" stroke="#f9a8a0" stroke-width="1.1"/>
<circle cx="298.3" cy="645.8" r="2.4" fill="#fff" stroke="#f9a8a0" stroke-width="1.1"/>
<circle cx="302" cy="645.4" r="2.4" fill="#fff" stroke="#f9a8a0" stroke-width="1.1"/>
<circle cx="306" cy="643.4" r="2.4" fill="#fff" stroke="#f9a8a0" stroke-width="1.1"/>
<circle cx="313.9" cy="641.2" r="2.4" fill="#fff" stroke="#f9a8a0" stroke-width="1.1"/>
<circle cx="321.3" cy="638.4" r="2.4" fill="#fff" stroke="#f9a8a0" stroke-width="1.1"/>
<circle cx="329" cy="636" r="2.4" fill="#fff" stroke="#f9a8a0" stroke-width="1.1"/>
<circle cx="336.6" cy="634.4" r="2.4" fill="#fff" stroke="#f9a8a0" stroke-width="1.1"/>
<circle cx="345" cy="630.3" r="2.4" fill="#fff" stroke="#f9a8a0" stroke-width="1.1"/>
<text x="372.3" y="573.6" font-size="13" text-anchor="start" font-weight="bold" fill="#000" stroke="#000" stroke-width="0.35">F</text>
<rect x="415.3" y="576.3" width="302.09999999999997" height="219.5" fill="none" stroke="#5a5a5a" stroke-width="1.3"/>
<line x1="415.3" y1="795.8" x2="418.8" y2="795.8" stroke="#5a5a5a" stroke-width="1.2"/>
<text x="411.3" y="801.4" font-size="14.5" text-anchor="end" font-weight="normal" fill="#3d3d3d" textLength="20" lengthAdjust="spacingAndGlyphs" >0.0</text>
<line x1="415.3" y1="740.925" x2="418.8" y2="740.925" stroke="#5a5a5a" stroke-width="1.2"/>
<text x="411.3" y="746.525" font-size="14.5" text-anchor="end" font-weight="normal" fill="#3d3d3d" textLength="20" lengthAdjust="spacingAndGlyphs" >0.4</text>
<line x1="415.3" y1="686.05" x2="418.8" y2="686.05" stroke="#5a5a5a" stroke-width="1.2"/>
<text x="411.3" y="691.65" font-size="14.5" text-anchor="end" font-weight="normal" fill="#3d3d3d" textLength="20" lengthAdjust="spacingAndGlyphs" >0.8</text>
<line x1="415.3" y1="631.175" x2="418.8" y2="631.175" stroke="#5a5a5a" stroke-width="1.2"/>
<text x="411.3" y="636.775" font-size="14.5" text-anchor="end" font-weight="normal" fill="#3d3d3d" textLength="20" lengthAdjust="spacingAndGlyphs" >1.2</text>
<line x1="415.3" y1="576.3" x2="418.8" y2="576.3" stroke="#5a5a5a" stroke-width="1.2"/>
<text x="411.3" y="581.9" font-size="14.5" text-anchor="end" font-weight="normal" fill="#3d3d3d" textLength="20" lengthAdjust="spacingAndGlyphs" >1.6</text>
<line x1="415.3" y1="795.8" x2="415.3" y2="792.3" stroke="#5a5a5a" stroke-width="1.2"/>
<text x="415.3" y="811.6" font-size="14.5" text-anchor="middle" font-weight="normal" fill="#3d3d3d" textLength="7.8" lengthAdjust="spacingAndGlyphs" >0</text>
<line x1="475.72" y1="795.8" x2="475.72" y2="792.3" stroke="#5a5a5a" stroke-width="1.2"/>
<text x="474.72" y="811.6" font-size="14.5" text-anchor="middle" font-weight="normal" fill="#3d3d3d" textLength="24" lengthAdjust="spacingAndGlyphs" >200</text>
<line x1="536.14" y1="795.8" x2="536.14" y2="792.3" stroke="#5a5a5a" stroke-width="1.2"/>
<text x="535.14" y="811.6" font-size="14.5" text-anchor="middle" font-weight="normal" fill="#3d3d3d" textLength="24" lengthAdjust="spacingAndGlyphs" >400</text>
<line x1="596.56" y1="795.8" x2="596.56" y2="792.3" stroke="#5a5a5a" stroke-width="1.2"/>
<text x="595.56" y="811.6" font-size="14.5" text-anchor="middle" font-weight="normal" fill="#3d3d3d" textLength="24" lengthAdjust="spacingAndGlyphs" >600</text>
<line x1="656.98" y1="795.8" x2="656.98" y2="792.3" stroke="#5a5a5a" stroke-width="1.2"/>
<text x="655.98" y="811.6" font-size="14.5" text-anchor="middle" font-weight="normal" fill="#3d3d3d" textLength="24" lengthAdjust="spacingAndGlyphs" >800</text>
<line x1="717.4" y1="795.8" x2="717.4" y2="792.3" stroke="#5a5a5a" stroke-width="1.2"/>
<text x="716.4" y="811.6" font-size="14.5" text-anchor="middle" font-weight="normal" fill="#3d3d3d" textLength="31.5" lengthAdjust="spacingAndGlyphs" >1000</text>
<text transform="translate(381.2 686.1) rotate(-90)" font-size="14.5" font-weight="normal" fill="#3d3d3d" stroke="#3d3d3d" stroke-width="0.5" text-anchor="middle" textLength="128" lengthAdjust="spacingAndGlyphs">Conductivity (S/cm)</text>
<text x="535.8" y="828.8" font-size="14" text-anchor="start" font-weight="normal" fill="#3d3d3d" textLength="52.7" lengthAdjust="spacingAndGlyphs" stroke="#3d3d3d" stroke-width="0.5">Time (s)</text>
<text x="630" y="599.8" font-size="14" text-anchor="start" font-weight="normal" fill="#3d3d3d" textLength="75" lengthAdjust="spacingAndGlyphs" >PEDOT:PSS</text>
<path d="M415.30 704.7 L415.39 711.8 L415.49 697.1 L415.58 687.9 L415.68 678.0 L415.77 692.1 L415.87 701.2 L415.96 704.3 L416.06 683.3 L416.15 671.1 L416.24 689.8 L416.34 710.4 L416.43 706.6 L416.53 671.5 L416.62 690.7 L416.72 717.2 L416.81 694.6 L416.90 709.4 L417.00 702.0 L417.09 700.1 L417.19 703.1 L417.28 685.8 L417.38 694.2 L417.47 701.4 L417.57 687.7 L417.66 681.9 L417.75 715.8 L417.85 696.8 L417.94 706.7 L418.04 695.6 L418.13 710.9 L418.23 692.9 L418.32 693.7 L418.42 697.3 L418.51 707.5 L418.60 698.6 L418.70 708.1 L418.79 711.7 L418.89 690.0 L418.98 708.3 L419.08 677.0 L419.17 683.2 L419.27 720.4 L419.36 689.3 L419.45 708.1 L419.55 692.5 L419.64 692.4 L419.74 720.2 L419.83 696.2 L419.93 696.4 L420.02 679.7 L420.11 709.1 L420.21 682.8 L420.30 708.0 L420.40 697.4 L420.49 704.4 L420.59 770.4 L420.68 685.0 L420.78 661.6 L420.87 684.0 L420.96 681.2 L421.06 681.2 L421.15 701.1 L421.25 710.9 L421.34 674.2 L421.44 698.2 L421.53 690.1 L421.63 693.0 L421.72 684.3 L421.81 697.7 L421.91 694.7 L422.00 689.3 L422.10 691.2 L422.19 704.5 L422.29 680.3 L422.38 710.4 L422.47 709.1 L422.57 710.2 L422.66 679.3 L422.76 697.5 L422.85 705.9 L422.95 674.5 L423.04 686.7 L423.14 707.0 L423.23 709.9 L423.32 684.0 L423.42 708.9 L423.51 696.9 L423.61 692.5 L423.70 677.7 L423.80 693.2 L423.89 674.0 L423.99 699.5 L424.08 709.7 L424.17 717.6 L424.27 695.2 L424.36 697.2 L424.46 701.9 L424.55 698.7 L424.65 678.2 L424.74 702.2 L424.84 699.4 L424.93 690.1 L425.02 697.5 L425.12 690.9 L425.21 666.4 L425.31 685.7 L425.40 713.8 L425.50 668.5 L425.59 687.4 L425.68 705.1 L425.78 679.7 L425.87 691.9 L425.97 700.6 L426.06 700.8 L426.16 691.6 L426.25 691.5 L426.35 677.5 L426.44 696.6 L426.53 686.3 L426.63 666.6 L426.72 708.8 L426.82 688.5 L426.91 696.3 L427.01 706.6 L427.10 706.1 L427.20 692.3 L427.29 686.1 L427.38 699.3 L427.48 691.3 L427.57 682.1 L427.67 687.9 L427.76 672.4 L427.86 721.0 L427.95 685.3 L428.04 667.1 L428.14 683.4 L428.23 690.2 L428.33 682.2 L428.42 704.5 L428.52 696.6 L428.61 681.0 L428.71 683.3 L428.80 670.7 L428.89 691.8 L428.99 711.9 L429.08 665.6 L429.18 676.9 L429.27 706.4 L429.37 673.0 L429.46 691.4 L429.56 716.7 L429.65 697.6 L429.74 698.8 L429.84 670.0 L429.93 702.7 L430.03 695.3 L430.12 695.6 L430.22 697.0 L430.31 704.3 L430.41 688.8 L430.50 677.0 L430.59 683.2 L430.69 704.5 L430.78 707.5 L430.88 690.1 L430.97 701.4 L431.07 700.4 L431.16 714.8 L431.25 665.4 L431.35 679.2 L431.44 705.1 L431.54 679.3 L431.63 673.3 L431.73 724.5 L431.82 699.2 L431.92 697.0 L432.01 682.8 L432.10 693.3 L432.20 694.8 L432.29 692.5 L432.39 666.5 L432.48 663.2 L432.58 698.9 L432.67 704.4 L432.77 659.3 L432.86 705.1 L432.95 699.5 L433.05 691.1 L433.14 685.0 L433.24 677.5 L433.33 686.3 L433.43 703.6 L433.52 684.7 L433.61 730.6 L433.71 666.2 L433.80 691.8 L433.90 709.9 L433.99 705.9 L434.09 671.7 L434.18 699.0 L434.28 720.5 L434.37 699.6 L434.46 691.6 L434.56 675.3 L434.65 705.5 L434.75 682.4 L434.84 680.7 L434.94 701.2 L435.03 694.1 L435.13 667.4 L435.22 668.1 L435.31 679.8 L435.41 687.0 L435.50 675.9 L435.60 693.5 L435.69 692.9 L435.79 703.4 L435.88 691.5 L435.97 692.7 L436.07 658.9 L436.16 694.2 L436.26 692.6 L436.35 673.4 L436.45 694.1 L436.54 675.5 L436.64 721.4 L436.73 690.2 L436.82 679.8 L436.92 724.4 L437.01 707.4 L437.11 677.1 L437.20 695.1 L437.30 706.6 L437.39 696.7 L437.49 699.0 L437.58 681.6 L437.67 685.3 L437.77 695.4 L437.86 700.7 L437.96 692.3 L438.05 673.4 L438.15 686.8 L438.24 682.8 L438.34 693.6 L438.43 709.3 L438.52 701.3 L438.62 682.6 L438.71 690.1 L438.81 703.9 L438.90 713.7 L439.00 690.0 L439.09 696.2 L439.18 696.4 L439.28 696.1 L439.37 687.7 L439.47 687.5 L439.56 678.4 L439.66 678.8 L439.75 673.3 L439.85 680.5 L439.94 696.2 L440.03 678.3 L440.13 684.8 L440.22 694.8 L440.32 684.0 L440.41 675.7 L440.51 702.6 L440.60 715.9 L440.70 675.2 L440.79 691.3 L440.88 681.9 L440.98 709.9 L441.07 667.9 L441.17 681.5 L441.26 693.3 L441.36 696.4 L441.45 690.0 L441.54 693.9 L441.64 695.4 L441.73 702.9 L441.83 674.3 L441.92 697.5 L442.02 690.6 L442.11 690.4 L442.21 724.0 L442.30 684.4 L442.39 696.2 L442.49 695.6 L442.58 690.7 L442.68 705.0 L442.77 680.1 L442.87 701.2 L442.96 704.1 L443.06 703.5 L443.15 689.5 L443.24 681.5 L443.34 699.9 L443.43 712.4 L443.53 677.1 L443.62 706.3 L443.72 675.3 L443.81 692.5 L443.91 701.3 L444.00 716.1 L444.09 685.4 L444.19 679.5 L444.28 694.5 L444.38 706.0 L444.47 664.0 L444.57 694.6 L444.66 707.5 L444.75 706.2 L444.85 710.9 L444.94 700.6 L445.04 701.7 L445.13 710.0 L445.23 684.5 L445.32 727.6 L445.42 709.9 L445.51 664.8 L445.60 677.6 L445.70 684.7 L445.79 685.6 L445.89 667.7 L445.98 684.5 L446.08 690.8 L446.17 708.7 L446.27 692.9 L446.36 702.0 L446.45 701.6 L446.55 701.7 L446.64 692.5 L446.74 696.4 L446.83 680.0 L446.93 710.1 L447.02 694.3 L447.11 666.7 L447.21 691.4 L447.30 675.5 L447.40 676.4 L447.49 673.9 L447.59 681.9 L447.68 710.9 L447.78 695.7 L447.87 697.2 L447.96 713.3 L448.06 698.4 L448.15 709.2 L448.25 714.9 L448.34 689.2 L448.44 692.7 L448.53 701.5 L448.63 705.1 L448.72 699.5 L448.81 697.5 L448.91 697.7 L449.00 692.8 L449.10 698.1 L449.19 686.8 L449.29 685.0 L449.38 687.3 L449.48 701.3 L449.57 700.6 L449.66 686.2 L449.76 694.9 L449.85 692.8 L449.95 726.4 L450.04 729.3 L450.14 733.4 L450.23 687.7 L450.32 673.2 L450.42 682.4 L450.51 689.2 L450.61 692.1 L450.70 711.9 L450.80 680.2 L450.89 700.6 L450.99 685.4 L451.08 689.6 L451.17 688.6 L451.27 680.1 L451.36 678.4 L451.46 697.7 L451.55 704.2 L451.65 697.6 L451.74 669.6 L451.84 697.4 L451.93 676.2 L452.02 681.1 L452.12 682.5 L452.21 681.5 L452.31 706.4 L452.40 687.4 L452.50 670.7 L452.59 702.1 L452.68 693.2 L452.78 702.0 L452.87 688.2 L452.97 707.4 L453.06 670.5 L453.16 697.8 L453.25 713.8 L453.35 668.2 L453.44 694.4 L453.53 685.6 L453.63 685.4 L453.72 697.6 L453.82 695.8 L453.91 682.8 L454.01 680.1 L454.10 679.9 L454.20 689.8 L454.29 699.2 L454.38 695.4 L454.48 677.6 L454.57 673.1 L454.67 697.5 L454.76 699.4 L454.86 675.7 L454.95 682.9 L455.05 683.3 L455.14 710.9 L455.23 698.0 L455.33 700.0 L455.42 690.1 L455.52 716.1 L455.61 675.5 L455.71 688.9 L455.80 687.0 L455.89 709.2 L455.99 693.4 L456.08 674.7 L456.18 714.6 L456.27 688.9 L456.37 683.5 L456.46 702.6 L456.56 681.9 L456.65 697.6 L456.74 676.3 L456.84 685.9 L456.93 690.1 L457.03 666.0 L457.12 681.8 L457.22 675.3 L457.31 709.5 L457.41 702.1 L457.50 681.8 L457.59 680.8 L457.69 694.0 L457.78 682.6 L457.88 707.8 L457.97 690.4 L458.07 709.1 L458.16 688.7 L458.25 698.0 L458.35 702.2 L458.44 692.6 L458.54 668.6 L458.63 707.3 L458.73 701.7 L458.82 678.8 L458.92 699.3 L459.01 669.3 L459.10 690.5 L459.20 692.3 L459.29 688.7 L459.39 669.7 L459.48 684.6 L459.58 686.5 L459.67 690.2 L459.77 715.1 L459.86 705.8 L459.95 673.3 L460.05 682.4 L460.14 686.8 L460.24 739.4 L460.33 701.2 L460.43 689.1 L460.52 706.1 L460.62 688.4 L460.71 703.6 L460.80 696.7 L460.90 687.6 L460.99 698.3 L461.09 708.3 L461.18 687.6 L461.28 689.0 L461.37 675.7 L461.46 714.1 L461.56 715.8 L461.65 685.5 L461.75 681.1 L461.84 666.6 L461.94 683.6 L462.03 682.6 L462.13 706.2 L462.22 683.7 L462.31 684.8 L462.41 708.6 L462.50 706.4 L462.60 695.7 L462.69 690.2 L462.79 734.6 L462.88 693.2 L462.98 691.0 L463.07 732.8 L463.16 690.6 L463.26 688.0 L463.35 708.1 L463.45 688.6 L463.54 697.8 L463.64 707.3 L463.73 691.5 L463.82 673.9 L463.92 714.4 L464.01 717.1 L464.11 717.1 L464.20 667.5 L464.30 697.9 L464.39 695.3 L464.49 705.3 L464.58 707.4 L464.67 722.3 L464.77 692.2 L464.86 691.0 L464.96 721.7 L465.05 708.9 L465.15 704.8 L465.24 695.0 L465.34 691.3 L465.43 679.2 L465.52 676.0 L465.62 680.0 L465.71 676.3 L465.81 710.7 L465.90 702.4 L466.00 679.1 L466.09 690.8 L466.18 694.5 L466.28 722.0 L466.37 720.3 L466.47 688.7 L466.56 690.2 L466.66 699.0 L466.75 700.6 L466.85 718.6 L466.94 689.9 L467.03 680.8 L467.13 672.5 L467.22 694.3 L467.32 697.8 L467.41 710.1 L467.51 678.3 L467.60 716.6 L467.70 703.5 L467.79 691.1 L467.88 693.9 L467.98 711.7 L468.07 729.4 L468.17 700.2 L468.26 686.9 L468.36 715.0 L468.45 706.8 L468.55 740.3 L468.64 677.7 L468.73 688.4 L468.83 694.7 L468.92 699.0 L469.02 704.1 L469.11 696.5 L469.21 699.7 L469.30 698.8 L469.39 695.9 L469.49 693.7 L469.58 674.2 L469.68 715.4 L469.77 691.9 L469.87 704.1 L469.96 707.5 L470.06 728.0 L470.15 687.3 L470.24 709.2 L470.34 706.0 L470.43 689.3 L470.53 710.7 L470.62 695.5 L470.72 696.9 L470.81 684.8 L470.91 682.0 L471.00 707.8 L471.09 683.3 L471.19 697.2 L471.28 694.3 L471.38 698.9 L471.47 685.3 L471.57 712.6 L471.66 692.4 L471.75 679.9 L471.85 699.9 L471.94 668.3 L472.04 706.2 L472.13 693.2 L472.23 702.7 L472.32 704.6 L472.42 711.5 L472.51 703.6 L472.60 696.9 L472.70 707.2 L472.79 684.1 L472.89 675.4 L472.98 717.2 L473.08 684.8 L473.17 693.7 L473.27 693.0 L473.36 663.6 L473.45 679.8 L473.55 691.8 L473.64 693.9 L473.74 726.0 L473.83 685.7 L473.93 706.6 L474.02 693.9 L474.12 695.0 L474.21 683.2 L474.30 668.6 L474.40 682.9 L474.49 679.0 L474.59 699.7 L474.68 690.2 L474.78 685.9 L474.87 716.3 L474.96 668.6 L475.06 706.3 L475.15 714.1 L475.25 674.2 L475.34 667.7 L475.44 706.3 L475.53 705.0 L475.63 659.1 L475.72 695.1 L475.81 723.9 L475.91 705.1 L476.00 669.3 L476.10 687.7 L476.19 686.4 L476.29 680.0 L476.38 687.5 L476.48 701.4 L476.57 718.7 L476.66 690.7 L476.76 712.2 L476.85 697.7 L476.95 672.8 L477.04 689.5 L477.14 696.1 L477.23 698.2 L477.32 686.9 L477.42 726.2 L477.51 715.1 L477.61 694.5 L477.70 673.5 L477.80 686.7 L477.89 707.6 L477.99 706.4 L478.08 725.4 L478.17 708.0 L478.27 675.1 L478.36 698.1 L478.46 708.9 L478.55 705.1 L478.65 698.7 L478.74 698.7 L478.84 702.1 L478.93 707.8 L479.02 688.5 L479.12 676.2 L479.21 705.1 L479.31 704.8 L479.40 681.0 L479.50 717.4 L479.59 705.5 L479.69 702.6 L479.78 695.1 L479.87 679.6 L479.97 709.6 L480.06 693.2 L480.16 713.8 L480.25 721.4 L480.35 725.3 L480.44 687.3 L480.53 721.4 L480.63 691.4 L480.72 688.4 L480.82 686.5 L480.91 700.0 L481.01 705.2 L481.10 696.5 L481.20 705.8 L481.29 767.8 L481.38 680.5 L481.48 710.0 L481.57 673.1 L481.67 690.7 L481.76 704.0 L481.86 691.8 L481.95 680.9 L482.05 716.7 L482.14 710.5 L482.23 712.2 L482.33 694.1 L482.42 692.3 L482.52 709.1 L482.61 707.9 L482.71 705.2 L482.80 681.6 L482.89 682.6 L482.99 696.2 L483.08 716.0 L483.18 689.4 L483.27 694.1 L483.37 694.6 L483.46 674.3 L483.56 686.8 L483.65 711.4 L483.74 711.3 L483.84 679.2 L483.93 695.3 L484.03 686.0 L484.12 699.6 L484.22 711.2 L484.31 693.7 L484.41 676.0 L484.50 692.7 L484.59 712.8 L484.69 701.6 L484.78 704.1 L484.88 694.9 L484.97 683.2 L485.07 670.1 L485.16 694.0 L485.26 702.9 L485.35 696.0 L485.44 696.8 L485.54 702.9 L485.63 696.7 L485.73 697.1 L485.82 713.2 L485.92 689.6 L486.01 702.1 L486.10 710.6 L486.20 690.4 L486.29 703.8 L486.39 673.3 L486.48 690.7 L486.58 696.2 L486.67 707.7 L486.77 702.9 L486.86 685.7 L486.95 706.8 L487.05 687.0 L487.14 726.3 L487.24 694.8 L487.33 686.3 L487.43 692.9 L487.52 697.6 L487.62 683.8 L487.71 709.4 L487.80 711.1 L487.90 696.2 L487.99 681.2 L488.09 691.8 L488.18 700.4 L488.28 693.6 L488.37 691.7 L488.46 714.8 L488.56 736.3 L488.65 711.8 L488.75 718.3 L488.84 668.1 L488.94 714.3 L489.03 709.7 L489.13 691.9 L489.22 696.5 L489.31 698.1 L489.41 675.0 L489.50 704.1 L489.60 703.0 L489.69 680.4 L489.79 713.0 L489.88 720.1 L489.98 679.8 L490.07 693.1 L490.16 689.5 L490.26 688.9 L490.35 685.3 L490.45 704.1 L490.54 698.7 L490.64 712.9 L490.73 695.3 L490.82 694.4 L490.92 703.8 L491.01 688.4 L491.11 660.3 L491.20 713.4 L491.30 686.1 L491.39 684.6 L491.49 742.1 L491.58 708.5 L491.67 681.0 L491.77 688.4 L491.86 699.1 L491.96 702.1 L492.05 694.0 L492.15 684.5 L492.24 685.1 L492.34 666.2 L492.43 702.1 L492.52 688.7 L492.62 703.0 L492.71 686.4 L492.81 695.3 L492.90 705.3 L493.00 715.3 L493.09 707.7 L493.19 693.8 L493.28 677.0 L493.37 686.5 L493.47 728.1 L493.56 703.9 L493.66 696.8 L493.75 699.2 L493.85 696.7 L493.94 687.1 L494.03 695.1 L494.13 707.6 L494.22 724.7 L494.32 703.0 L494.41 721.5 L494.51 700.8 L494.60 694.4 L494.70 717.3 L494.79 701.0 L494.88 703.9 L494.98 673.3 L495.07 693.3 L495.17 725.5 L495.26 693.7 L495.36 694.2 L495.45 702.7 L495.55 705.2 L495.64 691.9 L495.73 691.1 L495.83 694.3 L495.92 703.4 L496.02 703.8 L496.11 721.8 L496.21 721.0 L496.30 708.2 L496.39 715.1 L496.49 706.3 L496.58 666.9 L496.68 694.0 L496.77 713.0 L496.87 730.6 L496.96 712.2 L497.06 720.8 L497.15 731.3 L497.24 765.5 L497.34 662.8 L497.43 695.3 L497.53 661.3 L497.62 697.6 L497.72 699.7 L497.81 696.5 L497.91 705.0 L498.00 712.7 L498.09 704.3 L498.19 685.7 L498.28 705.0 L498.38 720.1 L498.47 718.4 L498.57 715.4 L498.66 723.0 L498.76 694.7 L498.85 694.6 L498.94 684.8 L499.04 703.9 L499.13 689.5 L499.23 696.4 L499.32 691.1 L499.42 726.0 L499.51 683.5 L499.60 721.7 L499.70 715.9 L499.79 689.7 L499.89 705.6 L499.98 676.0 L500.08 698.0 L500.17 714.2 L500.27 698.0 L500.36 705.6 L500.45 678.7 L500.55 677.7 L500.64 689.9 L500.74 705.5 L500.83 678.8 L500.93 685.5 L501.02 710.9 L501.12 710.8 L501.21 688.2 L501.30 689.8 L501.40 703.1 L501.49 703.6 L501.59 726.7 L501.68 683.7 L501.78 721.0 L501.87 719.5 L501.96 715.3 L502.06 712.1 L502.15 676.5 L502.25 690.4 L502.34 718.2 L502.44 674.4 L502.53 681.4 L502.63 694.1 L502.72 736.3 L502.81 729.6 L502.91 708.0 L503.00 701.6 L503.10 707.0 L503.19 682.5 L503.29 679.5 L503.38 688.7 L503.48 701.8 L503.57 696.2 L503.66 691.2 L503.76 721.4 L503.85 682.7 L503.95 704.1 L504.04 696.2 L504.14 711.7 L504.23 687.3 L504.33 685.1 L504.42 669.4 L504.51 704.5 L504.61 712.1 L504.70 697.8 L504.80 708.6 L504.89 687.8 L504.99 710.6 L505.08 697.7 L505.17 686.6 L505.27 685.6 L505.36 696.6 L505.46 680.1 L505.55 681.8 L505.65 722.7 L505.74 694.5 L505.84 696.9 L505.93 703.4 L506.02 708.1 L506.12 698.7 L506.21 694.0 L506.31 695.5 L506.40 680.5 L506.50 685.6 L506.59 707.3 L506.69 709.6 L506.78 687.6 L506.87 708.8 L506.97 696.9 L507.06 692.7 L507.16 685.1 L507.25 692.1 L507.35 679.3 L507.44 705.5 L507.53 689.9 L507.63 708.2 L507.72 696.6 L507.82 697.4 L507.91 711.9 L508.01 734.8 L508.10 735.3 L508.20 694.1 L508.29 697.2 L508.38 708.7 L508.48 703.6 L508.57 692.8 L508.67 719.3 L508.76 683.2 L508.86 697.5 L508.95 710.3 L509.05 690.7 L509.14 707.8 L509.23 696.1 L509.33 723.9 L509.42 703.9 L509.52 691.5 L509.61 708.0 L509.71 699.5 L509.80 691.0 L509.90 698.2 L509.99 674.7 L510.08 702.7 L510.18 701.6 L510.27 701.4 L510.37 726.3 L510.46 720.2 L510.56 691.8 L510.65 703.7 L510.74 680.1 L510.84 700.2 L510.93 701.5 L511.03 685.0 L511.12 695.3 L511.22 677.1 L511.31 713.6 L511.41 693.1 L511.50 689.8 L511.59 691.4 L511.69 683.2 L511.78 684.9 L511.88 698.5 L511.97 706.6 L512.07 685.4 L512.16 698.1 L512.26 685.6 L512.35 680.1 L512.44 695.8 L512.54 710.9 L512.63 702.0 L512.73 687.6 L512.82 701.6 L512.92 682.1 L513.01 697.7 L513.10 696.3 L513.20 706.7 L513.29 699.4 L513.39 683.0 L513.48 702.7 L513.58 702.6 L513.67 708.8 L513.77 687.4 L513.86 719.0 L513.95 707.1 L514.05 685.7 L514.14 678.7 L514.24 701.3 L514.33 685.0 L514.43 725.5 L514.52 687.9 L514.62 694.3 L514.71 715.1 L514.80 664.2 L514.90 705.2 L514.99 694.8 L515.09 693.3 L515.18 696.8 L515.28 687.7 L515.37 688.7 L515.47 717.3 L515.56 703.6 L515.65 705.3 L515.75 684.2 L515.84 705.0 L515.94 694.6 L516.03 697.0 L516.13 666.4 L516.22 698.9 L516.31 698.2 L516.41 699.8 L516.50 696.2 L516.60 665.4 L516.69 705.1 L516.79 710.2 L516.88 700.9 L516.98 689.0 L517.07 711.8 L517.16 709.8 L517.26 687.7 L517.35 700.5 L517.45 701.7 L517.54 709.0 L517.64 702.0 L517.73 709.2 L517.83 681.2 L517.92 675.9 L518.01 702.1 L518.11 698.8 L518.20 724.3 L518.30 705.5 L518.39 693.6 L518.49 694.5 L518.58 696.5 L518.67 686.6 L518.77 697.0 L518.86 703.5 L518.96 676.3 L519.05 724.5 L519.15 714.1 L519.24 708.3 L519.34 708.2 L519.43 708.8 L519.52 701.3 L519.62 708.0 L519.71 699.0 L519.81 690.2 L519.90 697.9 L520.00 696.5 L520.09 711.1 L520.19 713.8 L520.28 771.1 L520.37 685.6 L520.47 693.2 L520.56 683.4 L520.66 684.7 L520.75 682.9 L520.85 709.3 L520.94 681.3 L521.03 687.9 L521.13 669.9 L521.22 690.2 L521.32 693.7 L521.41 699.9 L521.51 695.9 L521.60 720.7 L521.70 701.5 L521.79 698.6 L521.88 684.6 L521.98 707.0 L522.07 699.6 L522.17 673.1 L522.26 705.2 L522.36 686.5 L522.45 705.3 L522.55 699.3 L522.64 691.7 L522.73 685.9 L522.83 704.6 L522.92 759.9 L523.02 677.2 L523.11 695.3 L523.21 687.1 L523.30 685.4 L523.40 680.6 L523.49 701.4 L523.58 699.7 L523.68 718.9 L523.77 695.3 L523.87 704.1 L523.96 704.7 L524.06 672.3 L524.15 688.4 L524.24 697.0 L524.34 716.1 L524.43 683.5 L524.53 677.0 L524.62 708.8 L524.72 691.9 L524.81 704.6 L524.91 699.6 L525.00 702.5 L525.09 719.4 L525.19 704.5 L525.28 719.5 L525.38 678.8 L525.47 683.4 L525.57 696.9 L525.66 693.7 L525.76 696.7 L525.85 694.8 L525.94 694.8 L526.04 700.6 L526.13 699.6 L526.23 715.5 L526.32 710.9 L526.42 705.5 L526.51 694.5 L526.60 702.3 L526.70 671.6 L526.79 699.8 L526.89 690.7 L526.98 691.4 L527.08 683.3 L527.17 672.2 L527.27 684.0 L527.36 705.1 L527.45 696.5 L527.55 682.9 L527.64 693.6 L527.74 686.3 L527.83 698.0 L527.93 675.5 L528.02 677.5 L528.12 681.8 L528.21 694.8 L528.30 718.5 L528.40 715.0 L528.49 692.4 L528.59 688.0 L528.68 735.9 L528.78 703.1 L528.87 681.3 L528.97 683.9 L529.06 703.3 L529.15 688.1 L529.25 696.2 L529.34 699.5 L529.44 681.5 L529.53 681.3 L529.63 703.6 L529.72 709.2 L529.81 714.0 L529.91 715.5 L530.00 678.5 L530.10 671.3 L530.19 693.5 L530.29 682.2 L530.38 705.5 L530.48 697.2 L530.57 702.2 L530.66 692.0 L530.76 734.3 L530.85 718.5 L530.95 715.6 L531.04 701.7 L531.14 703.5 L531.23 697.1 L531.33 704.6 L531.42 699.0 L531.51 695.2 L531.61 689.1 L531.70 695.1 L531.80 703.3 L531.89 699.7 L531.99 683.9 L532.08 698.7 L532.17 708.9 L532.27 709.4 L532.36 692.1 L532.46 688.4 L532.55 679.5 L532.65 700.2 L532.74 677.5 L532.84 700.5 L532.93 699.0 L533.02 703.4 L533.12 688.8 L533.21 681.8 L533.31 696.2 L533.40 702.5 L533.50 716.4 L533.59 693.8 L533.69 700.3 L533.78 698.4 L533.87 704.2 L533.97 707.4 L534.06 701.5 L534.16 689.7 L534.25 682.9 L534.35 728.8 L534.44 691.4 L534.54 698.3 L534.63 712.1 L534.72 713.9 L534.82 683.9 L534.91 687.7 L535.01 676.2 L535.10 703.8 L535.20 693.9 L535.29 707.8 L535.38 688.8 L535.48 697.2 L535.57 686.5 L535.67 708.1 L535.76 686.9 L535.86 709.0 L535.95 682.1 L536.05 699.4 L536.14 701.2 L536.23 694.2 L536.33 690.4 L536.42 714.1 L536.52 715.4 L536.61 689.9 L536.71 696.0 L536.80 722.2 L536.90 717.8 L536.99 705.4 L537.08 690.9 L537.18 692.4 L537.27 681.7 L537.37 679.5 L537.46 664.3 L537.56 714.2 L537.65 695.6 L537.74 680.8 L537.84 711.7 L537.93 713.7 L538.03 692.3 L538.12 680.4 L538.22 678.2 L538.31 718.5 L538.41 755.1 L538.50 696.1 L538.59 701.9 L538.69 690.5 L538.78 693.0 L538.88 671.3 L538.97 695.6 L539.07 692.3 L539.16 693.7 L539.26 679.9 L539.35 709.4 L539.44 689.5 L539.54 704.9 L539.63 713.4 L539.73 678.8 L539.82 687.5 L539.92 675.8 L540.01 691.0 L540.11 685.7 L540.20 692.5 L540.29 686.7 L540.39 699.8 L540.48 671.5 L540.58 706.0 L540.67 671.4 L540.77 696.8 L540.86 682.5 L540.95 692.2 L541.05 688.1 L541.14 674.1 L541.24 692.1 L541.33 706.6 L541.43 690.7 L541.52 685.2 L541.62 726.8 L541.71 680.8 L541.80 679.2 L541.90 717.5 L541.99 695.9 L542.09 682.8 L542.18 709.3 L542.28 699.4 L542.37 698.3 L542.47 686.2 L542.56 678.7 L542.65 694.1 L542.75 692.8 L542.84 681.2 L542.94 686.3 L543.03 695.1 L543.13 675.7 L543.22 712.6 L543.31 691.5 L543.41 699.2 L543.50 700.3 L543.60 690.8 L543.69 693.0 L543.79 662.1 L543.88 684.8 L543.98 688.7 L544.07 671.2 L544.16 679.7 L544.26 718.5 L544.35 691.8 L544.45 683.3 L544.54 701.5 L544.64 689.4 L544.73 699.5 L544.83 688.3 L544.92 715.4 L545.01 719.7 L545.11 700.8 L545.20 690.3 L545.30 675.4 L545.39 697.1 L545.49 703.5 L545.58 680.9 L545.68 692.9 L545.77 669.0 L545.86 694.5 L545.96 719.7 L546.05 718.0 L546.15 706.2 L546.24 712.1 L546.34 703.8 L546.43 702.6 L546.52 697.1 L546.62 700.7 L546.71 687.8 L546.81 687.7 L546.90 690.9 L547.00 690.6 L547.09 718.8 L547.19 715.8 L547.28 705.1 L547.37 689.8 L547.47 713.0 L547.56 698.9 L547.66 689.8 L547.75 666.5 L547.85 689.6 L547.94 700.4 L548.04 678.3 L548.13 690.4 L548.22 697.2 L548.32 678.0 L548.41 705.6 L548.51 690.6 L548.60 692.1 L548.70 680.9 L548.79 708.7 L548.88 710.8 L548.98 698.5 L549.07 696.9 L549.17 692.6 L549.26 698.3 L549.36 687.3 L549.45 683.8 L549.55 690.2 L549.64 707.5 L549.73 677.5 L549.83 714.1 L549.92 696.0 L550.02 681.1 L550.11 701.6 L550.21 675.6 L550.30 667.3 L550.40 671.7 L550.49 687.3 L550.58 679.8 L550.68 700.1 L550.77 687.7 L550.87 686.9 L550.96 691.8 L551.06 681.0 L551.15 695.9 L551.25 719.8 L551.34 687.6 L551.43 688.8 L551.53 665.5 L551.62 683.3 L551.72 710.9 L551.81 681.1 L551.91 684.5 L552.00 693.2 L552.09 698.1 L552.19 712.9 L552.28 691.2 L552.38 670.7 L552.47 718.3 L552.57 705.8 L552.66 682.5 L552.76 690.2 L552.85 687.1 L552.94 718.2 L553.04 700.8 L553.13 685.9 L553.23 684.7 L553.32 688.7 L553.42 704.8 L553.51 685.4 L553.61 709.0 L553.70 705.6 L553.79 708.6 L553.89 673.0 L553.98 698.3 L554.08 691.9 L554.17 722.7 L554.27 677.7 L554.36 686.3 L554.45 715.3 L554.55 714.6 L554.64 670.0 L554.74 705.5 L554.83 667.6 L554.93 699.0 L555.02 726.5 L555.12 677.4 L555.21 685.7 L555.30 683.2 L555.40 699.5 L555.49 695.5 L555.59 679.4 L555.68 703.8 L555.78 719.4 L555.87 680.1 L555.97 701.0 L556.06 675.1 L556.15 699.1 L556.25 698.3 L556.34 695.9 L556.44 724.7 L556.53 676.4 L556.63 701.1 L556.72 695.1 L556.81 672.4 L556.91 690.9 L557.00 680.2 L557.10 687.8 L557.19 681.8 L557.29 688.6 L557.38 676.6 L557.48 695.2 L557.57 686.0 L557.66 702.0 L557.76 676.1 L557.85 722.2 L557.95 689.7 L558.04 687.3 L558.14 687.6 L558.23 692.4 L558.33 673.9 L558.42 711.4 L558.51 700.4 L558.61 718.4 L558.70 707.1 L558.80 703.4 L558.89 694.1 L558.99 693.0 L559.08 677.4 L559.18 698.0 L559.27 692.7 L559.36 695.9 L559.46 692.5 L559.55 749.9 L559.65 659.2 L559.74 693.4 L559.84 705.3 L559.93 722.0 L560.02 677.9 L560.12 690.2 L560.21 700.8 L560.31 661.1 L560.40 672.5 L560.50 715.6 L560.59 696.9 L560.69 678.4 L560.78 680.6 L560.87 707.3 L560.97 667.8 L561.06 666.9 L561.16 707.3 L561.25 716.3 L561.35 711.1 L561.44 682.9 L561.54 677.3 L561.63 689.5 L561.72 700.2 L561.82 693.3 L561.91 684.3 L562.01 708.7 L562.10 715.4 L562.20 693.2 L562.29 675.1 L562.38 689.5 L562.48 689.4 L562.57 701.3 L562.67 679.5 L562.76 715.5 L562.86 693.0 L562.95 700.2 L563.05 694.2 L563.14 704.8 L563.23 681.8 L563.33 693.2 L563.42 700.3 L563.52 685.1 L563.61 692.8 L563.71 699.3 L563.80 700.2 L563.90 681.5 L563.99 705.0 L564.08 695.2 L564.18 695.8 L564.27 687.9 L564.37 694.8 L564.46 727.5 L564.56 716.1 L564.65 684.1 L564.75 692.6 L564.84 677.0 L564.93 714.5 L565.03 675.5 L565.12 711.2 L565.22 682.7 L565.31 685.2 L565.41 691.8 L565.50 702.3 L565.59 703.4 L565.69 690.9 L565.78 702.5 L565.88 719.0 L565.97 717.0 L566.07 681.2 L566.16 680.9 L566.26 685.1 L566.35 691.5 L566.44 686.9 L566.54 743.2 L566.63 688.6 L566.73 702.9 L566.82 702.1 L566.92 707.8 L567.01 689.9 L567.11 705.6 L567.20 694.2 L567.29 675.4 L567.39 697.1 L567.48 678.6 L567.58 670.6 L567.67 717.0 L567.77 711.6 L567.86 721.2 L567.95 701.6 L568.05 704.2 L568.14 682.2 L568.24 698.9 L568.33 680.5 L568.43 668.0 L568.52 678.7 L568.62 703.8 L568.71 693.8 L568.80 699.1 L568.90 670.2 L568.99 694.4 L569.09 701.2 L569.18 691.1 L569.28 684.6 L569.37 696.8 L569.47 690.2 L569.56 691.6 L569.65 681.5 L569.75 678.3 L569.84 687.8 L569.94 698.0 L570.03 686.0 L570.13 703.8 L570.22 676.8 L570.32 686.7 L570.41 688.2 L570.50 724.8 L570.60 661.3 L570.69 671.5 L570.79 674.0 L570.88 689.7 L570.98 682.2 L571.07 658.5 L571.16 700.7 L571.26 681.1 L571.35 683.0 L571.45 689.3 L571.54 686.4 L571.64 704.6 L571.73 682.3 L571.83 709.1 L571.92 666.2 L572.01 680.1 L572.11 702.7 L572.20 719.7 L572.30 689.5 L572.39 684.0 L572.49 721.7 L572.58 668.0 L572.68 687.1 L572.77 697.2 L572.86 710.0 L572.96 692.5 L573.05 693.5 L573.15 698.2 L573.24 676.4 L573.34 690.4 L573.43 684.5 L573.52 671.2 L573.62 682.3 L573.71 694.3 L573.81 682.3 L573.90 698.0 L574.00 684.6 L574.09 690.1 L574.19 705.9 L574.28 682.5 L574.37 689.7 L574.47 680.8 L574.56 709.1 L574.66 675.7 L574.75 675.1 L574.85 695.7 L574.94 692.3 L575.04 690.3 L575.13 691.3 L575.22 679.6 L575.32 700.8 L575.41 706.8 L575.51 694.4 L575.60 665.5 L575.70 696.5 L575.79 705.0 L575.89 703.9 L575.98 689.0 L576.07 675.2 L576.17 701.5 L576.26 689.1 L576.36 745.5 L576.45 685.1 L576.55 689.5 L576.64 677.1 L576.73 682.2 L576.83 700.0 L576.92 661.0 L577.02 710.3 L577.11 709.7 L577.21 677.5 L577.30 689.1 L577.40 695.1 L577.49 689.0 L577.58 682.3 L577.68 697.6 L577.77 700.5 L577.87 706.2 L577.96 703.7 L578.06 702.8 L578.15 676.2 L578.25 674.8 L578.34 684.5 L578.43 699.7 L578.53 677.6 L578.62 713.4 L578.72 685.5 L578.81 682.5 L578.91 700.0 L579.00 706.2 L579.09 685.0 L579.19 701.9 L579.28 704.4 L579.38 692.5 L579.47 707.6 L579.57 694.1 L579.66 665.0 L579.76 698.3 L579.85 679.8 L579.94 706.8 L580.04 737.5 L580.13 696.1 L580.23 694.7 L580.32 682.0 L580.42 663.8 L580.51 694.2 L580.61 674.5 L580.70 687.7 L580.79 682.4 L580.89 698.9 L580.98 702.2 L581.08 695.3 L581.17 703.2 L581.27 709.2 L581.36 707.1 L581.45 692.5 L581.55 690.2 L581.64 667.9 L581.74 669.1 L581.83 685.7 L581.93 699.6 L582.02 684.4 L582.12 681.5 L582.21 695.4 L582.30 704.4 L582.40 717.3 L582.49 693.3 L582.59 662.2 L582.68 695.7 L582.78 687.5 L582.87 729.7 L582.97 686.2 L583.06 682.3 L583.15 720.4 L583.25 695.0 L583.34 687.8 L583.44 694.2 L583.53 676.3 L583.63 698.1 L583.72 680.3 L583.82 668.8 L583.91 696.4 L584.00 692.6 L584.10 697.0 L584.19 682.5 L584.29 722.4 L584.38 713.1 L584.48 697.0 L584.57 681.0 L584.66 684.9 L584.76 704.3 L584.85 671.0 L584.95 691.5 L585.04 701.6 L585.14 685.8 L585.23 675.2 L585.33 694.0 L585.42 713.9 L585.51 700.7 L585.61 691.8 L585.70 680.2 L585.80 713.1 L585.89 689.6 L585.99 709.5 L586.08 692.2 L586.18 711.5 L586.27 699.6 L586.36 714.2 L586.46 706.7 L586.55 715.2 L586.65 720.4 L586.74 676.5 L586.84 677.2 L586.93 686.8 L587.02 698.3 L587.12 673.2 L587.21 697.3 L587.31 687.6 L587.40 701.2 L587.50 718.9 L587.59 673.1 L587.69 695.4 L587.78 695.6 L587.87 691.7 L587.97 709.4 L588.06 708.3 L588.16 682.9 L588.25 717.3 L588.35 678.0 L588.44 689.8 L588.54 677.3 L588.63 683.1 L588.72 685.4 L588.82 669.7 L588.91 694.7 L589.01 695.1 L589.10 678.2 L589.20 702.8 L589.29 678.1 L589.39 684.3 L589.48 700.7 L589.57 711.3 L589.67 721.6 L589.76 686.9 L589.86 714.4 L589.95 710.5 L590.05 682.1 L590.14 687.5 L590.23 691.2 L590.33 693.0 L590.42 699.3 L590.52 706.9 L590.61 704.5 L590.71 686.1 L590.80 679.6 L590.90 678.2 L590.99 695.0 L591.08 725.4 L591.18 687.6 L591.27 696.6 L591.37 731.5 L591.46 675.6 L591.56 691.6 L591.65 695.4 L591.75 674.4 L591.84 693.1 L591.93 691.5 L592.03 693.2 L592.12 694.4 L592.22 686.9 L592.31 690.0 L592.41 662.9 L592.50 692.8 L592.59 701.8 L592.69 703.0 L592.78 689.5 L592.88 693.1 L592.97 691.4 L593.07 697.5 L593.16 697.3 L593.26 684.4 L593.35 676.1 L593.44 690.1 L593.54 696.4 L593.63 710.9 L593.73 710.9 L593.82 733.9 L593.92 698.5 L594.01 696.5 L594.11 710.5 L594.20 697.0 L594.29 722.2 L594.39 711.9 L594.48 706.5 L594.58 687.5 L594.67 704.1 L594.77 708.8 L594.86 692.1 L594.96 697.3 L595.05 683.3 L595.14 691.6 L595.24 693.2 L595.33 698.8 L595.43 668.4 L595.52 706.4 L595.62 717.4 L595.71 684.1 L595.80 703.1 L595.90 696.0 L595.99 688.1 L596.09 682.7 L596.18 736.7 L596.28 711.2 L596.37 680.0 L596.47 720.3 L596.56 690.4 L596.65 702.0 L596.75 709.3 L596.84 698.9 L596.94 720.4 L597.03 691.6 L597.13 681.0 L597.22 716.8 L597.32 706.5 L597.41 764.7 L597.50 692.2 L597.60 701.8 L597.69 677.7 L597.79 720.5 L597.88 701.3 L597.98 689.5 L598.07 701.9 L598.16 686.6 L598.26 720.6 L598.35 729.3 L598.45 708.5 L598.54 681.2 L598.64 683.3 L598.73 708.0 L598.83 713.0 L598.92 698.5 L599.01 709.7 L599.11 705.8 L599.20 692.0 L599.30 704.3 L599.39 673.0 L599.49 697.1 L599.58 705.3 L599.68 713.5 L599.77 705.3 L599.86 683.0 L599.96 690.7 L600.05 678.6 L600.15 680.3 L600.24 690.7 L600.34 708.0 L600.43 700.5 L600.53 697.5 L600.62 721.2 L600.71 694.0 L600.81 712.8 L600.90 699.8 L601.00 705.7 L601.09 690.6 L601.19 663.5 L601.28 715.1 L601.37 699.0 L601.47 670.6 L601.56 711.5 L601.66 702.6 L601.75 700.3 L601.85 694.5 L601.94 708.1 L602.04 694.7 L602.13 731.7 L602.22 664.5 L602.32 700.0 L602.41 706.9 L602.51 697.2 L602.60 735.0 L602.70 694.4 L602.79 677.6 L602.89 699.5 L602.98 699.6 L603.07 711.9 L603.17 697.2 L603.26 716.3 L603.36 677.9 L603.45 705.5 L603.55 705.5 L603.64 676.4 L603.73 698.9 L603.83 705.0 L603.92 676.5 L604.02 696.7 L604.11 717.9 L604.21 707.1 L604.30 723.6 L604.40 696.9 L604.49 679.6 L604.58 705.7 L604.68 694.3 L604.77 743.9 L604.87 691.7 L604.96 698.4 L605.06 688.7 L605.15 696.5 L605.25 706.8 L605.34 684.9 L605.43 690.3 L605.53 717.6 L605.62 689.5 L605.72 735.9 L605.81 695.8 L605.91 699.0 L606.00 727.0 L606.10 671.0 L606.19 723.8 L606.28 705.7 L606.38 704.8 L606.47 711.3 L606.57 699.9 L606.66 721.9 L606.76 705.2 L606.85 693.6 L606.94 691.3 L607.04 687.9 L607.13 714.4 L607.23 708.5 L607.32 694.7 L607.42 708.2 L607.51 696.9 L607.61 711.3 L607.70 691.8 L607.79 699.0 L607.89 691.8 L607.98 699.4 L608.08 710.7 L608.17 716.7 L608.27 699.2 L608.36 708.3 L608.46 734.3 L608.55 707.4 L608.64 689.0 L608.74 682.8 L608.83 689.4 L608.93 681.1 L609.02 705.0 L609.12 702.0 L609.21 713.0 L609.30 710.6 L609.40 677.7 L609.49 693.9 L609.59 691.0 L609.68 664.6 L609.78 673.4 L609.87 711.9 L609.97 686.5 L610.06 710.4 L610.15 686.3 L610.25 725.9 L610.34 713.0 L610.44 712.7 L610.53 672.4 L610.63 724.6 L610.72 684.8 L610.82 685.3 L610.91 698.5 L611.00 688.7 L611.10 665.1 L611.19 696.7 L611.29 704.0 L611.38 681.5 L611.48 689.4 L611.57 716.2 L611.66 697.7 L611.76 696.4 L611.85 716.2 L611.95 713.5 L612.04 709.6 L612.14 717.1 L612.23 693.3 L612.33 696.3 L612.42 731.3 L612.51 706.4 L612.61 732.0 L612.70 719.4 L612.80 704.6 L612.89 696.7 L612.99 724.4 L613.08 705.1 L613.18 733.8 L613.27 690.5 L613.36 711.2 L613.46 721.2 L613.55 726.8 L613.65 724.2 L613.74 683.5 L613.84 713.1 L613.93 709.4 L614.03 707.0 L614.12 722.5 L614.21 691.0 L614.31 736.6 L614.40 694.1 L614.50 712.4 L614.59 701.3 L614.69 697.8 L614.78 761.4 L614.87 719.2 L614.97 693.5 L615.06 702.8 L615.16 704.3 L615.25 706.1 L615.35 686.6 L615.44 695.6 L615.54 684.5 L615.63 689.4 L615.72 729.9 L615.82 703.7 L615.91 725.7 L616.01 714.9 L616.10 725.8 L616.20 734.4 L616.29 674.7 L616.39 715.3 L616.48 700.1 L616.57 717.5 L616.67 696.6 L616.76 679.4 L616.86 722.8 L616.95 703.4 L617.05 713.3 L617.14 728.8 L617.23 715.1 L617.33 702.2 L617.42 730.8 L617.52 684.7 L617.61 702.8 L617.71 725.8 L617.80 693.3 L617.90 702.7 L617.99 702.8 L618.08 718.7 L618.18 704.8 L618.27 675.1 L618.37 681.7 L618.46 684.8 L618.56 693.2 L618.65 708.2 L618.75 702.6 L618.84 700.5 L618.93 719.5 L619.03 707.5 L619.12 714.8 L619.22 687.0 L619.31 707.9 L619.41 690.8 L619.50 705.1 L619.60 693.1 L619.69 695.4 L619.78 692.3 L619.88 693.0 L619.97 716.0 L620.07 721.7 L620.16 703.3 L620.26 679.5 L620.35 714.4 L620.44 715.7 L620.54 670.8 L620.63 724.4 L620.73 710.7 L620.82 708.4 L620.92 712.2 L621.01 711.8 L621.11 687.6 L621.20 699.9 L621.29 718.0 L621.39 725.9 L621.48 691.6 L621.58 700.4 L621.67 700.6 L621.77 691.2 L621.86 698.4 L621.96 703.2 L622.05 696.9 L622.14 712.6 L622.24 715.4 L622.33 721.7 L622.43 689.2 L622.52 711.9 L622.62 700.3 L622.71 687.2 L622.80 677.4 L622.90 707.7 L622.99 700.4 L623.09 701.4 L623.18 721.0 L623.28 709.4 L623.37 664.4 L623.47 703.6 L623.56 678.0 L623.65 692.0 L623.75 678.1 L623.84 723.0 L623.94 699.5 L624.03 720.0 L624.13 682.7 L624.22 692.8 L624.32 695.9 L624.41 690.6 L624.50 713.8 L624.60 713.8 L624.69 702.7 L624.79 723.5 L624.88 719.5 L624.98 704.4 L625.07 733.7 L625.17 692.4 L625.26 691.9 L625.35 703.8 L625.45 698.8 L625.54 728.1 L625.64 700.3 L625.73 692.3 L625.83 695.7 L625.92 689.9 L626.01 703.7 L626.11 674.9 L626.20 696.7 L626.30 691.7 L626.39 687.6 L626.49 713.5 L626.58 718.5 L626.68 691.8 L626.77 720.2 L626.86 711.1 L626.96 721.1 L627.05 718.0 L627.15 716.4 L627.24 720.1 L627.34 717.3 L627.43 676.6 L627.53 695.1 L627.62 689.3 L627.71 729.8 L627.81 736.3 L627.90 718.8 L628.00 688.1 L628.09 686.3 L628.19 730.4 L628.28 727.2 L628.37 693.6 L628.47 699.3 L628.56 696.7 L628.66 693.5 L628.75 716.9 L628.85 701.1 L628.94 706.7 L629.04 745.6 L629.13 707.1 L629.22 729.2 L629.32 685.1 L629.41 685.7 L629.51 689.2 L629.60 707.4 L629.70 716.0 L629.79 668.6 L629.89 710.2 L629.98 695.5 L630.07 691.8 L630.17 704.7 L630.26 730.7 L630.36 695.8 L630.45 716.8 L630.55 724.6 L630.64 703.4 L630.74 725.5 L630.83 704.1 L630.92 693.9 L631.02 729.4 L631.11 694.6 L631.21 718.5 L631.30 740.2 L631.40 709.7 L631.49 705.1 L631.58 685.6 L631.68 705.3 L631.77 713.7 L631.87 726.3 L631.96 682.9 L632.06 682.6 L632.15 702.4 L632.25 673.6 L632.34 708.0 L632.43 692.4 L632.53 720.8 L632.62 716.5 L632.72 702.5 L632.81 718.5 L632.91 693.8 L633.00 714.9 L633.10 709.7 L633.19 703.9 L633.28 706.2 L633.38 705.9 L633.47 690.9 L633.57 750.8 L633.66 728.0 L633.76 683.8 L633.85 699.7 L633.94 697.6 L634.04 697.4 L634.13 689.1 L634.23 692.4 L634.32 723.4 L634.42 689.9 L634.51 717.7 L634.61 696.6 L634.70 699.0 L634.79 723.4 L634.89 701.7 L634.98 705.4 L635.08 711.2 L635.17 673.6 L635.27 699.6 L635.36 707.0 L635.46 677.5 L635.55 702.2 L635.64 703.6 L635.74 729.7 L635.83 693.4 L635.93 687.8 L636.02 675.1 L636.12 715.8 L636.21 687.1 L636.31 682.1 L636.40 691.6 L636.49 701.6 L636.59 724.6 L636.68 699.0 L636.78 709.3 L636.87 725.8 L636.97 693.2 L637.06 703.2 L637.15 704.8 L637.25 674.0 L637.34 708.9 L637.44 730.4 L637.53 732.4 L637.63 694.2 L637.72 704.5 L637.82 712.0 L637.91 731.0 L638.00 713.0 L638.10 717.1 L638.19 686.7 L638.29 713.5 L638.38 713.7 L638.48 702.2 L638.57 712.5 L638.67 697.0 L638.76 749.1 L638.85 718.8 L638.95 684.7 L639.04 698.7 L639.14 716.7 L639.23 704.2 L639.33 709.6 L639.42 706.7 L639.51 681.6 L639.61 707.3 L639.70 698.6 L639.80 713.4 L639.89 711.8 L639.99 723.0 L640.08 710.6 L640.18 714.5 L640.27 705.8 L640.36 700.7 L640.46 700.1 L640.55 692.3 L640.65 704.4 L640.74 683.1 L640.84 692.9 L640.93 682.1 L641.03 702.0 L641.12 698.2 L641.21 699.9 L641.31 724.2 L641.40 701.5 L641.50 703.6 L641.59 721.4 L641.69 714.8 L641.78 709.5 L641.88 669.5 L641.97 696.8 L642.06 675.8 L642.16 688.0 L642.25 685.9 L642.35 689.7 L642.44 721.0 L642.54 683.5 L642.63 714.8 L642.72 694.7 L642.82 714.6 L642.91 678.3 L643.01 684.1 L643.10 675.3 L643.20 693.9 L643.29 700.5 L643.39 689.9 L643.48 667.5 L643.57 693.3 L643.67 699.9 L643.76 717.5 L643.86 710.8 L643.95 701.6 L644.05 691.1 L644.14 691.8 L644.24 701.7 L644.33 698.5 L644.42 679.1 L644.52 674.8 L644.61 683.7 L644.71 679.1 L644.80 683.0 L644.90 675.0 L644.99 717.5 L645.08 707.2 L645.18 696.8 L645.27 694.7 L645.37 681.6 L645.46 725.4 L645.56 698.0 L645.65 696.3 L645.75 709.3 L645.84 701.9 L645.93 686.1 L646.03 693.5 L646.12 701.6 L646.22 697.0 L646.31 701.5 L646.41 686.9 L646.50 701.1 L646.60 716.2 L646.69 707.4 L646.78 700.1 L646.88 715.1 L646.97 702.4 L647.07 688.0 L647.16 713.5 L647.26 704.4 L647.35 698.1 L647.44 704.4 L647.54 687.9 L647.63 716.5 L647.73 687.6 L647.82 681.2 L647.92 676.5 L648.01 700.2 L648.11 710.4 L648.20 721.0 L648.29 689.8 L648.39 687.9 L648.48 695.2 L648.58 694.4 L648.67 689.9 L648.77 704.1 L648.86 719.4 L648.96 718.8 L649.05 710.0 L649.14 711.7 L649.24 721.0 L649.33 707.9 L649.43 713.3 L649.52 689.9 L649.62 700.0 L649.71 688.0 L649.81 717.2 L649.90 714.1 L649.99 720.9 L650.09 694.9 L650.18 659.8 L650.28 695.8 L650.37 704.8 L650.47 695.8 L650.56 699.2 L650.65 685.4 L650.75 698.8 L650.84 710.9 L650.94 725.0 L651.03 693.7 L651.13 684.8 L651.22 693.1 L651.32 710.9 L651.41 704.6 L651.50 703.0 L651.60 690.5 L651.69 699.4 L651.79 682.3 L651.88 701.3 L651.98 707.4 L652.07 672.9 L652.17 712.3 L652.26 709.3 L652.35 669.6 L652.45 694.5 L652.54 673.7 L652.64 732.9 L652.73 720.0 L652.83 698.3 L652.92 696.9 L653.01 691.5 L653.11 736.4 L653.20 710.7 L653.30 692.1 L653.39 770.0 L653.49 708.6 L653.58 665.9 L653.68 689.3 L653.77 683.9 L653.86 711.4 L653.96 689.6 L654.05 710.0 L654.15 714.8 L654.24 680.4 L654.34 707.8 L654.43 705.1 L654.53 688.4 L654.62 697.7 L654.71 715.5 L654.81 694.8 L654.90 694.2 L655.00 676.9 L655.09 713.5 L655.19 688.0 L655.28 688.0 L655.38 703.9 L655.47 700.2 L655.56 697.6 L655.66 712.1 L655.75 716.1 L655.85 688.0 L655.94 712.6 L656.04 711.3 L656.13 686.8 L656.22 705.3 L656.32 703.4 L656.41 717.2 L656.51 714.9 L656.60 717.0 L656.70 716.9 L656.79 680.6 L656.89 711.2 L656.98 730.0 L657.07 713.3 L657.17 688.2 L657.26 714.1 L657.36 698.7 L657.45 711.1 L657.55 722.4 L657.64 705.8 L657.74 712.4 L657.83 695.8 L657.92 688.4 L658.02 699.1 L658.11 662.9 L658.21 712.8 L658.30 679.6 L658.40 692.3 L658.49 678.8 L658.58 690.8 L658.68 729.2 L658.77 702.3 L658.87 683.8 L658.96 697.8 L659.06 716.4 L659.15 705.7 L659.25 693.6 L659.34 681.1 L659.43 706.4 L659.53 696.7 L659.62 711.0 L659.72 714.8 L659.81 705.3 L659.91 679.5 L660.00 688.2 L660.10 702.0 L660.19 698.5 L660.28 690.7 L660.38 699.9 L660.47 704.2 L660.57 702.3 L660.66 689.3 L660.76 737.9 L660.85 687.4 L660.95 662.7 L661.04 701.4 L661.13 704.1 L661.23 690.1 L661.32 711.0 L661.42 705.7 L661.51 693.9 L661.61 699.7 L661.70 707.5 L661.79 702.8 L661.89 711.0 L661.98 687.1 L662.08 692.1 L662.17 686.3 L662.27 667.1 L662.36 680.6 L662.46 690.9 L662.55 715.2 L662.64 666.5 L662.74 694.0 L662.83 700.2 L662.93 679.2 L663.02 691.0 L663.12 700.2 L663.21 736.3 L663.31 669.4 L663.40 694.2 L663.49 690.8 L663.59 707.9 L663.68 702.2 L663.78 683.3 L663.87 696.7 L663.97 693.7 L664.06 680.2 L664.15 699.7 L664.25 673.8 L664.34 704.0 L664.44 705.5 L664.53 706.1 L664.63 715.6 L664.72 687.4 L664.82 694.7 L664.91 676.2 L665.00 705.1 L665.10 684.7 L665.19 676.7 L665.29 698.2 L665.38 697.5 L665.48 729.4 L665.57 680.6 L665.67 696.9 L665.76 685.7 L665.85 702.4 L665.95 690.5 L666.04 711.0 L666.14 684.9 L666.23 693.8 L666.33 700.3 L666.42 689.2 L666.52 719.8 L666.61 692.9 L666.70 701.2 L666.80 675.3 L666.89 684.6 L666.99 697.8 L667.08 699.3 L667.18 659.2 L667.27 708.9 L667.36 669.1 L667.46 682.5 L667.55 684.5 L667.65 721.5 L667.74 683.8 L667.84 702.2 L667.93 707.7 L668.03 687.1 L668.12 705.0 L668.21 673.7 L668.31 708.2 L668.40 687.2 L668.50 689.2 L668.59 729.8 L668.69 708.5 L668.78 704.7 L668.88 702.7 L668.97 703.7 L669.06 717.8 L669.16 689.7 L669.25 700.2 L669.35 722.5 L669.44 706.5 L669.54 691.7 L669.63 696.3 L669.72 704.8 L669.82 705.0 L669.91 715.8 L670.01 710.0 L670.10 693.8 L670.20 707.9 L670.29 688.0 L670.39 699.9 L670.48 688.0 L670.57 703.3 L670.67 720.9 L670.76 713.3 L670.86 699.1 L670.95 689.8 L671.05 689.5 L671.14 687.9 L671.24 685.5 L671.33 689.9 L671.42 688.8 L671.52 697.9 L671.61 687.1 L671.71 696.3 L671.80 695.7 L671.90 692.1 L671.99 664.0 L672.09 714.8 L672.18 701.2 L672.27 698.2 L672.37 688.7 L672.46 694.3 L672.56 672.0 L672.65 715.8 L672.75 669.5 L672.84 711.5 L672.93 704.1 L673.03 689.1 L673.12 693.1 L673.22 694.5 L673.31 708.7 L673.41 688.8 L673.50 680.9 L673.60 688.5 L673.69 711.3 L673.78 704.2 L673.88 675.2 L673.97 667.7 L674.07 681.2 L674.16 679.3 L674.26 689.7 L674.35 665.9 L674.45 701.8 L674.54 698.5 L674.63 704.6 L674.73 672.4 L674.82 701.1 L674.92 686.9 L675.01 712.8 L675.11 713.9 L675.20 680.2 L675.29 684.0 L675.39 682.1 L675.48 690.9 L675.58 697.7 L675.67 699.2 L675.77 708.8 L675.86 684.8 L675.96 675.1 L676.05 695.7 L676.14 711.5 L676.24 696.8 L676.33 707.0 L676.43 709.2 L676.52 695.0 L676.62 703.9 L676.71 710.7 L676.81 672.6 L676.90 669.9 L676.99 691.5 L677.09 673.2 L677.18 699.7 L677.28 693.9 L677.37 675.5 L677.47 689.4 L677.56 682.2 L677.65 731.1 L677.75 689.5 L677.84 699.3 L677.94 694.9 L678.03 714.3 L678.13 704.1 L678.22 685.3 L678.32 685.5 L678.41 682.9 L678.50 681.8 L678.60 678.4 L678.69 688.2 L678.79 696.7 L678.88 701.3 L678.98 699.2 L679.07 706.7 L679.17 707.0 L679.26 694.6 L679.35 724.6 L679.45 710.2 L679.54 704.4 L679.64 686.1 L679.73 678.6 L679.83 688.8 L679.92 693.9 L680.02 700.0 L680.11 678.0 L680.20 683.5 L680.30 702.2 L680.39 693.5 L680.49 687.5 L680.58 673.1 L680.68 697.6 L680.77 672.4 L680.86 676.9 L680.96 698.7 L681.05 695.5 L681.15 705.5 L681.24 705.1 L681.34 688.4 L681.43 673.1 L681.53 672.9 L681.62 689.9 L681.71 697.5 L681.81 701.2 L681.90 686.4 L682.00 698.6 L682.09 682.4 L682.19 693.8 L682.28 688.1 L682.38 699.2 L682.47 664.9 L682.56 690.2 L682.66 706.1 L682.75 704.0 L682.85 684.2 L682.94 681.6 L683.04 707.4 L683.13 690.8 L683.22 717.6 L683.32 689.3 L683.41 697.2 L683.51 683.6 L683.60 667.0 L683.70 697.7 L683.79 697.5 L683.89 694.8 L683.98 690.5 L684.07 675.2 L684.17 686.9 L684.26 721.8 L684.36 685.4 L684.45 685.8 L684.55 682.6 L684.64 687.5 L684.74 692.9 L684.83 684.2 L684.92 700.5 L685.02 714.2 L685.11 695.8 L685.21 706.3 L685.30 668.3 L685.40 692.9 L685.49 670.0 L685.59 709.8 L685.68 708.0 L685.77 685.6 L685.87 714.9 L685.96 700.3 L686.06 718.1 L686.15 685.9 L686.25 681.3 L686.34 693.6 L686.43 715.9 L686.53 685.1 L686.62 677.2 L686.72 750.4 L686.81 705.3 L686.91 697.1 L687.00 678.5 L687.10 681.4 L687.19 674.6 L687.28 666.2 L687.38 688.7 L687.47 695.4 L687.57 700.6 L687.66 692.0 L687.76 695.0 L687.85 699.1 L687.95 687.2 L688.04 665.2 L688.13 702.7 L688.23 698.5 L688.32 696.8 L688.42 706.0 L688.51 677.5 L688.61 694.1 L688.70 683.8 L688.79 714.0 L688.89 684.3 L688.98 693.8 L689.08 711.9 L689.17 680.2 L689.27 679.1 L689.36 688.9 L689.46 685.6 L689.55 705.0 L689.64 677.9 L689.74 695.2 L689.83 685.4 L689.93 679.0 L690.02 685.3 L690.12 701.9 L690.21 688.1 L690.31 689.9 L690.40 675.7 L690.49 702.1 L690.59 678.7 L690.68 685.3 L690.78 691.0 L690.87 666.2 L690.97 680.7 L691.06 699.2 L691.16 687.6 L691.25 702.0 L691.34 707.7 L691.44 698.6 L691.53 698.5 L691.63 668.4 L691.72 680.8 L691.82 724.9 L691.91 693.9 L692.00 701.3 L692.10 693.7 L692.19 689.3 L692.29 691.2 L692.38 685.9 L692.48 702.5 L692.57 672.4 L692.67 693.5 L692.76 682.6 L692.85 693.1 L692.95 684.9 L693.04 731.0 L693.14 676.5 L693.23 687.7 L693.33 697.2 L693.42 686.5 L693.52 685.2 L693.61 712.8 L693.70 702.0 L693.80 705.4 L693.89 680.3 L693.99 689.2 L694.08 700.8 L694.18 701.4 L694.27 692.3 L694.36 723.2 L694.46 694.0 L694.55 670.3 L694.65 710.9 L694.74 708.1 L694.84 707.2 L694.93 685.6 L695.03 702.0 L695.12 666.3 L695.21 694.4 L695.31 710.2 L695.40 706.8 L695.50 682.3 L695.59 676.9 L695.69 689.3 L695.78 673.7 L695.88 674.6 L695.97 686.7 L696.06 690.7 L696.16 699.1 L696.25 688.5 L696.35 696.2 L696.44 671.2 L696.54 681.1 L696.63 693.7 L696.73 696.7 L696.82 685.7 L696.91 677.0 L697.01 687.5 L697.10 677.3 L697.20 697.4 L697.29 688.2 L697.39 682.3 L697.48 688.5 L697.57 685.8 L697.67 677.2 L697.76 691.1 L697.86 677.3 L697.95 698.0 L698.05 723.0 L698.14 696.7 L698.24 696.0 L698.33 682.6 L698.42 673.3 L698.52 692.4 L698.61 689.3 L698.71 672.4 L698.80 701.5 L698.90 678.0 L698.99 706.4 L699.09 716.2 L699.18 685.6 L699.27 694.3 L699.37 697.4 L699.46 723.3 L699.56 685.4 L699.65 696.8 L699.75 706.6 L699.84 692.1 L699.93 706.9 L700.03 701.2 L700.12 740.7 L700.22 715.0 L700.31 692.2 L700.41 673.1 L700.50 701.8 L700.60 707.1 L700.69 666.9 L700.78 709.7 L700.88 717.2 L700.97 705.9 L701.07 681.0 L701.16 701.0 L701.26 670.2 L701.35 664.4 L701.45 676.5 L701.54 685.9 L701.63 695.7 L701.73 679.9 L701.82 663.1 L701.92 696.8 L702.01 706.2 L702.11 666.4 L702.20 693.6 L702.29 680.5 L702.39 687.9 L702.48 686.8 L702.58 694.3 L702.67 692.3 L702.77 713.4 L702.86 698.2 L702.96 702.3 L703.05 674.5 L703.14 694.7 L703.24 689.0 L703.33 713.4 L703.43 689.4 L703.52 669.5 L703.62 688.1 L703.71 678.4 L703.81 694.7 L703.90 698.8 L703.99 677.2 L704.09 696.6 L704.18 704.8 L704.28 691.8 L704.37 695.7 L704.47 676.0 L704.56 680.5 L704.66 710.2 L704.75 683.4 L704.84 708.8 L704.94 688.0 L705.03 682.6 L705.13 697.6 L705.22 697.7 L705.32 680.0 L705.41 694.6 L705.50 705.9 L705.60 668.2 L705.69 678.4 L705.79 684.0 L705.88 685.7 L705.98 676.5 L706.07 689.2 L706.17 679.6 L706.26 685.9 L706.35 699.6 L706.45 675.7 L706.54 687.9 L706.64 701.3 L706.73 696.3 L706.83 723.1 L706.92 713.1 L707.02 710.2 L707.11 680.8 L707.20 681.3 L707.30 674.7 L707.39 684.8 L707.49 667.1 L707.58 696.9 L707.68 701.1 L707.77 703.5 L707.86 688.2 L707.96 699.9 L708.05 703.6 L708.15 698.4 L708.24 686.6 L708.34 708.9 L708.43 691.4 L708.53 691.6 L708.62 668.5 L708.71 689.4 L708.81 709.1 L708.90 688.0 L709.00 688.9 L709.09 708.8 L709.19 733.3 L709.28 681.3 L709.38 694.1 L709.47 701.5 L709.56 694.0 L709.66 674.1 L709.75 667.8 L709.85 698.1 L709.94 670.8 L710.04 692.4 L710.13 693.0 L710.23 693.0 L710.32 692.6 L710.41 693.7 L710.51 701.2 L710.60 691.6 L710.70 705.7 L710.79 684.1 L710.89 700.7 L710.98 685.1 L711.07 693.5 L711.17 716.4 L711.26 675.7 L711.36 687.9 L711.45 692.9 L711.55 696.6 L711.64 667.5 L711.74 730.7 L711.83 678.9 L711.92 689.3 L712.02 713.2 L712.11 682.2 L712.21 713.0 L712.30 686.0 L712.40 686.5 L712.49 689.0 L712.59 702.4 L712.68 673.1 L712.77 668.1 L712.87 704.8 L712.96 697.5 L713.06 669.9 L713.15 698.2 L713.25 679.1 L713.34 705.7 L713.43 701.0 L713.53 688.8 L713.62 686.1 L713.72 712.2 L713.81 706.8 L713.91 685.4 L714.00 674.9 L714.10 685.3 L714.19 687.5 L714.28 686.4 L714.38 709.2 L714.47 687.0 L714.57 680.1 L714.66 684.3 L714.76 708.5 L714.85 705.6 L714.95 677.1 L715.04 711.5 L715.13 707.2 L715.23 670.8 L715.32 704.9 L715.42 702.6 L715.51 683.8 L715.61 681.8 L715.70 694.9 L715.80 712.3 L715.89 699.7 L715.98 690.4 L716.08 705.3 L716.17 706.0 L716.27 721.0 L716.36 685.3 L716.46 682.0 L716.55 680.4 L716.64 706.5 L716.74 686.1 L716.83 683.2 L716.93 683.4 L717.02 708.6 L717.12 714.1 L717.21 703.8 L717.31 724.9 L717.40 695.4" fill="none" stroke="#f9aca4" stroke-width="0.8"/>
<circle cx="415.3" cy="679.9" r="3.5" fill="#fff" stroke="#f9c0b8" stroke-width="0.8"/>
<circle cx="417.7" cy="690.0" r="3.5" fill="#fff" stroke="#f9c0b8" stroke-width="0.8"/>
<circle cx="420.2" cy="701.7" r="3.5" fill="#fff" stroke="#f9c0b8" stroke-width="0.8"/>
<circle cx="422.6" cy="711.2" r="3.5" fill="#fff" stroke="#f9c0b8" stroke-width="0.8"/>
<circle cx="425.0" cy="719.6" r="3.5" fill="#fff" stroke="#f9c0b8" stroke-width="0.8"/>
<circle cx="427.5" cy="693.1" r="3.5" fill="#fff" stroke="#f9c0b8" stroke-width="0.8"/>
<circle cx="429.9" cy="704.3" r="3.5" fill="#fff" stroke="#f9c0b8" stroke-width="0.8"/>
<circle cx="432.4" cy="705.0" r="3.5" fill="#fff" stroke="#f9c0b8" stroke-width="0.8"/>
<circle cx="434.8" cy="696.0" r="3.5" fill="#fff" stroke="#f9c0b8" stroke-width="0.8"/>
<circle cx="437.2" cy="693.6" r="3.5" fill="#fff" stroke="#f9c0b8" stroke-width="0.8"/>
<circle cx="439.7" cy="724.2" r="3.5" fill="#fff" stroke="#f9c0b8" stroke-width="0.8"/>
<circle cx="442.1" cy="680.3" r="3.5" fill="#fff" stroke="#f9c0b8" stroke-width="0.8"/>
<circle cx="444.5" cy="720.9" r="3.5" fill="#fff" stroke="#f9c0b8" stroke-width="0.8"/>
<circle cx="447.0" cy="667.8" r="3.5" fill="#fff" stroke="#f9c0b8" stroke-width="0.8"/>
<circle cx="449.4" cy="685.4" r="3.5" fill="#fff" stroke="#f9c0b8" stroke-width="0.8"/>
<circle cx="451.8" cy="700.3" r="3.5" fill="#fff" stroke="#f9c0b8" stroke-width="0.8"/>
<circle cx="454.3" cy="675.7" r="3.5" fill="#fff" stroke="#f9c0b8" stroke-width="0.8"/>
<circle cx="456.7" cy="694.2" r="3.5" fill="#fff" stroke="#f9c0b8" stroke-width="0.8"/>
<circle cx="459.2" cy="685.4" r="3.5" fill="#fff" stroke="#f9c0b8" stroke-width="0.8"/>
<circle cx="461.6" cy="693.8" r="3.5" fill="#fff" stroke="#f9c0b8" stroke-width="0.8"/>
<circle cx="464.0" cy="680.7" r="3.5" fill="#fff" stroke="#f9c0b8" stroke-width="0.8"/>
<circle cx="466.5" cy="681.6" r="3.5" fill="#fff" stroke="#f9c0b8" stroke-width="0.8"/>
<circle cx="468.9" cy="709.1" r="3.5" fill="#fff" stroke="#f9c0b8" stroke-width="0.8"/>
<circle cx="471.3" cy="705.5" r="3.5" fill="#fff" stroke="#f9c0b8" stroke-width="0.8"/>
<circle cx="473.8" cy="692.9" r="3.5" fill="#fff" stroke="#f9c0b8" stroke-width="0.8"/>
<circle cx="476.2" cy="700.9" r="3.5" fill="#fff" stroke="#f9c0b8" stroke-width="0.8"/>
<circle cx="478.6" cy="729.8" r="3.5" fill="#fff" stroke="#f9c0b8" stroke-width="0.8"/>
<circle cx="481.1" cy="671.1" r="3.5" fill="#fff" stroke="#f9c0b8" stroke-width="0.8"/>
<circle cx="483.5" cy="729.2" r="3.5" fill="#fff" stroke="#f9c0b8" stroke-width="0.8"/>
<circle cx="486.0" cy="728.3" r="3.5" fill="#fff" stroke="#f9c0b8" stroke-width="0.8"/>
<circle cx="488.4" cy="717.6" r="3.5" fill="#fff" stroke="#f9c0b8" stroke-width="0.8"/>
<circle cx="490.8" cy="692.6" r="3.5" fill="#fff" stroke="#f9c0b8" stroke-width="0.8"/>
<circle cx="493.3" cy="676.0" r="3.5" fill="#fff" stroke="#f9c0b8" stroke-width="0.8"/>
<circle cx="495.7" cy="704.0" r="3.5" fill="#fff" stroke="#f9c0b8" stroke-width="0.8"/>
<circle cx="498.1" cy="706.3" r="3.5" fill="#fff" stroke="#f9c0b8" stroke-width="0.8"/>
<circle cx="500.6" cy="698.7" r="3.5" fill="#fff" stroke="#f9c0b8" stroke-width="0.8"/>
<circle cx="503.0" cy="706.2" r="3.5" fill="#fff" stroke="#f9c0b8" stroke-width="0.8"/>
<circle cx="505.4" cy="700.0" r="3.5" fill="#fff" stroke="#f9c0b8" stroke-width="0.8"/>
<circle cx="507.9" cy="716.7" r="3.5" fill="#fff" stroke="#f9c0b8" stroke-width="0.8"/>
<circle cx="510.3" cy="694.9" r="3.5" fill="#fff" stroke="#f9c0b8" stroke-width="0.8"/>
<circle cx="512.8" cy="695.4" r="3.5" fill="#fff" stroke="#f9c0b8" stroke-width="0.8"/>
<circle cx="515.2" cy="734.0" r="3.5" fill="#fff" stroke="#f9c0b8" stroke-width="0.8"/>
<circle cx="517.6" cy="701.8" r="3.5" fill="#fff" stroke="#f9c0b8" stroke-width="0.8"/>
<circle cx="520.1" cy="697.8" r="3.5" fill="#fff" stroke="#f9c0b8" stroke-width="0.8"/>
<circle cx="522.5" cy="692.0" r="3.5" fill="#fff" stroke="#f9c0b8" stroke-width="0.8"/>
<circle cx="524.9" cy="710.5" r="3.5" fill="#fff" stroke="#f9c0b8" stroke-width="0.8"/>
<circle cx="527.4" cy="717.1" r="3.5" fill="#fff" stroke="#f9c0b8" stroke-width="0.8"/>
<circle cx="529.8" cy="711.5" r="3.5" fill="#fff" stroke="#f9c0b8" stroke-width="0.8"/>
<circle cx="532.2" cy="690.5" r="3.5" fill="#fff" stroke="#f9c0b8" stroke-width="0.8"/>
<circle cx="534.7" cy="709.2" r="3.5" fill="#fff" stroke="#f9c0b8" stroke-width="0.8"/>
<circle cx="537.1" cy="707.5" r="3.5" fill="#fff" stroke="#f9c0b8" stroke-width="0.8"/>
<circle cx="539.6" cy="680.9" r="3.5" fill="#fff" stroke="#f9c0b8" stroke-width="0.8"/>
<circle cx="542.0" cy="706.9" r="3.5" fill="#fff" stroke="#f9c0b8" stroke-width="0.8"/>
<circle cx="544.4" cy="708.0" r="3.5" fill="#fff" stroke="#f9c0b8" stroke-width="0.8"/>
<circle cx="546.9" cy="696.5" r="3.5" fill="#fff" stroke="#f9c0b8" stroke-width="0.8"/>
<circle cx="549.3" cy="692.1" r="3.5" fill="#fff" stroke="#f9c0b8" stroke-width="0.8"/>
<circle cx="551.7" cy="680.2" r="3.5" fill="#fff" stroke="#f9c0b8" stroke-width="0.8"/>
<circle cx="554.2" cy="706.1" r="3.5" fill="#fff" stroke="#f9c0b8" stroke-width="0.8"/>
<circle cx="556.6" cy="715.3" r="3.5" fill="#fff" stroke="#f9c0b8" stroke-width="0.8"/>
<circle cx="559.0" cy="695.2" r="3.5" fill="#fff" stroke="#f9c0b8" stroke-width="0.8"/>
<circle cx="561.5" cy="684.4" r="3.5" fill="#fff" stroke="#f9c0b8" stroke-width="0.8"/>
<circle cx="563.9" cy="713.4" r="3.5" fill="#fff" stroke="#f9c0b8" stroke-width="0.8"/>
<circle cx="566.4" cy="699.7" r="3.5" fill="#fff" stroke="#f9c0b8" stroke-width="0.8"/>
<circle cx="568.8" cy="688.7" r="3.5" fill="#fff" stroke="#f9c0b8" stroke-width="0.8"/>
<circle cx="571.2" cy="689.7" r="3.5" fill="#fff" stroke="#f9c0b8" stroke-width="0.8"/>
<circle cx="573.7" cy="691.8" r="3.5" fill="#fff" stroke="#f9c0b8" stroke-width="0.8"/>
<circle cx="576.1" cy="696.6" r="3.5" fill="#fff" stroke="#f9c0b8" stroke-width="0.8"/>
<circle cx="578.5" cy="704.2" r="3.5" fill="#fff" stroke="#f9c0b8" stroke-width="0.8"/>
<circle cx="581.0" cy="706.2" r="3.5" fill="#fff" stroke="#f9c0b8" stroke-width="0.8"/>
<circle cx="583.4" cy="677.8" r="3.5" fill="#fff" stroke="#f9c0b8" stroke-width="0.8"/>
<circle cx="585.8" cy="709.3" r="3.5" fill="#fff" stroke="#f9c0b8" stroke-width="0.8"/>
<circle cx="588.3" cy="677.5" r="3.5" fill="#fff" stroke="#f9c0b8" stroke-width="0.8"/>
<circle cx="590.7" cy="712.7" r="3.5" fill="#fff" stroke="#f9c0b8" stroke-width="0.8"/>
<circle cx="593.1" cy="655.3" r="3.5" fill="#fff" stroke="#f9c0b8" stroke-width="0.8"/>
<circle cx="595.6" cy="719.4" r="3.5" fill="#fff" stroke="#f9c0b8" stroke-width="0.8"/>
<circle cx="598.0" cy="674.0" r="3.5" fill="#fff" stroke="#f9c0b8" stroke-width="0.8"/>
<circle cx="600.5" cy="708.8" r="3.5" fill="#fff" stroke="#f9c0b8" stroke-width="0.8"/>
<circle cx="602.9" cy="698.5" r="3.5" fill="#fff" stroke="#f9c0b8" stroke-width="0.8"/>
<circle cx="605.3" cy="698.3" r="3.5" fill="#fff" stroke="#f9c0b8" stroke-width="0.8"/>
<circle cx="607.8" cy="706.8" r="3.5" fill="#fff" stroke="#f9c0b8" stroke-width="0.8"/>
<circle cx="610.2" cy="667.8" r="3.5" fill="#fff" stroke="#f9c0b8" stroke-width="0.8"/>
<circle cx="612.6" cy="697.5" r="3.5" fill="#fff" stroke="#f9c0b8" stroke-width="0.8"/>
<circle cx="615.1" cy="717.3" r="3.5" fill="#fff" stroke="#f9c0b8" stroke-width="0.8"/>
<circle cx="617.5" cy="690.7" r="3.5" fill="#fff" stroke="#f9c0b8" stroke-width="0.8"/>
<circle cx="619.9" cy="690.2" r="3.5" fill="#fff" stroke="#f9c0b8" stroke-width="0.8"/>
<circle cx="622.4" cy="716.0" r="3.5" fill="#fff" stroke="#f9c0b8" stroke-width="0.8"/>
<circle cx="624.8" cy="693.2" r="3.5" fill="#fff" stroke="#f9c0b8" stroke-width="0.8"/>
<circle cx="627.3" cy="699.8" r="3.5" fill="#fff" stroke="#f9c0b8" stroke-width="0.8"/>
<circle cx="629.7" cy="689.7" r="3.5" fill="#fff" stroke="#f9c0b8" stroke-width="0.8"/>
<circle cx="632.1" cy="691.3" r="3.5" fill="#fff" stroke="#f9c0b8" stroke-width="0.8"/>
<circle cx="634.6" cy="701.2" r="3.5" fill="#fff" stroke="#f9c0b8" stroke-width="0.8"/>
<circle cx="637.0" cy="706.7" r="3.5" fill="#fff" stroke="#f9c0b8" stroke-width="0.8"/>
<circle cx="639.4" cy="688.6" r="3.5" fill="#fff" stroke="#f9c0b8" stroke-width="0.8"/>
<circle cx="641.9" cy="696.7" r="3.5" fill="#fff" stroke="#f9c0b8" stroke-width="0.8"/>
<circle cx="644.3" cy="721.3" r="3.5" fill="#fff" stroke="#f9c0b8" stroke-width="0.8"/>
<circle cx="646.7" cy="708.1" r="3.5" fill="#fff" stroke="#f9c0b8" stroke-width="0.8"/>
<circle cx="649.2" cy="707.0" r="3.5" fill="#fff" stroke="#f9c0b8" stroke-width="0.8"/>
<circle cx="651.6" cy="703.7" r="3.5" fill="#fff" stroke="#f9c0b8" stroke-width="0.8"/>
<circle cx="654.1" cy="668.5" r="3.5" fill="#fff" stroke="#f9c0b8" stroke-width="0.8"/>
<circle cx="656.5" cy="704.6" r="3.5" fill="#fff" stroke="#f9c0b8" stroke-width="0.8"/>
<circle cx="658.9" cy="692.5" r="3.5" fill="#fff" stroke="#f9c0b8" stroke-width="0.8"/>
<circle cx="661.4" cy="675.9" r="3.5" fill="#fff" stroke="#f9c0b8" stroke-width="0.8"/>
<circle cx="663.8" cy="691.2" r="3.5" fill="#fff" stroke="#f9c0b8" stroke-width="0.8"/>
<circle cx="666.2" cy="691.7" r="3.5" fill="#fff" stroke="#f9c0b8" stroke-width="0.8"/>
<circle cx="668.7" cy="679.4" r="3.5" fill="#fff" stroke="#f9c0b8" stroke-width="0.8"/>
<circle cx="671.1" cy="694.0" r="3.5" fill="#fff" stroke="#f9c0b8" stroke-width="0.8"/>
<circle cx="673.5" cy="693.7" r="3.5" fill="#fff" stroke="#f9c0b8" stroke-width="0.8"/>
<circle cx="676.0" cy="686.3" r="3.5" fill="#fff" stroke="#f9c0b8" stroke-width="0.8"/>
<circle cx="678.4" cy="689.7" r="3.5" fill="#fff" stroke="#f9c0b8" stroke-width="0.8"/>
<circle cx="680.9" cy="704.3" r="3.5" fill="#fff" stroke="#f9c0b8" stroke-width="0.8"/>
<circle cx="683.3" cy="710.5" r="3.5" fill="#fff" stroke="#f9c0b8" stroke-width="0.8"/>
<circle cx="685.7" cy="695.7" r="3.5" fill="#fff" stroke="#f9c0b8" stroke-width="0.8"/>
<circle cx="688.2" cy="674.7" r="3.5" fill="#fff" stroke="#f9c0b8" stroke-width="0.8"/>
<circle cx="690.6" cy="696.7" r="3.5" fill="#fff" stroke="#f9c0b8" stroke-width="0.8"/>
<circle cx="693.0" cy="677.6" r="3.5" fill="#fff" stroke="#f9c0b8" stroke-width="0.8"/>
<circle cx="695.5" cy="687.5" r="3.5" fill="#fff" stroke="#f9c0b8" stroke-width="0.8"/>
<circle cx="697.9" cy="697.3" r="3.5" fill="#fff" stroke="#f9c0b8" stroke-width="0.8"/>
<circle cx="700.3" cy="729.1" r="3.5" fill="#fff" stroke="#f9c0b8" stroke-width="0.8"/>
<circle cx="702.8" cy="689.9" r="3.5" fill="#fff" stroke="#f9c0b8" stroke-width="0.8"/>
<circle cx="705.2" cy="696.7" r="3.5" fill="#fff" stroke="#f9c0b8" stroke-width="0.8"/>
<circle cx="707.7" cy="715.0" r="3.5" fill="#fff" stroke="#f9c0b8" stroke-width="0.8"/>
<circle cx="710.1" cy="686.1" r="3.5" fill="#fff" stroke="#f9c0b8" stroke-width="0.8"/>
<circle cx="712.5" cy="693.7" r="3.5" fill="#fff" stroke="#f9c0b8" stroke-width="0.8"/>
<circle cx="715.0" cy="688.4" r="3.5" fill="#fff" stroke="#f9c0b8" stroke-width="0.8"/>
<circle cx="717.4" cy="702.2" r="3.5" fill="#fff" stroke="#f9c0b8" stroke-width="0.8"/>
</svg></body></html>
